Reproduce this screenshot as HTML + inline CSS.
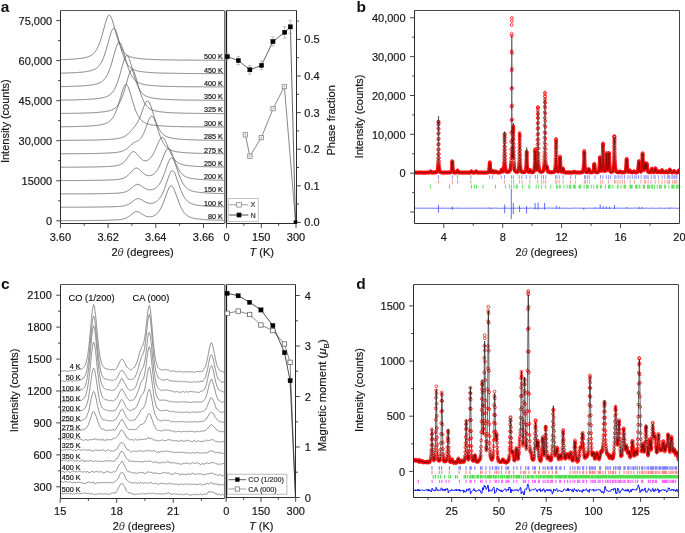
<!DOCTYPE html>
<html><head><meta charset="utf-8"><title>Figure</title><style>html,body{margin:0;padding:0;background:#fff;overflow:hidden;}svg{display:block;font-family:"Liberation Sans",sans-serif;will-change:transform;}</style></head><body>
<svg width="685" height="533" viewBox="0 0 685 533" font-family="Liberation Sans, sans-serif">
<defs><clipPath id="clipA"><rect x="61" y="11" width="163.2" height="211.6"/></clipPath><clipPath id="clipC"><rect x="61" y="285" width="163.2" height="213"/></clipPath><clipPath id="clipB"><rect x="415" y="11" width="264.5" height="212"/></clipPath><clipPath id="clipD"><rect x="414" y="285" width="264.2" height="211.7"/></clipPath><marker id="mc" markerWidth="4" markerHeight="4" refX="2" refY="2" markerUnits="userSpaceOnUse" overflow="visible"><circle cx="2" cy="2" r="1.42" fill="none" stroke="#ff0a0a" stroke-width="0.75"/></marker></defs>
<rect width="685" height="533" fill="#fff"/>
<g clip-path="url(#clipA)">
<polyline points="60.5,59.7 61.0,59.7 61.5,59.6 62.0,59.6 62.5,59.6 63.0,59.6 63.5,59.6 64.0,59.6 64.5,59.5 65.0,59.5 65.5,59.5 66.0,59.5 66.5,59.5 67.0,59.4 67.5,59.4 68.0,59.4 68.5,59.4 69.0,59.3 69.5,59.3 70.0,59.3 70.5,59.3 71.0,59.2 71.5,59.2 72.0,59.2 72.5,59.1 73.0,59.1 73.5,59.1 74.0,59.0 74.5,59.0 75.0,59.0 75.5,58.9 76.0,58.9 76.5,58.8 77.0,58.8 77.5,58.7 78.0,58.7 78.5,58.6 79.0,58.6 79.5,58.5 80.0,58.5 80.5,58.4 81.0,58.3 81.5,58.3 82.0,58.2 82.5,58.1 83.0,58.0 83.5,57.9 84.0,57.8 84.5,57.7 85.0,57.6 85.5,57.5 86.0,57.4 86.5,57.3 87.0,57.1 87.5,57.0 88.0,56.8 88.5,56.6 89.0,56.4 89.5,56.2 90.0,56.0 90.5,55.7 91.0,55.4 91.5,55.1 92.0,54.8 92.5,54.4 93.0,54.0 93.5,53.5 94.0,53.0 94.5,52.5 95.0,51.8 95.5,51.2 96.0,50.4 96.5,49.6 97.0,48.7 97.5,47.8 98.0,46.7 98.5,45.6 99.0,44.4 99.5,43.1 100.0,41.8 100.5,40.3 101.0,38.8 101.5,37.1 102.0,35.5 102.5,33.7 103.0,31.9 103.5,30.1 104.0,28.3 104.5,26.4 105.0,24.6 105.5,22.8 106.0,21.2 106.5,19.7 107.0,18.3 107.5,17.1 108.0,16.2 108.5,15.6 109.0,15.3 109.5,15.2 110.0,15.5 110.5,16.1 111.0,16.9 111.5,18.0 112.0,19.4 112.5,20.9 113.0,22.5 113.5,24.2 114.0,26.0 114.5,27.9 115.0,29.7 115.5,31.6 116.0,33.4 116.5,35.1 117.0,36.8 117.5,38.4 118.0,40.0 118.5,41.5 119.0,42.9 119.5,44.2 120.0,45.4 120.5,46.5 121.0,47.6 121.5,48.5 122.0,49.4 122.5,50.3 123.0,51.0 123.5,51.7 124.0,52.3 124.5,52.9 125.0,53.4 125.5,53.9 126.0,54.3 126.5,54.7 127.0,55.1 127.5,55.4 128.0,55.7 128.5,55.9 129.0,56.2 129.5,56.4 130.0,56.6 130.5,56.8 131.0,56.9 131.5,57.1 132.0,57.2 132.5,57.4 133.0,57.5 133.5,57.6 134.0,57.7 134.5,57.8 135.0,57.9 135.5,58.0 136.0,58.1 136.5,58.2 137.0,58.2 137.5,58.3 138.0,58.4 138.5,58.4 139.0,58.5 139.5,58.6 140.0,58.6 140.5,58.7 141.0,58.7 141.5,58.8 142.0,58.8 142.5,58.9 143.0,58.9 143.5,58.9 144.0,59.0 144.5,59.0 145.0,59.1 145.5,59.1 146.0,59.1 146.5,59.2 147.0,59.2 147.5,59.2 148.0,59.3 148.5,59.3 149.0,59.3 149.5,59.3 150.0,59.4 150.5,59.4 151.0,59.4 151.5,59.4 152.0,59.4 152.5,59.5 153.0,59.5 153.5,59.5 154.0,59.5 154.5,59.5 155.0,59.6 155.5,59.6 156.0,59.6 156.5,59.6 157.0,59.6 157.5,59.6 158.0,59.7 158.5,59.7 159.0,59.7 159.5,59.7 160.0,59.7 160.5,59.7 161.0,59.7 161.5,59.8 162.0,59.8 162.5,59.8 163.0,59.8 163.5,59.8 164.0,59.8 164.5,59.8 165.0,59.8 165.5,59.8 166.0,59.9 166.5,59.9 167.0,59.9 167.5,59.9 168.0,59.9 168.5,59.9 169.0,59.9 169.5,59.9 170.0,59.9 170.5,59.9 171.0,59.9 171.5,59.9 172.0,60.0 172.5,60.0 173.0,60.0 173.5,60.0 174.0,60.0 174.5,60.0 175.0,60.0 175.5,60.0 176.0,60.0 176.5,60.0 177.0,60.0 177.5,60.0 178.0,60.0 178.5,60.0 179.0,60.0 179.5,60.0 180.0,60.0 180.5,60.1 181.0,60.1 181.5,60.1 182.0,60.1 182.5,60.1 183.0,60.1 183.5,60.1 184.0,60.1 184.5,60.1 185.0,60.1 185.5,60.1 186.0,60.1 186.5,60.1 187.0,60.1 187.5,60.1 188.0,60.1 188.5,60.1 189.0,60.1 189.5,60.1 190.0,60.1 190.5,60.1 191.0,60.1 191.5,60.1 192.0,60.1 192.5,60.1 193.0,60.1 193.5,60.1 194.0,60.2 194.5,60.2 195.0,60.2 195.5,60.2 196.0,60.2 196.5,60.2 197.0,60.2 197.5,60.2 198.0,60.2 198.5,60.2 199.0,60.2 199.5,60.2 200.0,60.2 200.5,60.2 201.0,60.2 201.5,60.2 202.0,60.2 202.5,60.2 203.0,60.2 203.5,60.2 204.0,60.2 204.5,60.2 205.0,60.2 205.5,60.2 206.0,60.2 206.5,60.2 207.0,60.2 207.5,60.2 208.0,60.2 208.5,60.2 209.0,60.2 209.5,60.2 210.0,60.2 210.5,60.2 211.0,60.2 211.5,60.2 212.0,60.2 212.5,60.2 213.0,60.2 213.5,60.2 214.0,60.2 214.5,60.2 215.0,60.2 215.5,60.2 216.0,60.2 216.5,60.2 217.0,60.2 217.5,60.2 218.0,60.2 218.5,60.3 219.0,60.3 219.5,60.3 220.0,60.3 220.5,60.3 221.0,60.3 221.5,60.3 222.0,60.3 222.5,60.3 223.0,60.3 223.5,60.3 224.0,60.3 224.5,60.3" fill="none" stroke="#505050" stroke-width="0.7" />
<polyline points="60.5,73.2 61.0,73.2 61.5,73.2 62.0,73.1 62.5,73.1 63.0,73.1 63.5,73.1 64.0,73.1 64.5,73.1 65.0,73.1 65.5,73.0 66.0,73.0 66.5,73.0 67.0,73.0 67.5,73.0 68.0,73.0 68.5,72.9 69.0,72.9 69.5,72.9 70.0,72.9 70.5,72.9 71.0,72.8 71.5,72.8 72.0,72.8 72.5,72.8 73.0,72.8 73.5,72.7 74.0,72.7 74.5,72.7 75.0,72.6 75.5,72.6 76.0,72.6 76.5,72.6 77.0,72.5 77.5,72.5 78.0,72.5 78.5,72.4 79.0,72.4 79.5,72.3 80.0,72.3 80.5,72.3 81.0,72.2 81.5,72.2 82.0,72.1 82.5,72.1 83.0,72.0 83.5,72.0 84.0,71.9 84.5,71.8 85.0,71.8 85.5,71.7 86.0,71.6 86.5,71.6 87.0,71.5 87.5,71.4 88.0,71.3 88.5,71.2 89.0,71.1 89.5,71.0 90.0,70.9 90.5,70.8 91.0,70.6 91.5,70.5 92.0,70.4 92.5,70.2 93.0,70.0 93.5,69.8 94.0,69.6 94.5,69.4 95.0,69.1 95.5,68.8 96.0,68.5 96.5,68.2 97.0,67.8 97.5,67.4 98.0,66.9 98.5,66.4 99.0,65.8 99.5,65.2 100.0,64.5 100.5,63.8 101.0,62.9 101.5,62.1 102.0,61.1 102.5,60.0 103.0,58.9 103.5,57.7 104.0,56.4 104.5,55.0 105.0,53.6 105.5,52.0 106.0,50.4 106.5,48.7 107.0,46.9 107.5,45.1 108.0,43.3 108.5,41.4 109.0,39.6 109.5,37.8 110.0,36.0 110.5,34.3 111.0,32.8 111.5,31.4 112.0,30.3 112.5,29.3 113.0,28.7 113.5,28.4 114.0,28.3 114.5,28.6 115.0,29.2 115.5,30.1 116.0,31.2 116.5,32.5 117.0,34.0 117.5,35.7 118.0,37.4 118.5,39.2 119.0,41.1 119.5,42.9 120.0,44.8 120.5,46.6 121.0,48.4 121.5,50.1 122.0,51.7 122.5,53.3 123.0,54.7 123.5,56.1 124.0,57.5 124.5,58.7 125.0,59.8 125.5,60.9 126.0,61.9 126.5,62.8 127.0,63.6 127.5,64.4 128.0,65.1 128.5,65.7 129.0,66.3 129.5,66.8 130.0,67.3 130.5,67.7 131.0,68.1 131.5,68.4 132.0,68.8 132.5,69.0 133.0,69.3 133.5,69.5 134.0,69.8 134.5,70.0 135.0,70.2 135.5,70.3 136.0,70.5 136.5,70.6 137.0,70.8 137.5,70.9 138.0,71.0 138.5,71.1 139.0,71.2 139.5,71.3 140.0,71.4 140.5,71.5 141.0,71.5 141.5,71.6 142.0,71.7 142.5,71.8 143.0,71.8 143.5,71.9 144.0,71.9 144.5,72.0 145.0,72.1 145.5,72.1 146.0,72.2 146.5,72.2 147.0,72.3 147.5,72.3 148.0,72.3 148.5,72.4 149.0,72.4 149.5,72.5 150.0,72.5 150.5,72.5 151.0,72.6 151.5,72.6 152.0,72.6 152.5,72.6 153.0,72.7 153.5,72.7 154.0,72.7 154.5,72.8 155.0,72.8 155.5,72.8 156.0,72.8 156.5,72.8 157.0,72.9 157.5,72.9 158.0,72.9 158.5,72.9 159.0,72.9 159.5,73.0 160.0,73.0 160.5,73.0 161.0,73.0 161.5,73.0 162.0,73.0 162.5,73.1 163.0,73.1 163.5,73.1 164.0,73.1 164.5,73.1 165.0,73.1 165.5,73.1 166.0,73.2 166.5,73.2 167.0,73.2 167.5,73.2 168.0,73.2 168.5,73.2 169.0,73.2 169.5,73.2 170.0,73.2 170.5,73.2 171.0,73.3 171.5,73.3 172.0,73.3 172.5,73.3 173.0,73.3 173.5,73.3 174.0,73.3 174.5,73.3 175.0,73.3 175.5,73.3 176.0,73.3 176.5,73.3 177.0,73.4 177.5,73.4 178.0,73.4 178.5,73.4 179.0,73.4 179.5,73.4 180.0,73.4 180.5,73.4 181.0,73.4 181.5,73.4 182.0,73.4 182.5,73.4 183.0,73.4 183.5,73.4 184.0,73.4 184.5,73.4 185.0,73.4 185.5,73.5 186.0,73.5 186.5,73.5 187.0,73.5 187.5,73.5 188.0,73.5 188.5,73.5 189.0,73.5 189.5,73.5 190.0,73.5 190.5,73.5 191.0,73.5 191.5,73.5 192.0,73.5 192.5,73.5 193.0,73.5 193.5,73.5 194.0,73.5 194.5,73.5 195.0,73.5 195.5,73.5 196.0,73.5 196.5,73.5 197.0,73.5 197.5,73.5 198.0,73.5 198.5,73.6 199.0,73.6 199.5,73.6 200.0,73.6 200.5,73.6 201.0,73.6 201.5,73.6 202.0,73.6 202.5,73.6 203.0,73.6 203.5,73.6 204.0,73.6 204.5,73.6 205.0,73.6 205.5,73.6 206.0,73.6 206.5,73.6 207.0,73.6 207.5,73.6 208.0,73.6 208.5,73.6 209.0,73.6 209.5,73.6 210.0,73.6 210.5,73.6 211.0,73.6 211.5,73.6 212.0,73.6 212.5,73.6 213.0,73.6 213.5,73.6 214.0,73.6 214.5,73.6 215.0,73.6 215.5,73.6 216.0,73.6 216.5,73.6 217.0,73.6 217.5,73.6 218.0,73.6 218.5,73.6 219.0,73.6 219.5,73.6 220.0,73.6 220.5,73.6 221.0,73.6 221.5,73.6 222.0,73.6 222.5,73.6 223.0,73.6 223.5,73.7 224.0,73.7 224.5,73.7" fill="none" stroke="#505050" stroke-width="0.7" />
<polyline points="60.5,86.6 61.0,86.6 61.5,86.6 62.0,86.6 62.5,86.6 63.0,86.5 63.5,86.5 64.0,86.5 64.5,86.5 65.0,86.5 65.5,86.5 66.0,86.5 66.5,86.5 67.0,86.5 67.5,86.4 68.0,86.4 68.5,86.4 69.0,86.4 69.5,86.4 70.0,86.4 70.5,86.4 71.0,86.4 71.5,86.3 72.0,86.3 72.5,86.3 73.0,86.3 73.5,86.3 74.0,86.3 74.5,86.2 75.0,86.2 75.5,86.2 76.0,86.2 76.5,86.2 77.0,86.1 77.5,86.1 78.0,86.1 78.5,86.1 79.0,86.0 79.5,86.0 80.0,86.0 80.5,86.0 81.0,85.9 81.5,85.9 82.0,85.9 82.5,85.8 83.0,85.8 83.5,85.8 84.0,85.7 84.5,85.7 85.0,85.7 85.5,85.6 86.0,85.6 86.5,85.5 87.0,85.5 87.5,85.4 88.0,85.4 88.5,85.3 89.0,85.3 89.5,85.2 90.0,85.2 90.5,85.1 91.0,85.0 91.5,85.0 92.0,84.9 92.5,84.8 93.0,84.7 93.5,84.6 94.0,84.5 94.5,84.4 95.0,84.3 95.5,84.2 96.0,84.1 96.5,84.0 97.0,83.8 97.5,83.7 98.0,83.5 98.5,83.3 99.0,83.1 99.5,82.9 100.0,82.7 100.5,82.4 101.0,82.1 101.5,81.8 102.0,81.5 102.5,81.1 103.0,80.6 103.5,80.2 104.0,79.7 104.5,79.1 105.0,78.5 105.5,77.8 106.0,77.0 106.5,76.2 107.0,75.3 107.5,74.4 108.0,73.3 108.5,72.2 109.0,71.0 109.5,69.7 110.0,68.3 110.5,66.8 111.0,65.3 111.5,63.7 112.0,62.0 112.5,60.2 113.0,58.5 113.5,56.6 114.0,54.8 114.5,53.0 115.0,51.2 115.5,49.5 116.0,47.8 116.5,46.3 117.0,45.0 117.5,43.9 118.0,43.1 118.5,42.5 119.0,42.2 119.5,42.3 120.0,42.6 120.5,43.2 121.0,44.1 121.5,45.3 122.0,46.6 122.5,48.1 123.0,49.8 123.5,51.5 124.0,53.3 124.5,55.2 125.0,57.0 125.5,58.8 126.0,60.6 126.5,62.3 127.0,64.0 127.5,65.6 128.0,67.1 128.5,68.6 129.0,69.9 129.5,71.2 130.0,72.4 130.5,73.5 131.0,74.6 131.5,75.5 132.0,76.4 132.5,77.2 133.0,77.9 133.5,78.6 134.0,79.2 134.5,79.8 135.0,80.3 135.5,80.7 136.0,81.2 136.5,81.5 137.0,81.9 137.5,82.2 138.0,82.5 138.5,82.7 139.0,82.9 139.5,83.2 140.0,83.4 140.5,83.5 141.0,83.7 141.5,83.8 142.0,84.0 142.5,84.1 143.0,84.2 143.5,84.3 144.0,84.5 144.5,84.6 145.0,84.6 145.5,84.7 146.0,84.8 146.5,84.9 147.0,85.0 147.5,85.0 148.0,85.1 148.5,85.2 149.0,85.2 149.5,85.3 150.0,85.3 150.5,85.4 151.0,85.4 151.5,85.5 152.0,85.5 152.5,85.6 153.0,85.6 153.5,85.7 154.0,85.7 154.5,85.7 155.0,85.8 155.5,85.8 156.0,85.8 156.5,85.9 157.0,85.9 157.5,85.9 158.0,86.0 158.5,86.0 159.0,86.0 159.5,86.0 160.0,86.1 160.5,86.1 161.0,86.1 161.5,86.1 162.0,86.2 162.5,86.2 163.0,86.2 163.5,86.2 164.0,86.2 164.5,86.3 165.0,86.3 165.5,86.3 166.0,86.3 166.5,86.3 167.0,86.3 167.5,86.4 168.0,86.4 168.5,86.4 169.0,86.4 169.5,86.4 170.0,86.4 170.5,86.4 171.0,86.5 171.5,86.5 172.0,86.5 172.5,86.5 173.0,86.5 173.5,86.5 174.0,86.5 174.5,86.5 175.0,86.5 175.5,86.5 176.0,86.6 176.5,86.6 177.0,86.6 177.5,86.6 178.0,86.6 178.5,86.6 179.0,86.6 179.5,86.6 180.0,86.6 180.5,86.6 181.0,86.6 181.5,86.6 182.0,86.7 182.5,86.7 183.0,86.7 183.5,86.7 184.0,86.7 184.5,86.7 185.0,86.7 185.5,86.7 186.0,86.7 186.5,86.7 187.0,86.7 187.5,86.7 188.0,86.7 188.5,86.7 189.0,86.7 189.5,86.7 190.0,86.7 190.5,86.8 191.0,86.8 191.5,86.8 192.0,86.8 192.5,86.8 193.0,86.8 193.5,86.8 194.0,86.8 194.5,86.8 195.0,86.8 195.5,86.8 196.0,86.8 196.5,86.8 197.0,86.8 197.5,86.8 198.0,86.8 198.5,86.8 199.0,86.8 199.5,86.8 200.0,86.8 200.5,86.8 201.0,86.8 201.5,86.8 202.0,86.8 202.5,86.8 203.0,86.8 203.5,86.9 204.0,86.9 204.5,86.9 205.0,86.9 205.5,86.9 206.0,86.9 206.5,86.9 207.0,86.9 207.5,86.9 208.0,86.9 208.5,86.9 209.0,86.9 209.5,86.9 210.0,86.9 210.5,86.9 211.0,86.9 211.5,86.9 212.0,86.9 212.5,86.9 213.0,86.9 213.5,86.9 214.0,86.9 214.5,86.9 215.0,86.9 215.5,86.9 216.0,86.9 216.5,86.9 217.0,86.9 217.5,86.9 218.0,86.9 218.5,86.9 219.0,86.9 219.5,86.9 220.0,86.9 220.5,86.9 221.0,86.9 221.5,86.9 222.0,86.9 222.5,86.9 223.0,86.9 223.5,86.9 224.0,86.9 224.5,86.9" fill="none" stroke="#505050" stroke-width="0.7" />
<polyline points="60.5,100.1 61.0,100.1 61.5,100.1 62.0,100.1 62.5,100.1 63.0,100.1 63.5,100.1 64.0,100.1 64.5,100.0 65.0,100.0 65.5,100.0 66.0,100.0 66.5,100.0 67.0,100.0 67.5,100.0 68.0,100.0 68.5,100.0 69.0,100.0 69.5,100.0 70.0,100.0 70.5,100.0 71.0,99.9 71.5,99.9 72.0,99.9 72.5,99.9 73.0,99.9 73.5,99.9 74.0,99.9 74.5,99.9 75.0,99.9 75.5,99.8 76.0,99.8 76.5,99.8 77.0,99.8 77.5,99.8 78.0,99.8 78.5,99.8 79.0,99.7 79.5,99.7 80.0,99.7 80.5,99.7 81.0,99.7 81.5,99.7 82.0,99.6 82.5,99.6 83.0,99.6 83.5,99.6 84.0,99.6 84.5,99.5 85.0,99.5 85.5,99.5 86.0,99.5 86.5,99.4 87.0,99.4 87.5,99.4 88.0,99.4 88.5,99.3 89.0,99.3 89.5,99.3 90.0,99.3 90.5,99.2 91.0,99.2 91.5,99.1 92.0,99.1 92.5,99.1 93.0,99.0 93.5,99.0 94.0,98.9 94.5,98.9 95.0,98.9 95.5,98.8 96.0,98.8 96.5,98.7 97.0,98.6 97.5,98.6 98.0,98.5 98.5,98.5 99.0,98.4 99.5,98.3 100.0,98.2 100.5,98.1 101.0,98.1 101.5,98.0 102.0,97.9 102.5,97.8 103.0,97.7 103.5,97.5 104.0,97.4 104.5,97.3 105.0,97.1 105.5,97.0 106.0,96.8 106.5,96.6 107.0,96.4 107.5,96.2 108.0,95.9 108.5,95.6 109.0,95.3 109.5,95.0 110.0,94.6 110.5,94.2 111.0,93.8 111.5,93.3 112.0,92.7 112.5,92.1 113.0,91.5 113.5,90.7 114.0,90.0 114.5,89.1 115.0,88.2 115.5,87.1 116.0,86.0 116.5,84.9 117.0,83.6 117.5,82.3 118.0,80.8 118.5,79.3 119.0,77.7 119.5,76.1 120.0,74.3 120.5,72.6 121.0,70.8 121.5,68.9 122.0,67.1 122.5,65.3 123.0,63.5 123.5,61.9 124.0,60.3 124.5,58.9 125.0,57.7 125.5,56.8 126.0,56.1 126.5,55.7 127.0,55.6 127.5,55.8 128.0,56.3 128.5,57.1 129.0,58.2 129.5,59.5 130.0,60.9 130.5,62.5 131.0,64.2 131.5,66.0 132.0,67.8 132.5,69.7 133.0,71.5 133.5,73.3 134.0,75.0 134.5,76.7 135.0,78.4 135.5,79.9 136.0,81.4 136.5,82.8 137.0,84.1 137.5,85.3 138.0,86.5 138.5,87.6 139.0,88.5 139.5,89.4 140.0,90.3 140.5,91.0 141.0,91.7 141.5,92.4 142.0,93.0 142.5,93.5 143.0,94.0 143.5,94.4 144.0,94.8 144.5,95.1 145.0,95.5 145.5,95.8 146.0,96.0 146.5,96.3 147.0,96.5 147.5,96.7 148.0,96.9 148.5,97.0 149.0,97.2 149.5,97.3 150.0,97.5 150.5,97.6 151.0,97.7 151.5,97.8 152.0,97.9 152.5,98.0 153.0,98.1 153.5,98.2 154.0,98.3 154.5,98.3 155.0,98.4 155.5,98.5 156.0,98.5 156.5,98.6 157.0,98.7 157.5,98.7 158.0,98.8 158.5,98.8 159.0,98.9 159.5,98.9 160.0,99.0 160.5,99.0 161.0,99.0 161.5,99.1 162.0,99.1 162.5,99.2 163.0,99.2 163.5,99.2 164.0,99.3 164.5,99.3 165.0,99.3 165.5,99.4 166.0,99.4 166.5,99.4 167.0,99.4 167.5,99.5 168.0,99.5 168.5,99.5 169.0,99.5 169.5,99.6 170.0,99.6 170.5,99.6 171.0,99.6 171.5,99.6 172.0,99.7 172.5,99.7 173.0,99.7 173.5,99.7 174.0,99.7 174.5,99.7 175.0,99.8 175.5,99.8 176.0,99.8 176.5,99.8 177.0,99.8 177.5,99.8 178.0,99.8 178.5,99.8 179.0,99.9 179.5,99.9 180.0,99.9 180.5,99.9 181.0,99.9 181.5,99.9 182.0,99.9 182.5,99.9 183.0,99.9 183.5,100.0 184.0,100.0 184.5,100.0 185.0,100.0 185.5,100.0 186.0,100.0 186.5,100.0 187.0,100.0 187.5,100.0 188.0,100.0 188.5,100.0 189.0,100.0 189.5,100.1 190.0,100.1 190.5,100.1 191.0,100.1 191.5,100.1 192.0,100.1 192.5,100.1 193.0,100.1 193.5,100.1 194.0,100.1 194.5,100.1 195.0,100.1 195.5,100.1 196.0,100.1 196.5,100.1 197.0,100.1 197.5,100.1 198.0,100.2 198.5,100.2 199.0,100.2 199.5,100.2 200.0,100.2 200.5,100.2 201.0,100.2 201.5,100.2 202.0,100.2 202.5,100.2 203.0,100.2 203.5,100.2 204.0,100.2 204.5,100.2 205.0,100.2 205.5,100.2 206.0,100.2 206.5,100.2 207.0,100.2 207.5,100.2 208.0,100.2 208.5,100.2 209.0,100.2 209.5,100.2 210.0,100.2 210.5,100.2 211.0,100.3 211.5,100.3 212.0,100.3 212.5,100.3 213.0,100.3 213.5,100.3 214.0,100.3 214.5,100.3 215.0,100.3 215.5,100.3 216.0,100.3 216.5,100.3 217.0,100.3 217.5,100.3 218.0,100.3 218.5,100.3 219.0,100.3 219.5,100.3 220.0,100.3 220.5,100.3 221.0,100.3 221.5,100.3 222.0,100.3 222.5,100.3 223.0,100.3 223.5,100.3 224.0,100.3 224.5,100.3" fill="none" stroke="#505050" stroke-width="0.7" />
<polyline points="60.5,113.5 61.0,113.5 61.5,113.5 62.0,113.4 62.5,113.4 63.0,113.4 63.5,113.4 64.0,113.4 64.5,113.4 65.0,113.4 65.5,113.4 66.0,113.4 66.5,113.4 67.0,113.4 67.5,113.4 68.0,113.4 68.5,113.4 69.0,113.4 69.5,113.4 70.0,113.4 70.5,113.3 71.0,113.3 71.5,113.3 72.0,113.3 72.5,113.3 73.0,113.3 73.5,113.3 74.0,113.3 74.5,113.3 75.0,113.3 75.5,113.3 76.0,113.3 76.5,113.2 77.0,113.2 77.5,113.2 78.0,113.2 78.5,113.2 79.0,113.2 79.5,113.2 80.0,113.2 80.5,113.2 81.0,113.1 81.5,113.1 82.0,113.1 82.5,113.1 83.0,113.1 83.5,113.1 84.0,113.1 84.5,113.0 85.0,113.0 85.5,113.0 86.0,113.0 86.5,113.0 87.0,113.0 87.5,112.9 88.0,112.9 88.5,112.9 89.0,112.9 89.5,112.9 90.0,112.8 90.5,112.8 91.0,112.8 91.5,112.8 92.0,112.7 92.5,112.7 93.0,112.7 93.5,112.7 94.0,112.6 94.5,112.6 95.0,112.6 95.5,112.5 96.0,112.5 96.5,112.5 97.0,112.4 97.5,112.4 98.0,112.4 98.5,112.3 99.0,112.3 99.5,112.2 100.0,112.2 100.5,112.1 101.0,112.1 101.5,112.0 102.0,112.0 102.5,111.9 103.0,111.9 103.5,111.8 104.0,111.7 104.5,111.7 105.0,111.6 105.5,111.5 106.0,111.4 106.5,111.3 107.0,111.2 107.5,111.1 108.0,111.0 108.5,110.9 109.0,110.8 109.5,110.7 110.0,110.5 110.5,110.4 111.0,110.2 111.5,110.0 112.0,109.8 112.5,109.6 113.0,109.3 113.5,109.1 114.0,108.8 114.5,108.5 115.0,108.1 115.5,107.7 116.0,107.3 116.5,106.8 117.0,106.3 117.5,105.7 118.0,105.0 118.5,104.3 119.0,103.6 119.5,102.7 120.0,101.8 120.5,100.9 121.0,99.8 121.5,98.6 122.0,97.4 122.5,96.1 123.0,94.7 123.5,93.2 124.0,91.7 124.5,90.1 125.0,88.4 125.5,86.7 126.0,84.9 126.5,83.1 127.0,81.3 127.5,79.5 128.0,77.8 128.5,76.1 129.0,74.5 129.5,73.1 130.0,71.9 130.5,70.9 131.0,70.2 131.5,69.8 132.0,69.6 132.5,69.8 133.0,70.2 133.5,70.9 134.0,71.9 134.5,73.1 135.0,74.5 135.5,76.1 136.0,77.8 136.5,79.5 137.0,81.3 137.5,83.1 138.0,84.9 138.5,86.7 139.0,88.4 139.5,90.1 140.0,91.7 140.5,93.2 141.0,94.7 141.5,96.1 142.0,97.4 142.5,98.6 143.0,99.8 143.5,100.9 144.0,101.8 144.5,102.7 145.0,103.6 145.5,104.3 146.0,105.0 146.5,105.7 147.0,106.3 147.5,106.8 148.0,107.3 148.5,107.7 149.0,108.1 149.5,108.5 150.0,108.8 150.5,109.1 151.0,109.3 151.5,109.6 152.0,109.8 152.5,110.0 153.0,110.2 153.5,110.4 154.0,110.5 154.5,110.7 155.0,110.8 155.5,110.9 156.0,111.0 156.5,111.1 157.0,111.2 157.5,111.3 158.0,111.4 158.5,111.5 159.0,111.6 159.5,111.7 160.0,111.7 160.5,111.8 161.0,111.9 161.5,111.9 162.0,112.0 162.5,112.0 163.0,112.1 163.5,112.1 164.0,112.2 164.5,112.2 165.0,112.3 165.5,112.3 166.0,112.4 166.5,112.4 167.0,112.4 167.5,112.5 168.0,112.5 168.5,112.5 169.0,112.6 169.5,112.6 170.0,112.6 170.5,112.7 171.0,112.7 171.5,112.7 172.0,112.7 172.5,112.8 173.0,112.8 173.5,112.8 174.0,112.8 174.5,112.9 175.0,112.9 175.5,112.9 176.0,112.9 176.5,112.9 177.0,113.0 177.5,113.0 178.0,113.0 178.5,113.0 179.0,113.0 179.5,113.0 180.0,113.1 180.5,113.1 181.0,113.1 181.5,113.1 182.0,113.1 182.5,113.1 183.0,113.1 183.5,113.2 184.0,113.2 184.5,113.2 185.0,113.2 185.5,113.2 186.0,113.2 186.5,113.2 187.0,113.2 187.5,113.2 188.0,113.3 188.5,113.3 189.0,113.3 189.5,113.3 190.0,113.3 190.5,113.3 191.0,113.3 191.5,113.3 192.0,113.3 192.5,113.3 193.0,113.3 193.5,113.3 194.0,113.4 194.5,113.4 195.0,113.4 195.5,113.4 196.0,113.4 196.5,113.4 197.0,113.4 197.5,113.4 198.0,113.4 198.5,113.4 199.0,113.4 199.5,113.4 200.0,113.4 200.5,113.4 201.0,113.4 201.5,113.4 202.0,113.4 202.5,113.5 203.0,113.5 203.5,113.5 204.0,113.5 204.5,113.5 205.0,113.5 205.5,113.5 206.0,113.5 206.5,113.5 207.0,113.5 207.5,113.5 208.0,113.5 208.5,113.5 209.0,113.5 209.5,113.5 210.0,113.5 210.5,113.5 211.0,113.5 211.5,113.5 212.0,113.5 212.5,113.5 213.0,113.5 213.5,113.5 214.0,113.5 214.5,113.5 215.0,113.5 215.5,113.6 216.0,113.6 216.5,113.6 217.0,113.6 217.5,113.6 218.0,113.6 218.5,113.6 219.0,113.6 219.5,113.6 220.0,113.6 220.5,113.6 221.0,113.6 221.5,113.6 222.0,113.6 222.5,113.6 223.0,113.6 223.5,113.6 224.0,113.6 224.5,113.6" fill="none" stroke="#505050" stroke-width="0.7" />
<polyline points="60.5,126.8 61.0,126.8 61.5,126.8 62.0,126.8 62.5,126.8 63.0,126.8 63.5,126.8 64.0,126.8 64.5,126.8 65.0,126.8 65.5,126.7 66.0,126.7 66.5,126.7 67.0,126.7 67.5,126.7 68.0,126.7 68.5,126.7 69.0,126.7 69.5,126.7 70.0,126.7 70.5,126.7 71.0,126.6 71.5,126.6 72.0,126.6 72.5,126.6 73.0,126.6 73.5,126.6 74.0,126.6 74.5,126.6 75.0,126.6 75.5,126.5 76.0,126.5 76.5,126.5 77.0,126.5 77.5,126.5 78.0,126.5 78.5,126.5 79.0,126.5 79.5,126.4 80.0,126.4 80.5,126.4 81.0,126.4 81.5,126.4 82.0,126.3 82.5,126.3 83.0,126.3 83.5,126.3 84.0,126.3 84.5,126.2 85.0,126.2 85.5,126.2 86.0,126.2 86.5,126.2 87.0,126.1 87.5,126.1 88.0,126.1 88.5,126.0 89.0,126.0 89.5,126.0 90.0,125.9 90.5,125.9 91.0,125.9 91.5,125.8 92.0,125.8 92.5,125.8 93.0,125.7 93.5,125.7 94.0,125.6 94.5,125.6 95.0,125.5 95.5,125.5 96.0,125.4 96.5,125.4 97.0,125.3 97.5,125.3 98.0,125.2 98.5,125.1 99.0,125.0 99.5,125.0 100.0,124.9 100.5,124.8 101.0,124.7 101.5,124.6 102.0,124.5 102.5,124.4 103.0,124.3 103.5,124.1 104.0,124.0 104.5,123.9 105.0,123.7 105.5,123.5 106.0,123.3 106.5,123.1 107.0,122.9 107.5,122.6 108.0,122.3 108.5,122.0 109.0,121.7 109.5,121.3 110.0,120.9 110.5,120.4 111.0,119.9 111.5,119.3 112.0,118.7 112.5,118.0 113.0,117.3 113.5,116.5 114.0,115.6 114.5,114.6 115.0,113.6 115.5,112.5 116.0,111.3 116.5,110.0 117.0,108.7 117.5,107.3 118.0,105.7 118.5,104.2 119.0,102.5 119.5,100.9 120.0,99.1 120.5,97.4 121.0,95.6 121.5,93.9 122.0,92.2 122.5,90.6 123.0,89.1 123.5,87.7 124.0,86.6 124.5,85.6 125.0,84.9 125.5,84.4 126.0,84.3 126.5,84.4 127.0,84.9 127.5,85.6 128.0,86.6 128.5,87.7 129.0,89.1 129.5,90.6 130.0,92.2 130.5,93.9 131.0,95.6 131.5,97.4 132.0,99.1 132.5,100.9 133.0,102.5 133.5,104.2 134.0,105.7 134.5,107.3 135.0,108.7 135.5,110.0 136.0,111.3 136.5,112.5 137.0,113.6 137.5,114.6 138.0,115.6 138.5,116.5 139.0,117.3 139.5,118.0 140.0,118.7 140.5,119.3 141.0,119.9 141.5,120.4 142.0,120.9 142.5,121.3 143.0,121.7 143.5,122.0 144.0,122.3 144.5,122.6 145.0,122.9 145.5,123.1 146.0,123.3 146.5,123.5 147.0,123.7 147.5,123.9 148.0,124.0 148.5,124.1 149.0,124.3 149.5,124.4 150.0,124.5 150.5,124.6 151.0,124.7 151.5,124.8 152.0,124.9 152.5,125.0 153.0,125.0 153.5,125.1 154.0,125.2 154.5,125.3 155.0,125.3 155.5,125.4 156.0,125.4 156.5,125.5 157.0,125.5 157.5,125.6 158.0,125.6 158.5,125.7 159.0,125.7 159.5,125.8 160.0,125.8 160.5,125.8 161.0,125.9 161.5,125.9 162.0,125.9 162.5,126.0 163.0,126.0 163.5,126.0 164.0,126.1 164.5,126.1 165.0,126.1 165.5,126.2 166.0,126.2 166.5,126.2 167.0,126.2 167.5,126.2 168.0,126.3 168.5,126.3 169.0,126.3 169.5,126.3 170.0,126.3 170.5,126.4 171.0,126.4 171.5,126.4 172.0,126.4 172.5,126.4 173.0,126.5 173.5,126.5 174.0,126.5 174.5,126.5 175.0,126.5 175.5,126.5 176.0,126.5 176.5,126.5 177.0,126.6 177.5,126.6 178.0,126.6 178.5,126.6 179.0,126.6 179.5,126.6 180.0,126.6 180.5,126.6 181.0,126.6 181.5,126.7 182.0,126.7 182.5,126.7 183.0,126.7 183.5,126.7 184.0,126.7 184.5,126.7 185.0,126.7 185.5,126.7 186.0,126.7 186.5,126.7 187.0,126.8 187.5,126.8 188.0,126.8 188.5,126.8 189.0,126.8 189.5,126.8 190.0,126.8 190.5,126.8 191.0,126.8 191.5,126.8 192.0,126.8 192.5,126.8 193.0,126.8 193.5,126.8 194.0,126.8 194.5,126.8 195.0,126.8 195.5,126.9 196.0,126.9 196.5,126.9 197.0,126.9 197.5,126.9 198.0,126.9 198.5,126.9 199.0,126.9 199.5,126.9 200.0,126.9 200.5,126.9 201.0,126.9 201.5,126.9 202.0,126.9 202.5,126.9 203.0,126.9 203.5,126.9 204.0,126.9 204.5,126.9 205.0,126.9 205.5,126.9 206.0,126.9 206.5,126.9 207.0,126.9 207.5,126.9 208.0,126.9 208.5,127.0 209.0,127.0 209.5,127.0 210.0,127.0 210.5,127.0 211.0,127.0 211.5,127.0 212.0,127.0 212.5,127.0 213.0,127.0 213.5,127.0 214.0,127.0 214.5,127.0 215.0,127.0 215.5,127.0 216.0,127.0 216.5,127.0 217.0,127.0 217.5,127.0 218.0,127.0 218.5,127.0 219.0,127.0 219.5,127.0 220.0,127.0 220.5,127.0 221.0,127.0 221.5,127.0 222.0,127.0 222.5,127.0 223.0,127.0 223.5,127.0 224.0,127.0 224.5,127.0" fill="none" stroke="#505050" stroke-width="0.7" />
<polyline points="60.5,140.4 61.0,140.4 61.5,140.4 62.0,140.4 62.5,140.4 63.0,140.4 63.5,140.4 64.0,140.4 64.5,140.4 65.0,140.3 65.5,140.3 66.0,140.3 66.5,140.3 67.0,140.3 67.5,140.3 68.0,140.3 68.5,140.3 69.0,140.3 69.5,140.3 70.0,140.3 70.5,140.3 71.0,140.3 71.5,140.3 72.0,140.3 72.5,140.3 73.0,140.3 73.5,140.3 74.0,140.3 74.5,140.3 75.0,140.3 75.5,140.3 76.0,140.3 76.5,140.3 77.0,140.3 77.5,140.3 78.0,140.2 78.5,140.2 79.0,140.2 79.5,140.2 80.0,140.2 80.5,140.2 81.0,140.2 81.5,140.2 82.0,140.2 82.5,140.2 83.0,140.2 83.5,140.2 84.0,140.2 84.5,140.2 85.0,140.2 85.5,140.2 86.0,140.1 86.5,140.1 87.0,140.1 87.5,140.1 88.0,140.1 88.5,140.1 89.0,140.1 89.5,140.1 90.0,140.1 90.5,140.1 91.0,140.1 91.5,140.1 92.0,140.0 92.5,140.0 93.0,140.0 93.5,140.0 94.0,140.0 94.5,140.0 95.0,140.0 95.5,140.0 96.0,140.0 96.5,139.9 97.0,139.9 97.5,139.9 98.0,139.9 98.5,139.9 99.0,139.9 99.5,139.9 100.0,139.8 100.5,139.8 101.0,139.8 101.5,139.8 102.0,139.8 102.5,139.7 103.0,139.7 103.5,139.7 104.0,139.7 104.5,139.7 105.0,139.6 105.5,139.6 106.0,139.6 106.5,139.6 107.0,139.5 107.5,139.5 108.0,139.5 108.5,139.5 109.0,139.4 109.5,139.4 110.0,139.4 110.5,139.3 111.0,139.3 111.5,139.2 112.0,139.2 112.5,139.2 113.0,139.1 113.5,139.1 114.0,139.0 114.5,139.0 115.0,138.9 115.5,138.9 116.0,138.8 116.5,138.7 117.0,138.6 117.5,138.6 118.0,138.5 118.5,138.4 119.0,138.3 119.5,138.2 120.0,138.1 120.5,137.9 121.0,137.8 121.5,137.6 122.0,137.5 122.5,137.3 123.0,137.1 123.5,136.9 124.0,136.6 124.5,136.4 125.0,136.1 125.5,135.8 126.0,135.5 126.5,135.1 127.0,134.8 127.5,134.4 128.0,134.0 128.5,133.5 129.0,133.1 129.5,132.6 130.0,132.1 130.5,131.5 131.0,131.0 131.5,130.4 132.0,129.8 132.5,129.2 133.0,128.6 133.5,128.0 134.0,127.4 134.5,126.7 135.0,126.1 135.5,125.4 136.0,124.7 136.5,123.9 137.0,123.1 137.5,122.3 138.0,121.3 138.5,120.4 139.0,119.3 139.5,118.2 140.0,117.0 140.5,115.8 141.0,114.5 141.5,113.1 142.0,111.7 142.5,110.3 143.0,108.9 143.5,107.5 144.0,106.2 144.5,104.9 145.0,103.8 145.5,102.8 146.0,102.0 146.5,101.4 147.0,101.0 147.5,100.9 148.0,101.0 148.5,101.4 149.0,102.1 149.5,103.0 150.0,104.0 150.5,105.3 151.0,106.6 151.5,108.1 152.0,109.7 152.5,111.3 153.0,112.9 153.5,114.5 154.0,116.1 154.5,117.6 155.0,119.1 155.5,120.6 156.0,122.0 156.5,123.3 157.0,124.5 157.5,125.7 158.0,126.8 158.5,127.9 159.0,128.8 159.5,129.7 160.0,130.5 160.5,131.3 161.0,132.0 161.5,132.6 162.0,133.2 162.5,133.7 163.0,134.2 163.5,134.6 164.0,135.0 164.5,135.4 165.0,135.7 165.5,136.0 166.0,136.3 166.5,136.5 167.0,136.7 167.5,136.9 168.0,137.1 168.5,137.3 169.0,137.4 169.5,137.6 170.0,137.7 170.5,137.8 171.0,137.9 171.5,138.0 172.0,138.1 172.5,138.2 173.0,138.3 173.5,138.4 174.0,138.5 174.5,138.6 175.0,138.6 175.5,138.7 176.0,138.8 176.5,138.8 177.0,138.9 177.5,138.9 178.0,139.0 178.5,139.0 179.0,139.1 179.5,139.1 180.0,139.2 180.5,139.2 181.0,139.2 181.5,139.3 182.0,139.3 182.5,139.3 183.0,139.4 183.5,139.4 184.0,139.4 184.5,139.5 185.0,139.5 185.5,139.5 186.0,139.5 186.5,139.6 187.0,139.6 187.5,139.6 188.0,139.6 188.5,139.7 189.0,139.7 189.5,139.7 190.0,139.7 190.5,139.7 191.0,139.8 191.5,139.8 192.0,139.8 192.5,139.8 193.0,139.8 193.5,139.9 194.0,139.9 194.5,139.9 195.0,139.9 195.5,139.9 196.0,139.9 196.5,139.9 197.0,140.0 197.5,140.0 198.0,140.0 198.5,140.0 199.0,140.0 199.5,140.0 200.0,140.0 200.5,140.0 201.0,140.0 201.5,140.1 202.0,140.1 202.5,140.1 203.0,140.1 203.5,140.1 204.0,140.1 204.5,140.1 205.0,140.1 205.5,140.1 206.0,140.1 206.5,140.1 207.0,140.1 207.5,140.2 208.0,140.2 208.5,140.2 209.0,140.2 209.5,140.2 210.0,140.2 210.5,140.2 211.0,140.2 211.5,140.2 212.0,140.2 212.5,140.2 213.0,140.2 213.5,140.2 214.0,140.2 214.5,140.2 215.0,140.2 215.5,140.3 216.0,140.3 216.5,140.3 217.0,140.3 217.5,140.3 218.0,140.3 218.5,140.3 219.0,140.3 219.5,140.3 220.0,140.3 220.5,140.3 221.0,140.3 221.5,140.3 222.0,140.3 222.5,140.3 223.0,140.3 223.5,140.3 224.0,140.3 224.5,140.3" fill="none" stroke="#505050" stroke-width="0.7" />
<polyline points="60.5,153.8 61.0,153.8 61.5,153.8 62.0,153.8 62.5,153.8 63.0,153.8 63.5,153.8 64.0,153.8 64.5,153.8 65.0,153.8 65.5,153.8 66.0,153.8 66.5,153.8 67.0,153.8 67.5,153.8 68.0,153.8 68.5,153.7 69.0,153.7 69.5,153.7 70.0,153.7 70.5,153.7 71.0,153.7 71.5,153.7 72.0,153.7 72.5,153.7 73.0,153.7 73.5,153.7 74.0,153.7 74.5,153.7 75.0,153.7 75.5,153.7 76.0,153.7 76.5,153.7 77.0,153.7 77.5,153.7 78.0,153.7 78.5,153.7 79.0,153.7 79.5,153.7 80.0,153.7 80.5,153.7 81.0,153.6 81.5,153.6 82.0,153.6 82.5,153.6 83.0,153.6 83.5,153.6 84.0,153.6 84.5,153.6 85.0,153.6 85.5,153.6 86.0,153.6 86.5,153.6 87.0,153.6 87.5,153.6 88.0,153.6 88.5,153.6 89.0,153.5 89.5,153.5 90.0,153.5 90.5,153.5 91.0,153.5 91.5,153.5 92.0,153.5 92.5,153.5 93.0,153.5 93.5,153.5 94.0,153.5 94.5,153.5 95.0,153.4 95.5,153.4 96.0,153.4 96.5,153.4 97.0,153.4 97.5,153.4 98.0,153.4 98.5,153.4 99.0,153.4 99.5,153.3 100.0,153.3 100.5,153.3 101.0,153.3 101.5,153.3 102.0,153.3 102.5,153.2 103.0,153.2 103.5,153.2 104.0,153.2 104.5,153.2 105.0,153.2 105.5,153.1 106.0,153.1 106.5,153.1 107.0,153.1 107.5,153.0 108.0,153.0 108.5,153.0 109.0,153.0 109.5,152.9 110.0,152.9 110.5,152.9 111.0,152.9 111.5,152.8 112.0,152.8 112.5,152.8 113.0,152.7 113.5,152.7 114.0,152.6 114.5,152.6 115.0,152.5 115.5,152.5 116.0,152.4 116.5,152.4 117.0,152.3 117.5,152.2 118.0,152.2 118.5,152.1 119.0,152.0 119.5,151.9 120.0,151.8 120.5,151.7 121.0,151.5 121.5,151.4 122.0,151.2 122.5,151.0 123.0,150.9 123.5,150.6 124.0,150.4 124.5,150.2 125.0,149.9 125.5,149.6 126.0,149.3 126.5,149.0 127.0,148.6 127.5,148.2 128.0,147.8 128.5,147.4 129.0,147.0 129.5,146.5 130.0,146.1 130.5,145.6 131.0,145.1 131.5,144.7 132.0,144.2 132.5,143.8 133.0,143.4 133.5,143.0 134.0,142.7 134.5,142.4 135.0,142.1 135.5,141.8 136.0,141.6 136.5,141.4 137.0,141.1 137.5,140.9 138.0,140.6 138.5,140.3 139.0,140.0 139.5,139.6 140.0,139.1 140.5,138.6 141.0,138.0 141.5,137.3 142.0,136.5 142.5,135.7 143.0,134.7 143.5,133.7 144.0,132.6 144.5,131.4 145.0,130.2 145.5,128.9 146.0,127.5 146.5,126.1 147.0,124.7 147.5,123.3 148.0,122.0 148.5,120.7 149.0,119.5 149.5,118.5 150.0,117.6 150.5,116.9 151.0,116.4 151.5,116.2 152.0,116.2 152.5,116.5 153.0,117.0 153.5,117.7 154.0,118.6 154.5,119.7 155.0,121.0 155.5,122.4 156.0,123.8 156.5,125.3 157.0,126.9 157.5,128.4 158.0,129.9 158.5,131.4 159.0,132.9 159.5,134.3 160.0,135.6 160.5,136.9 161.0,138.1 161.5,139.3 162.0,140.4 162.5,141.4 163.0,142.3 163.5,143.2 164.0,144.0 164.5,144.8 165.0,145.5 165.5,146.1 166.0,146.7 166.5,147.2 167.0,147.7 167.5,148.1 168.0,148.5 168.5,148.8 169.0,149.2 169.5,149.5 170.0,149.7 170.5,150.0 171.0,150.2 171.5,150.4 172.0,150.6 172.5,150.7 173.0,150.9 173.5,151.0 174.0,151.2 174.5,151.3 175.0,151.4 175.5,151.5 176.0,151.6 176.5,151.7 177.0,151.8 177.5,151.9 178.0,151.9 178.5,152.0 179.0,152.1 179.5,152.1 180.0,152.2 180.5,152.3 181.0,152.3 181.5,152.4 182.0,152.4 182.5,152.5 183.0,152.5 183.5,152.5 184.0,152.6 184.5,152.6 185.0,152.7 185.5,152.7 186.0,152.7 186.5,152.8 187.0,152.8 187.5,152.8 188.0,152.9 188.5,152.9 189.0,152.9 189.5,152.9 190.0,153.0 190.5,153.0 191.0,153.0 191.5,153.0 192.0,153.1 192.5,153.1 193.0,153.1 193.5,153.1 194.0,153.1 194.5,153.2 195.0,153.2 195.5,153.2 196.0,153.2 196.5,153.2 197.0,153.3 197.5,153.3 198.0,153.3 198.5,153.3 199.0,153.3 199.5,153.3 200.0,153.3 200.5,153.4 201.0,153.4 201.5,153.4 202.0,153.4 202.5,153.4 203.0,153.4 203.5,153.4 204.0,153.4 204.5,153.4 205.0,153.5 205.5,153.5 206.0,153.5 206.5,153.5 207.0,153.5 207.5,153.5 208.0,153.5 208.5,153.5 209.0,153.5 209.5,153.5 210.0,153.5 210.5,153.5 211.0,153.6 211.5,153.6 212.0,153.6 212.5,153.6 213.0,153.6 213.5,153.6 214.0,153.6 214.5,153.6 215.0,153.6 215.5,153.6 216.0,153.6 216.5,153.6 217.0,153.6 217.5,153.6 218.0,153.6 218.5,153.6 219.0,153.7 219.5,153.7 220.0,153.7 220.5,153.7 221.0,153.7 221.5,153.7 222.0,153.7 222.5,153.7 223.0,153.7 223.5,153.7 224.0,153.7 224.5,153.7" fill="none" stroke="#505050" stroke-width="0.7" />
<polyline points="60.5,167.2 61.0,167.2 61.5,167.2 62.0,167.2 62.5,167.2 63.0,167.2 63.5,167.2 64.0,167.2 64.5,167.2 65.0,167.2 65.5,167.2 66.0,167.2 66.5,167.2 67.0,167.2 67.5,167.2 68.0,167.2 68.5,167.2 69.0,167.2 69.5,167.2 70.0,167.2 70.5,167.2 71.0,167.2 71.5,167.2 72.0,167.2 72.5,167.2 73.0,167.2 73.5,167.2 74.0,167.2 74.5,167.1 75.0,167.1 75.5,167.1 76.0,167.1 76.5,167.1 77.0,167.1 77.5,167.1 78.0,167.1 78.5,167.1 79.0,167.1 79.5,167.1 80.0,167.1 80.5,167.1 81.0,167.1 81.5,167.1 82.0,167.1 82.5,167.1 83.0,167.1 83.5,167.1 84.0,167.1 84.5,167.1 85.0,167.1 85.5,167.1 86.0,167.0 86.5,167.0 87.0,167.0 87.5,167.0 88.0,167.0 88.5,167.0 89.0,167.0 89.5,167.0 90.0,167.0 90.5,167.0 91.0,167.0 91.5,167.0 92.0,167.0 92.5,167.0 93.0,166.9 93.5,166.9 94.0,166.9 94.5,166.9 95.0,166.9 95.5,166.9 96.0,166.9 96.5,166.9 97.0,166.9 97.5,166.9 98.0,166.8 98.5,166.8 99.0,166.8 99.5,166.8 100.0,166.8 100.5,166.8 101.0,166.8 101.5,166.8 102.0,166.7 102.5,166.7 103.0,166.7 103.5,166.7 104.0,166.7 104.5,166.7 105.0,166.6 105.5,166.6 106.0,166.6 106.5,166.6 107.0,166.5 107.5,166.5 108.0,166.5 108.5,166.5 109.0,166.4 109.5,166.4 110.0,166.4 110.5,166.3 111.0,166.3 111.5,166.3 112.0,166.2 112.5,166.2 113.0,166.1 113.5,166.1 114.0,166.0 114.5,166.0 115.0,165.9 115.5,165.8 116.0,165.7 116.5,165.7 117.0,165.5 117.5,165.4 118.0,165.3 118.5,165.2 119.0,165.0 119.5,164.8 120.0,164.6 120.5,164.4 121.0,164.1 121.5,163.8 122.0,163.5 122.5,163.2 123.0,162.8 123.5,162.3 124.0,161.9 124.5,161.4 125.0,160.8 125.5,160.3 126.0,159.7 126.5,159.0 127.0,158.4 127.5,157.7 128.0,157.0 128.5,156.3 129.0,155.6 129.5,154.9 130.0,154.2 130.5,153.6 131.0,153.0 131.5,152.5 132.0,152.1 132.5,151.8 133.0,151.7 133.5,151.6 134.0,151.7 134.5,151.9 135.0,152.1 135.5,152.5 136.0,153.0 136.5,153.5 137.0,154.1 137.5,154.7 138.0,155.3 138.5,155.9 139.0,156.5 139.5,157.1 140.0,157.6 140.5,158.2 141.0,158.6 141.5,159.1 142.0,159.5 142.5,159.8 143.0,160.1 143.5,160.4 144.0,160.6 144.5,160.7 145.0,160.8 145.5,160.8 146.0,160.8 146.5,160.7 147.0,160.6 147.5,160.4 148.0,160.1 148.5,159.8 149.0,159.5 149.5,159.0 150.0,158.6 150.5,158.0 151.0,157.4 151.5,156.7 152.0,156.0 152.5,155.2 153.0,154.4 153.5,153.5 154.0,152.5 154.5,151.5 155.0,150.4 155.5,149.3 156.0,148.2 156.5,147.0 157.0,145.8 157.5,144.7 158.0,143.5 158.5,142.4 159.0,141.3 159.5,140.3 160.0,139.5 160.5,138.7 161.0,138.1 161.5,137.7 162.0,137.5 162.5,137.5 163.0,137.7 163.5,138.1 164.0,138.7 164.5,139.4 165.0,140.3 165.5,141.3 166.0,142.3 166.5,143.5 167.0,144.7 167.5,145.9 168.0,147.1 168.5,148.3 169.0,149.5 169.5,150.6 170.0,151.8 170.5,152.8 171.0,153.8 171.5,154.8 172.0,155.7 172.5,156.6 173.0,157.4 173.5,158.1 174.0,158.8 174.5,159.5 175.0,160.1 175.5,160.6 176.0,161.1 176.5,161.5 177.0,162.0 177.5,162.3 178.0,162.7 178.5,163.0 179.0,163.3 179.5,163.5 180.0,163.8 180.5,164.0 181.0,164.2 181.5,164.3 182.0,164.5 182.5,164.6 183.0,164.8 183.5,164.9 184.0,165.0 184.5,165.1 185.0,165.2 185.5,165.3 186.0,165.4 186.5,165.5 187.0,165.5 187.5,165.6 188.0,165.7 188.5,165.7 189.0,165.8 189.5,165.8 190.0,165.9 190.5,165.9 191.0,166.0 191.5,166.0 192.0,166.1 192.5,166.1 193.0,166.1 193.5,166.2 194.0,166.2 194.5,166.2 195.0,166.3 195.5,166.3 196.0,166.3 196.5,166.4 197.0,166.4 197.5,166.4 198.0,166.4 198.5,166.5 199.0,166.5 199.5,166.5 200.0,166.5 200.5,166.6 201.0,166.6 201.5,166.6 202.0,166.6 202.5,166.6 203.0,166.6 203.5,166.7 204.0,166.7 204.5,166.7 205.0,166.7 205.5,166.7 206.0,166.7 206.5,166.8 207.0,166.8 207.5,166.8 208.0,166.8 208.5,166.8 209.0,166.8 209.5,166.8 210.0,166.8 210.5,166.9 211.0,166.9 211.5,166.9 212.0,166.9 212.5,166.9 213.0,166.9 213.5,166.9 214.0,166.9 214.5,166.9 215.0,166.9 215.5,166.9 216.0,167.0 216.5,167.0 217.0,167.0 217.5,167.0 218.0,167.0 218.5,167.0 219.0,167.0 219.5,167.0 220.0,167.0 220.5,167.0 221.0,167.0 221.5,167.0 222.0,167.0 222.5,167.0 223.0,167.0 223.5,167.0 224.0,167.1 224.5,167.1" fill="none" stroke="#505050" stroke-width="0.7" />
<polyline points="60.5,180.5 61.0,180.5 61.5,180.5 62.0,180.5 62.5,180.5 63.0,180.5 63.5,180.5 64.0,180.5 64.5,180.5 65.0,180.5 65.5,180.5 66.0,180.5 66.5,180.5 67.0,180.5 67.5,180.5 68.0,180.5 68.5,180.5 69.0,180.5 69.5,180.5 70.0,180.5 70.5,180.5 71.0,180.5 71.5,180.5 72.0,180.5 72.5,180.5 73.0,180.5 73.5,180.5 74.0,180.5 74.5,180.5 75.0,180.5 75.5,180.5 76.0,180.5 76.5,180.5 77.0,180.5 77.5,180.5 78.0,180.5 78.5,180.5 79.0,180.5 79.5,180.5 80.0,180.5 80.5,180.4 81.0,180.4 81.5,180.4 82.0,180.4 82.5,180.4 83.0,180.4 83.5,180.4 84.0,180.4 84.5,180.4 85.0,180.4 85.5,180.4 86.0,180.4 86.5,180.4 87.0,180.4 87.5,180.4 88.0,180.4 88.5,180.4 89.0,180.4 89.5,180.4 90.0,180.4 90.5,180.4 91.0,180.4 91.5,180.3 92.0,180.3 92.5,180.3 93.0,180.3 93.5,180.3 94.0,180.3 94.5,180.3 95.0,180.3 95.5,180.3 96.0,180.3 96.5,180.3 97.0,180.3 97.5,180.3 98.0,180.3 98.5,180.3 99.0,180.2 99.5,180.2 100.0,180.2 100.5,180.2 101.0,180.2 101.5,180.2 102.0,180.2 102.5,180.2 103.0,180.2 103.5,180.2 104.0,180.1 104.5,180.1 105.0,180.1 105.5,180.1 106.0,180.1 106.5,180.1 107.0,180.1 107.5,180.0 108.0,180.0 108.5,180.0 109.0,180.0 109.5,180.0 110.0,179.9 110.5,179.9 111.0,179.9 111.5,179.9 112.0,179.9 112.5,179.8 113.0,179.8 113.5,179.8 114.0,179.8 114.5,179.7 115.0,179.7 115.5,179.7 116.0,179.6 116.5,179.6 117.0,179.5 117.5,179.5 118.0,179.4 118.5,179.4 119.0,179.3 119.5,179.2 120.0,179.1 120.5,179.0 121.0,178.9 121.5,178.8 122.0,178.7 122.5,178.5 123.0,178.3 123.5,178.2 124.0,177.9 124.5,177.7 125.0,177.5 125.5,177.2 126.0,176.9 126.5,176.5 127.0,176.1 127.5,175.7 128.0,175.3 128.5,174.8 129.0,174.4 129.5,173.8 130.0,173.3 130.5,172.8 131.0,172.2 131.5,171.6 132.0,171.1 132.5,170.5 133.0,170.0 133.5,169.5 134.0,169.1 134.5,168.7 135.0,168.4 135.5,168.2 136.0,168.1 136.5,168.0 137.0,168.1 137.5,168.3 138.0,168.5 138.5,168.8 139.0,169.2 139.5,169.6 140.0,170.1 140.5,170.6 141.0,171.1 141.5,171.6 142.0,172.0 142.5,172.5 143.0,172.9 143.5,173.4 144.0,173.7 144.5,174.1 145.0,174.4 145.5,174.7 146.0,175.0 146.5,175.2 147.0,175.4 147.5,175.5 148.0,175.6 148.5,175.7 149.0,175.7 149.5,175.7 150.0,175.6 150.5,175.5 151.0,175.4 151.5,175.3 152.0,175.1 152.5,174.8 153.0,174.5 153.5,174.2 154.0,173.8 154.5,173.4 155.0,172.9 155.5,172.4 156.0,171.8 156.5,171.1 157.0,170.4 157.5,169.7 158.0,168.8 158.5,167.9 159.0,167.0 159.5,166.0 160.0,164.9 160.5,163.8 161.0,162.6 161.5,161.4 162.0,160.1 162.5,158.9 163.0,157.6 163.5,156.3 164.0,155.0 164.5,153.8 165.0,152.6 165.5,151.5 166.0,150.6 166.5,149.8 167.0,149.1 167.5,148.7 168.0,148.5 168.5,148.5 169.0,148.7 169.5,149.1 170.0,149.7 170.5,150.5 171.0,151.4 171.5,152.5 172.0,153.7 172.5,154.9 173.0,156.2 173.5,157.5 174.0,158.8 174.5,160.1 175.0,161.4 175.5,162.6 176.0,163.8 176.5,165.0 177.0,166.1 177.5,167.1 178.0,168.1 178.5,169.0 179.0,169.9 179.5,170.7 180.0,171.5 180.5,172.2 181.0,172.8 181.5,173.4 182.0,173.9 182.5,174.4 183.0,174.9 183.5,175.3 184.0,175.6 184.5,176.0 185.0,176.3 185.5,176.6 186.0,176.8 186.5,177.0 187.0,177.2 187.5,177.4 188.0,177.6 188.5,177.8 189.0,177.9 189.5,178.0 190.0,178.2 190.5,178.3 191.0,178.4 191.5,178.5 192.0,178.6 192.5,178.6 193.0,178.7 193.5,178.8 194.0,178.9 194.5,178.9 195.0,179.0 195.5,179.0 196.0,179.1 196.5,179.1 197.0,179.2 197.5,179.2 198.0,179.3 198.5,179.3 199.0,179.4 199.5,179.4 200.0,179.4 200.5,179.5 201.0,179.5 201.5,179.5 202.0,179.6 202.5,179.6 203.0,179.6 203.5,179.7 204.0,179.7 204.5,179.7 205.0,179.7 205.5,179.8 206.0,179.8 206.5,179.8 207.0,179.8 207.5,179.9 208.0,179.9 208.5,179.9 209.0,179.9 209.5,179.9 210.0,179.9 210.5,180.0 211.0,180.0 211.5,180.0 212.0,180.0 212.5,180.0 213.0,180.0 213.5,180.1 214.0,180.1 214.5,180.1 215.0,180.1 215.5,180.1 216.0,180.1 216.5,180.1 217.0,180.1 217.5,180.1 218.0,180.2 218.5,180.2 219.0,180.2 219.5,180.2 220.0,180.2 220.5,180.2 221.0,180.2 221.5,180.2 222.0,180.2 222.5,180.2 223.0,180.2 223.5,180.3 224.0,180.3 224.5,180.3" fill="none" stroke="#505050" stroke-width="0.7" />
<polyline points="60.5,193.9 61.0,193.9 61.5,193.9 62.0,193.9 62.5,193.9 63.0,193.9 63.5,193.9 64.0,193.9 64.5,193.9 65.0,193.9 65.5,193.9 66.0,193.9 66.5,193.9 67.0,193.9 67.5,193.9 68.0,193.9 68.5,193.9 69.0,193.9 69.5,193.9 70.0,193.9 70.5,193.9 71.0,193.9 71.5,193.9 72.0,193.9 72.5,193.9 73.0,193.9 73.5,193.9 74.0,193.9 74.5,193.9 75.0,193.9 75.5,193.9 76.0,193.9 76.5,193.9 77.0,193.9 77.5,193.9 78.0,193.9 78.5,193.9 79.0,193.9 79.5,193.9 80.0,193.9 80.5,193.9 81.0,193.9 81.5,193.9 82.0,193.9 82.5,193.9 83.0,193.8 83.5,193.8 84.0,193.8 84.5,193.8 85.0,193.8 85.5,193.8 86.0,193.8 86.5,193.8 87.0,193.8 87.5,193.8 88.0,193.8 88.5,193.8 89.0,193.8 89.5,193.8 90.0,193.8 90.5,193.8 91.0,193.8 91.5,193.8 92.0,193.8 92.5,193.8 93.0,193.8 93.5,193.8 94.0,193.8 94.5,193.8 95.0,193.7 95.5,193.7 96.0,193.7 96.5,193.7 97.0,193.7 97.5,193.7 98.0,193.7 98.5,193.7 99.0,193.7 99.5,193.7 100.0,193.7 100.5,193.7 101.0,193.7 101.5,193.7 102.0,193.6 102.5,193.6 103.0,193.6 103.5,193.6 104.0,193.6 104.5,193.6 105.0,193.6 105.5,193.6 106.0,193.6 106.5,193.6 107.0,193.5 107.5,193.5 108.0,193.5 108.5,193.5 109.0,193.5 109.5,193.5 110.0,193.5 110.5,193.4 111.0,193.4 111.5,193.4 112.0,193.4 112.5,193.4 113.0,193.4 113.5,193.3 114.0,193.3 114.5,193.3 115.0,193.3 115.5,193.3 116.0,193.2 116.5,193.2 117.0,193.2 117.5,193.1 118.0,193.1 118.5,193.1 119.0,193.0 119.5,193.0 120.0,192.9 120.5,192.9 121.0,192.8 121.5,192.7 122.0,192.6 122.5,192.6 123.0,192.5 123.5,192.3 124.0,192.2 124.5,192.1 125.0,191.9 125.5,191.8 126.0,191.6 126.5,191.4 127.0,191.1 127.5,190.9 128.0,190.6 128.5,190.3 129.0,190.0 129.5,189.6 130.0,189.3 130.5,188.9 131.0,188.5 131.5,188.1 132.0,187.7 132.5,187.3 133.0,186.8 133.5,186.4 134.0,186.0 134.5,185.6 135.0,185.3 135.5,185.0 136.0,184.7 136.5,184.5 137.0,184.4 137.5,184.3 138.0,184.3 138.5,184.4 139.0,184.6 139.5,184.8 140.0,185.1 140.5,185.4 141.0,185.7 141.5,186.0 142.0,186.4 142.5,186.7 143.0,187.1 143.5,187.4 144.0,187.8 144.5,188.1 145.0,188.4 145.5,188.6 146.0,188.9 146.5,189.1 147.0,189.3 147.5,189.4 148.0,189.6 148.5,189.7 149.0,189.7 149.5,189.8 150.0,189.8 150.5,189.8 151.0,189.8 151.5,189.7 152.0,189.6 152.5,189.5 153.0,189.4 153.5,189.2 154.0,189.0 154.5,188.8 155.0,188.5 155.5,188.2 156.0,187.8 156.5,187.4 157.0,187.0 157.5,186.5 158.0,185.9 158.5,185.3 159.0,184.7 159.5,184.0 160.0,183.2 160.5,182.3 161.0,181.4 161.5,180.4 162.0,179.4 162.5,178.2 163.0,177.1 163.5,175.8 164.0,174.5 164.5,173.1 165.0,171.7 165.5,170.3 166.0,168.8 166.5,167.4 167.0,165.9 167.5,164.5 168.0,163.2 168.5,161.9 169.0,160.8 169.5,159.8 170.0,159.0 170.5,158.4 171.0,158.0 171.5,157.9 172.0,158.1 172.5,158.4 173.0,159.0 173.5,159.8 174.0,160.8 174.5,162.0 175.0,163.2 175.5,164.6 176.0,166.0 176.5,167.5 177.0,169.0 177.5,170.4 178.0,171.9 178.5,173.3 179.0,174.7 179.5,176.0 180.0,177.2 180.5,178.4 181.0,179.6 181.5,180.7 182.0,181.7 182.5,182.6 183.0,183.5 183.5,184.3 184.0,185.0 184.5,185.7 185.0,186.3 185.5,186.9 186.0,187.4 186.5,187.9 187.0,188.3 187.5,188.7 188.0,189.1 188.5,189.4 189.0,189.7 189.5,189.9 190.0,190.2 190.5,190.4 191.0,190.6 191.5,190.8 192.0,190.9 192.5,191.1 193.0,191.2 193.5,191.4 194.0,191.5 194.5,191.6 195.0,191.7 195.5,191.8 196.0,191.9 196.5,192.0 197.0,192.0 197.5,192.1 198.0,192.2 198.5,192.2 199.0,192.3 199.5,192.4 200.0,192.4 200.5,192.5 201.0,192.5 201.5,192.6 202.0,192.6 202.5,192.7 203.0,192.7 203.5,192.7 204.0,192.8 204.5,192.8 205.0,192.9 205.5,192.9 206.0,192.9 206.5,192.9 207.0,193.0 207.5,193.0 208.0,193.0 208.5,193.1 209.0,193.1 209.5,193.1 210.0,193.1 210.5,193.2 211.0,193.2 211.5,193.2 212.0,193.2 212.5,193.2 213.0,193.3 213.5,193.3 214.0,193.3 214.5,193.3 215.0,193.3 215.5,193.4 216.0,193.4 216.5,193.4 217.0,193.4 217.5,193.4 218.0,193.4 218.5,193.4 219.0,193.5 219.5,193.5 220.0,193.5 220.5,193.5 221.0,193.5 221.5,193.5 222.0,193.5 222.5,193.5 223.0,193.5 223.5,193.6 224.0,193.6 224.5,193.6" fill="none" stroke="#505050" stroke-width="0.7" />
<polyline points="60.5,207.3 61.0,207.3 61.5,207.3 62.0,207.2 62.5,207.2 63.0,207.2 63.5,207.2 64.0,207.2 64.5,207.2 65.0,207.2 65.5,207.2 66.0,207.2 66.5,207.2 67.0,207.2 67.5,207.2 68.0,207.2 68.5,207.2 69.0,207.2 69.5,207.2 70.0,207.2 70.5,207.2 71.0,207.2 71.5,207.2 72.0,207.2 72.5,207.2 73.0,207.2 73.5,207.2 74.0,207.2 74.5,207.2 75.0,207.2 75.5,207.2 76.0,207.2 76.5,207.2 77.0,207.2 77.5,207.2 78.0,207.2 78.5,207.2 79.0,207.2 79.5,207.2 80.0,207.2 80.5,207.2 81.0,207.2 81.5,207.2 82.0,207.2 82.5,207.2 83.0,207.2 83.5,207.2 84.0,207.2 84.5,207.1 85.0,207.1 85.5,207.1 86.0,207.1 86.5,207.1 87.0,207.1 87.5,207.1 88.0,207.1 88.5,207.1 89.0,207.1 89.5,207.1 90.0,207.1 90.5,207.1 91.0,207.1 91.5,207.1 92.0,207.1 92.5,207.1 93.0,207.1 93.5,207.1 94.0,207.1 94.5,207.1 95.0,207.1 95.5,207.1 96.0,207.1 96.5,207.0 97.0,207.0 97.5,207.0 98.0,207.0 98.5,207.0 99.0,207.0 99.5,207.0 100.0,207.0 100.5,207.0 101.0,207.0 101.5,207.0 102.0,207.0 102.5,207.0 103.0,207.0 103.5,206.9 104.0,206.9 104.5,206.9 105.0,206.9 105.5,206.9 106.0,206.9 106.5,206.9 107.0,206.9 107.5,206.9 108.0,206.9 108.5,206.8 109.0,206.8 109.5,206.8 110.0,206.8 110.5,206.8 111.0,206.8 111.5,206.8 112.0,206.8 112.5,206.7 113.0,206.7 113.5,206.7 114.0,206.7 114.5,206.7 115.0,206.6 115.5,206.6 116.0,206.6 116.5,206.6 117.0,206.5 117.5,206.5 118.0,206.5 118.5,206.5 119.0,206.4 119.5,206.4 120.0,206.3 120.5,206.3 121.0,206.2 121.5,206.2 122.0,206.1 122.5,206.1 123.0,206.0 123.5,205.9 124.0,205.8 124.5,205.7 125.0,205.6 125.5,205.4 126.0,205.3 126.5,205.1 127.0,204.9 127.5,204.7 128.0,204.5 128.5,204.3 129.0,204.0 129.5,203.7 130.0,203.4 130.5,203.1 131.0,202.8 131.5,202.4 132.0,202.1 132.5,201.7 133.0,201.3 133.5,200.9 134.0,200.6 134.5,200.2 135.0,199.9 135.5,199.5 136.0,199.3 136.5,199.0 137.0,198.8 137.5,198.7 138.0,198.6 138.5,198.6 139.0,198.7 139.5,198.8 140.0,199.0 140.5,199.2 141.0,199.5 141.5,199.7 142.0,200.0 142.5,200.3 143.0,200.7 143.5,201.0 144.0,201.3 144.5,201.5 145.0,201.8 145.5,202.1 146.0,202.3 146.5,202.5 147.0,202.7 147.5,202.9 148.0,203.0 148.5,203.1 149.0,203.2 149.5,203.3 150.0,203.3 150.5,203.3 151.0,203.3 151.5,203.3 152.0,203.2 152.5,203.1 153.0,203.0 153.5,202.9 154.0,202.7 154.5,202.5 155.0,202.3 155.5,202.0 156.0,201.7 156.5,201.4 157.0,201.0 157.5,200.6 158.0,200.1 158.5,199.6 159.0,199.1 159.5,198.4 160.0,197.7 160.5,197.0 161.0,196.2 161.5,195.3 162.0,194.4 162.5,193.3 163.0,192.2 163.5,191.1 164.0,189.9 164.5,188.6 165.0,187.2 165.5,185.9 166.0,184.4 166.5,182.9 167.0,181.5 167.5,180.0 168.0,178.5 168.5,177.1 169.0,175.7 169.5,174.5 170.0,173.3 170.5,172.4 171.0,171.6 171.5,171.0 172.0,170.7 172.5,170.7 173.0,170.8 173.5,171.3 174.0,171.9 174.5,172.8 175.0,173.8 175.5,175.0 176.0,176.3 176.5,177.7 177.0,179.2 177.5,180.7 178.0,182.2 178.5,183.6 179.0,185.1 179.5,186.5 180.0,187.9 180.5,189.3 181.0,190.5 181.5,191.7 182.0,192.9 182.5,194.0 183.0,195.0 183.5,195.9 184.0,196.8 184.5,197.6 185.0,198.3 185.5,199.0 186.0,199.6 186.5,200.2 187.0,200.7 187.5,201.2 188.0,201.6 188.5,202.0 189.0,202.3 189.5,202.7 190.0,203.0 190.5,203.2 191.0,203.5 191.5,203.7 192.0,203.9 192.5,204.1 193.0,204.2 193.5,204.4 194.0,204.5 194.5,204.6 195.0,204.8 195.5,204.9 196.0,205.0 196.5,205.1 197.0,205.2 197.5,205.2 198.0,205.3 198.5,205.4 199.0,205.5 199.5,205.5 200.0,205.6 200.5,205.6 201.0,205.7 201.5,205.8 202.0,205.8 202.5,205.9 203.0,205.9 203.5,205.9 204.0,206.0 204.5,206.0 205.0,206.1 205.5,206.1 206.0,206.1 206.5,206.2 207.0,206.2 207.5,206.2 208.0,206.3 208.5,206.3 209.0,206.3 209.5,206.4 210.0,206.4 210.5,206.4 211.0,206.4 211.5,206.5 212.0,206.5 212.5,206.5 213.0,206.5 213.5,206.5 214.0,206.6 214.5,206.6 215.0,206.6 215.5,206.6 216.0,206.6 216.5,206.6 217.0,206.7 217.5,206.7 218.0,206.7 218.5,206.7 219.0,206.7 219.5,206.7 220.0,206.7 220.5,206.8 221.0,206.8 221.5,206.8 222.0,206.8 222.5,206.8 223.0,206.8 223.5,206.8 224.0,206.8 224.5,206.9" fill="none" stroke="#505050" stroke-width="0.7" />
<polyline points="60.5,220.7 61.0,220.7 61.5,220.7 62.0,220.6 62.5,220.6 63.0,220.6 63.5,220.6 64.0,220.6 64.5,220.6 65.0,220.6 65.5,220.6 66.0,220.6 66.5,220.6 67.0,220.6 67.5,220.6 68.0,220.6 68.5,220.6 69.0,220.6 69.5,220.6 70.0,220.6 70.5,220.6 71.0,220.6 71.5,220.6 72.0,220.6 72.5,220.6 73.0,220.6 73.5,220.6 74.0,220.6 74.5,220.6 75.0,220.6 75.5,220.6 76.0,220.6 76.5,220.6 77.0,220.6 77.5,220.6 78.0,220.6 78.5,220.6 79.0,220.6 79.5,220.6 80.0,220.6 80.5,220.6 81.0,220.6 81.5,220.6 82.0,220.6 82.5,220.6 83.0,220.6 83.5,220.6 84.0,220.5 84.5,220.5 85.0,220.5 85.5,220.5 86.0,220.5 86.5,220.5 87.0,220.5 87.5,220.5 88.0,220.5 88.5,220.5 89.0,220.5 89.5,220.5 90.0,220.5 90.5,220.5 91.0,220.5 91.5,220.5 92.0,220.5 92.5,220.5 93.0,220.5 93.5,220.5 94.0,220.5 94.5,220.5 95.0,220.5 95.5,220.4 96.0,220.4 96.5,220.4 97.0,220.4 97.5,220.4 98.0,220.4 98.5,220.4 99.0,220.4 99.5,220.4 100.0,220.4 100.5,220.4 101.0,220.4 101.5,220.4 102.0,220.4 102.5,220.3 103.0,220.3 103.5,220.3 104.0,220.3 104.5,220.3 105.0,220.3 105.5,220.3 106.0,220.3 106.5,220.3 107.0,220.3 107.5,220.2 108.0,220.2 108.5,220.2 109.0,220.2 109.5,220.2 110.0,220.2 110.5,220.2 111.0,220.1 111.5,220.1 112.0,220.1 112.5,220.1 113.0,220.1 113.5,220.0 114.0,220.0 114.5,220.0 115.0,220.0 115.5,219.9 116.0,219.9 116.5,219.9 117.0,219.9 117.5,219.8 118.0,219.8 118.5,219.7 119.0,219.7 119.5,219.6 120.0,219.6 120.5,219.5 121.0,219.4 121.5,219.4 122.0,219.3 122.5,219.2 123.0,219.0 123.5,218.9 124.0,218.8 124.5,218.6 125.0,218.4 125.5,218.2 126.0,218.0 126.5,217.8 127.0,217.5 127.5,217.2 128.0,217.0 128.5,216.6 129.0,216.3 129.5,215.9 130.0,215.6 130.5,215.2 131.0,214.8 131.5,214.4 132.0,214.0 132.5,213.6 133.0,213.2 133.5,212.8 134.0,212.5 134.5,212.2 135.0,211.9 135.5,211.7 136.0,211.6 136.5,211.5 137.0,211.5 137.5,211.6 138.0,211.7 138.5,211.9 139.0,212.2 139.5,212.4 140.0,212.7 140.5,213.1 141.0,213.4 141.5,213.7 142.0,214.1 142.5,214.4 143.0,214.7 143.5,215.0 144.0,215.3 144.5,215.6 145.0,215.8 145.5,216.0 146.0,216.2 146.5,216.4 147.0,216.5 147.5,216.6 148.0,216.7 148.5,216.8 149.0,216.8 149.5,216.8 150.0,216.8 150.5,216.8 151.0,216.7 151.5,216.6 152.0,216.5 152.5,216.4 153.0,216.2 153.5,216.0 154.0,215.8 154.5,215.5 155.0,215.2 155.5,214.9 156.0,214.5 156.5,214.1 157.0,213.7 157.5,213.1 158.0,212.6 158.5,212.0 159.0,211.3 159.5,210.5 160.0,209.7 160.5,208.9 161.0,208.0 161.5,207.0 162.0,205.9 162.5,204.8 163.0,203.6 163.5,202.3 164.0,201.0 164.5,199.7 165.0,198.3 165.5,196.9 166.0,195.5 166.5,194.1 167.0,192.7 167.5,191.3 168.0,190.1 168.5,188.9 169.0,187.9 169.5,187.1 170.0,186.4 170.5,186.0 171.0,185.8 171.5,185.8 172.0,186.1 172.5,186.5 173.0,187.3 173.5,188.1 174.0,189.2 174.5,190.4 175.0,191.7 175.5,193.0 176.0,194.4 176.5,195.9 177.0,197.3 177.5,198.7 178.0,200.1 178.5,201.4 179.0,202.7 179.5,204.0 180.0,205.2 180.5,206.3 181.0,207.4 181.5,208.4 182.0,209.3 182.5,210.2 183.0,211.0 183.5,211.7 184.0,212.4 184.5,213.0 185.0,213.6 185.5,214.1 186.0,214.6 186.5,215.0 187.0,215.4 187.5,215.8 188.0,216.1 188.5,216.4 189.0,216.7 189.5,216.9 190.0,217.1 190.5,217.3 191.0,217.5 191.5,217.7 192.0,217.8 192.5,218.0 193.0,218.1 193.5,218.2 194.0,218.3 194.5,218.4 195.0,218.5 195.5,218.6 196.0,218.7 196.5,218.8 197.0,218.8 197.5,218.9 198.0,219.0 198.5,219.0 199.0,219.1 199.5,219.1 200.0,219.2 200.5,219.2 201.0,219.3 201.5,219.3 202.0,219.4 202.5,219.4 203.0,219.5 203.5,219.5 204.0,219.5 204.5,219.6 205.0,219.6 205.5,219.6 206.0,219.7 206.5,219.7 207.0,219.7 207.5,219.8 208.0,219.8 208.5,219.8 209.0,219.8 209.5,219.9 210.0,219.9 210.5,219.9 211.0,219.9 211.5,219.9 212.0,220.0 212.5,220.0 213.0,220.0 213.5,220.0 214.0,220.0 214.5,220.1 215.0,220.1 215.5,220.1 216.0,220.1 216.5,220.1 217.0,220.1 217.5,220.1 218.0,220.2 218.5,220.2 219.0,220.2 219.5,220.2 220.0,220.2 220.5,220.2 221.0,220.2 221.5,220.2 222.0,220.2 222.5,220.3 223.0,220.3 223.5,220.3 224.0,220.3 224.5,220.3" fill="none" stroke="#505050" stroke-width="0.7" />
</g>
<text x="222.8" y="59.1" font-size="7.2" text-anchor="end" fill="#111" stroke="#111" stroke-width="0.18" >500 K</text>
<text x="222.8" y="72.5" font-size="7.2" text-anchor="end" fill="#111" stroke="#111" stroke-width="0.18" >450 K</text>
<text x="222.8" y="85.8" font-size="7.2" text-anchor="end" fill="#111" stroke="#111" stroke-width="0.18" >400 K</text>
<text x="222.8" y="99.2" font-size="7.2" text-anchor="end" fill="#111" stroke="#111" stroke-width="0.18" >350 K</text>
<text x="222.8" y="112.4" font-size="7.2" text-anchor="end" fill="#111" stroke="#111" stroke-width="0.18" >325 K</text>
<text x="222.8" y="125.9" font-size="7.2" text-anchor="end" fill="#111" stroke="#111" stroke-width="0.18" >300 K</text>
<text x="222.8" y="139.1" font-size="7.2" text-anchor="end" fill="#111" stroke="#111" stroke-width="0.18" >285 K</text>
<text x="222.8" y="152.5" font-size="7.2" text-anchor="end" fill="#111" stroke="#111" stroke-width="0.18" >275 K</text>
<text x="222.8" y="165.8" font-size="7.2" text-anchor="end" fill="#111" stroke="#111" stroke-width="0.18" >250 K</text>
<text x="222.8" y="179" font-size="7.2" text-anchor="end" fill="#111" stroke="#111" stroke-width="0.18" >200 K</text>
<text x="222.8" y="192.2" font-size="7.2" text-anchor="end" fill="#111" stroke="#111" stroke-width="0.18" >150 K</text>
<text x="222.8" y="205.5" font-size="7.2" text-anchor="end" fill="#111" stroke="#111" stroke-width="0.18" >100 K</text>
<text x="222.8" y="219" font-size="7.2" text-anchor="end" fill="#111" stroke="#111" stroke-width="0.18" >80 K</text>
<g clip-path="url(#clipC)">
<polyline points="60.5,371.0 61.5,371.2 62.5,371.0 63.5,370.9 64.5,370.7 65.5,370.8 66.5,371.2 67.5,371.1 68.5,371.2 69.5,370.9 70.5,370.9 71.5,370.7 72.5,370.1 73.5,370.7 74.5,370.6 75.5,370.5 76.5,369.7 77.5,369.4 78.5,369.5 79.5,369.4 80.5,369.4 81.5,369.0 82.5,368.6 83.5,367.5 84.5,366.5 85.5,364.5 86.5,360.9 87.5,356.6 88.5,349.4 89.5,340.4 90.5,329.2 91.5,318.0 92.5,309.0 93.5,304.6 94.5,306.8 95.5,314.3 96.5,324.7 97.5,335.6 98.5,345.5 99.5,353.9 100.5,359.1 101.5,363.2 102.5,365.7 103.5,366.7 104.5,368.0 105.5,369.0 106.5,368.5 107.5,369.1 108.5,369.5 109.5,369.4 110.5,369.9 111.5,369.8 112.5,369.4 113.5,369.9 114.5,369.7 115.5,369.2 116.5,368.4 117.5,366.6 118.5,364.6 119.5,362.0 120.5,360.6 121.5,359.2 122.5,359.3 123.5,360.4 124.5,362.4 125.5,364.6 126.5,367.0 127.5,367.4 128.5,368.3 129.5,369.2 130.5,369.8 131.5,369.6 132.5,368.5 133.5,367.6 134.5,367.3 135.5,365.5 136.5,363.0 137.5,360.6 138.5,357.1 139.5,353.2 140.5,349.9 141.5,347.5 142.5,346.0 143.5,343.4 144.5,339.2 145.5,332.5 146.5,322.9 147.5,314.1 148.5,306.9 149.5,305.4 150.5,310.1 151.5,320.7 152.5,333.1 153.5,343.5 154.5,352.8 155.5,359.7 156.5,363.3 157.5,366.7 158.5,368.1 159.5,368.7 160.5,369.4 161.5,369.8 162.5,369.8 163.5,370.1 164.5,369.5 165.5,369.4 166.5,369.9 167.5,369.9 168.5,369.9 169.5,370.8 170.5,371.3 171.5,371.0 172.5,370.8 173.5,371.2 174.5,371.3 175.5,371.4 176.5,371.9 177.5,371.3 178.5,371.9 179.5,371.3 180.5,371.3 181.5,371.8 182.5,372.0 183.5,372.0 184.5,371.9 185.5,371.8 186.5,371.8 187.5,371.9 188.5,371.7 189.5,371.8 190.5,371.9 191.5,371.8 192.5,372.0 193.5,372.0 194.5,372.4 195.5,371.9 196.5,371.6 197.5,371.5 198.5,371.6 199.5,371.8 200.5,371.4 201.5,371.3 202.5,371.4 203.5,369.4 204.5,368.2 205.5,366.4 206.5,363.1 207.5,358.5 208.5,352.9 209.5,347.9 210.5,344.0 211.5,342.5 212.5,345.2 213.5,349.0 214.5,354.1 215.5,359.4 216.5,363.8 217.5,367.0 218.5,368.3 219.5,370.1 220.5,371.3 221.5,371.1 222.5,371.6 223.5,372.1 224.5,372.2" fill="none" stroke="#5a5a5a" stroke-width="0.65" />
<polyline points="60.5,381.8 61.5,380.9 62.5,381.2 63.5,381.2 64.5,381.4 65.5,381.6 66.5,380.5 67.5,381.4 68.5,380.7 69.5,381.2 70.5,380.6 71.5,381.0 72.5,381.3 73.5,380.8 74.5,380.8 75.5,380.9 76.5,380.6 77.5,380.3 78.5,380.6 79.5,380.3 80.5,379.6 81.5,380.1 82.5,378.5 83.5,378.2 84.5,376.7 85.5,374.8 86.5,371.8 87.5,366.8 88.5,360.1 89.5,350.5 90.5,339.9 91.5,329.7 92.5,320.4 93.5,315.9 94.5,317.7 95.5,325.9 96.5,336.3 97.5,347.3 98.5,356.3 99.5,364.1 100.5,369.4 101.5,373.7 102.5,376.5 103.5,377.2 104.5,378.8 105.5,379.3 106.5,379.3 107.5,379.0 108.5,380.1 109.5,380.0 110.5,379.9 111.5,380.2 112.5,380.2 113.5,380.4 114.5,379.5 115.5,379.4 116.5,378.7 117.5,377.3 118.5,375.0 119.5,372.7 120.5,371.4 121.5,370.1 122.5,370.2 123.5,371.8 124.5,373.3 125.5,374.6 126.5,376.8 127.5,377.7 128.5,379.2 129.5,379.6 130.5,379.4 131.5,379.5 132.5,379.4 133.5,378.6 134.5,377.9 135.5,375.9 136.5,373.8 137.5,370.9 138.5,367.3 139.5,362.9 140.5,360.0 141.5,356.7 142.5,355.0 143.5,352.4 144.5,349.0 145.5,341.7 146.5,332.9 147.5,323.2 148.5,316.1 149.5,314.4 150.5,320.2 151.5,331.1 152.5,342.7 153.5,354.0 154.5,363.2 155.5,369.4 156.5,373.3 157.5,376.1 158.5,378.2 159.5,378.4 160.5,379.1 161.5,379.9 162.5,380.1 163.5,379.9 164.5,380.0 165.5,379.8 166.5,379.4 167.5,379.4 168.5,380.0 169.5,380.9 170.5,380.8 171.5,380.9 172.5,381.0 173.5,380.9 174.5,381.4 175.5,381.2 176.5,381.6 177.5,380.9 178.5,381.7 179.5,381.5 180.5,381.1 181.5,381.9 182.5,381.7 183.5,381.1 184.5,381.4 185.5,381.8 186.5,381.7 187.5,382.0 188.5,382.1 189.5,382.1 190.5,382.0 191.5,382.3 192.5,382.1 193.5,382.0 194.5,381.2 195.5,382.0 196.5,382.2 197.5,381.7 198.5,381.5 199.5,382.2 200.5,381.1 201.5,381.4 202.5,381.7 203.5,380.0 204.5,379.1 205.5,377.4 206.5,373.6 207.5,369.4 208.5,364.5 209.5,359.1 210.5,355.6 211.5,354.5 212.5,356.5 213.5,360.3 214.5,365.2 215.5,369.9 216.5,374.2 217.5,377.6 218.5,379.4 219.5,380.3 220.5,380.9 221.5,382.3 222.5,382.1 223.5,382.1 224.5,381.2" fill="none" stroke="#5a5a5a" stroke-width="0.65" />
<polyline points="60.5,391.8 61.5,391.7 62.5,392.1 63.5,391.7 64.5,391.5 65.5,391.6 66.5,390.9 67.5,391.6 68.5,391.5 69.5,391.1 70.5,391.6 71.5,391.8 72.5,390.8 73.5,390.8 74.5,391.0 75.5,390.9 76.5,390.6 77.5,390.2 78.5,390.9 79.5,390.5 80.5,389.5 81.5,389.0 82.5,389.4 83.5,388.5 84.5,387.5 85.5,385.2 86.5,381.5 87.5,376.8 88.5,369.2 89.5,360.5 90.5,350.1 91.5,339.4 92.5,330.0 93.5,325.7 94.5,327.9 95.5,335.4 96.5,346.0 97.5,356.8 98.5,366.3 99.5,374.4 100.5,379.9 101.5,383.4 102.5,385.9 103.5,387.6 104.5,388.5 105.5,389.1 106.5,389.5 107.5,389.8 108.5,389.9 109.5,389.7 110.5,390.3 111.5,390.6 112.5,390.4 113.5,390.1 114.5,390.0 115.5,388.9 116.5,387.6 117.5,386.6 118.5,384.4 119.5,382.7 120.5,380.2 121.5,378.4 122.5,379.0 123.5,381.2 124.5,382.8 125.5,384.7 126.5,386.7 127.5,388.4 128.5,389.4 129.5,389.8 130.5,390.3 131.5,390.1 132.5,389.6 133.5,389.2 134.5,388.6 135.5,387.0 136.5,384.9 137.5,381.5 138.5,378.4 139.5,375.4 140.5,372.1 141.5,370.3 142.5,368.5 143.5,366.5 144.5,362.4 145.5,357.1 146.5,348.7 147.5,339.5 148.5,333.1 149.5,332.5 150.5,336.7 151.5,346.3 152.5,357.2 153.5,367.0 154.5,374.7 155.5,380.9 156.5,384.9 157.5,387.5 158.5,388.8 159.5,389.4 160.5,390.1 161.5,390.3 162.5,390.3 163.5,390.2 164.5,390.0 165.5,390.2 166.5,389.7 167.5,390.0 168.5,390.5 169.5,390.5 170.5,391.0 171.5,390.8 172.5,391.3 173.5,391.8 174.5,391.9 175.5,391.8 176.5,391.8 177.5,391.4 178.5,392.4 179.5,392.2 180.5,392.3 181.5,391.8 182.5,391.9 183.5,391.4 184.5,392.2 185.5,392.3 186.5,391.5 187.5,392.0 188.5,392.2 189.5,391.6 190.5,391.4 191.5,391.6 192.5,391.8 193.5,391.6 194.5,392.0 195.5,392.1 196.5,392.2 197.5,392.2 198.5,392.4 199.5,392.3 200.5,391.4 201.5,391.3 202.5,390.8 203.5,390.1 204.5,389.2 205.5,387.2 206.5,384.2 207.5,379.5 208.5,374.6 209.5,370.2 210.5,366.7 211.5,365.5 212.5,367.3 213.5,371.0 214.5,376.3 215.5,381.0 216.5,384.9 217.5,387.6 218.5,389.6 219.5,390.0 220.5,391.0 221.5,391.7 222.5,391.5 223.5,392.0 224.5,392.2" fill="none" stroke="#5a5a5a" stroke-width="0.65" />
<polyline points="60.5,401.4 61.5,401.7 62.5,401.7 63.5,401.9 64.5,401.9 65.5,401.7 66.5,401.4 67.5,401.5 68.5,401.6 69.5,401.8 70.5,401.6 71.5,401.2 72.5,400.9 73.5,401.1 74.5,400.9 75.5,400.7 76.5,400.9 77.5,400.7 78.5,400.7 79.5,400.6 80.5,400.1 81.5,400.5 82.5,399.4 83.5,399.0 84.5,397.6 85.5,396.0 86.5,392.1 87.5,388.0 88.5,382.0 89.5,374.0 90.5,364.9 91.5,354.4 92.5,346.4 93.5,342.2 94.5,344.0 95.5,350.7 96.5,360.1 97.5,370.2 98.5,378.6 99.5,386.3 100.5,390.8 101.5,394.6 102.5,397.4 103.5,398.2 104.5,399.0 105.5,399.8 106.5,399.9 107.5,399.9 108.5,400.3 109.5,400.6 110.5,400.7 111.5,400.3 112.5,401.0 113.5,400.9 114.5,400.1 115.5,399.5 116.5,398.2 117.5,397.2 118.5,394.6 119.5,392.7 120.5,390.3 121.5,389.0 122.5,389.5 123.5,391.2 124.5,393.0 125.5,395.0 126.5,397.3 127.5,398.5 128.5,399.5 129.5,400.4 130.5,400.5 131.5,400.0 132.5,400.5 133.5,399.5 134.5,398.8 135.5,397.0 136.5,395.2 137.5,392.2 138.5,390.2 139.5,387.1 140.5,383.6 141.5,381.4 142.5,379.8 143.5,378.7 144.5,374.8 145.5,369.3 146.5,361.8 147.5,353.9 148.5,347.7 149.5,346.8 150.5,350.9 151.5,359.8 152.5,369.9 153.5,379.2 154.5,386.5 155.5,391.6 156.5,395.5 157.5,397.5 158.5,399.4 159.5,400.0 160.5,400.1 161.5,400.2 162.5,400.2 163.5,400.1 164.5,400.1 165.5,400.2 166.5,400.4 167.5,400.6 168.5,401.4 169.5,400.9 170.5,401.3 171.5,402.4 172.5,401.3 173.5,401.6 174.5,401.9 175.5,402.0 176.5,402.1 177.5,401.9 178.5,402.1 179.5,402.1 180.5,402.3 181.5,401.5 182.5,401.7 183.5,402.0 184.5,401.8 185.5,401.8 186.5,402.3 187.5,402.0 188.5,402.3 189.5,402.4 190.5,402.3 191.5,402.3 192.5,402.1 193.5,401.7 194.5,402.0 195.5,402.2 196.5,401.9 197.5,402.0 198.5,402.2 199.5,401.7 200.5,402.0 201.5,402.3 202.5,401.3 203.5,400.8 204.5,399.7 205.5,398.4 206.5,395.5 207.5,392.0 208.5,387.4 209.5,383.4 210.5,380.4 211.5,378.9 212.5,381.3 213.5,384.6 214.5,388.0 215.5,392.7 216.5,395.9 217.5,398.6 218.5,400.2 219.5,400.6 220.5,401.4 221.5,402.3 222.5,401.9 223.5,401.8 224.5,401.7" fill="none" stroke="#5a5a5a" stroke-width="0.65" />
<polyline points="60.5,411.3 61.5,411.7 62.5,412.2 63.5,411.9 64.5,411.8 65.5,412.3 66.5,411.6 67.5,411.4 68.5,411.7 69.5,411.7 70.5,411.2 71.5,411.1 72.5,411.4 73.5,411.4 74.5,410.9 75.5,411.1 76.5,410.9 77.5,411.1 78.5,410.9 79.5,410.7 80.5,410.5 81.5,410.6 82.5,410.4 83.5,409.4 84.5,408.9 85.5,407.1 86.5,405.2 87.5,402.2 88.5,397.9 89.5,391.4 90.5,384.4 91.5,377.2 92.5,370.8 93.5,368.2 94.5,369.3 95.5,374.6 96.5,381.1 97.5,388.0 98.5,395.0 99.5,400.3 100.5,403.8 101.5,406.7 102.5,408.1 103.5,408.9 104.5,409.8 105.5,409.6 106.5,410.1 107.5,410.5 108.5,410.9 109.5,410.7 110.5,410.9 111.5,410.6 112.5,410.8 113.5,411.1 114.5,410.1 115.5,410.3 116.5,408.6 117.5,407.2 118.5,405.3 119.5,403.4 120.5,400.8 121.5,399.3 122.5,400.2 123.5,401.7 124.5,403.7 125.5,406.4 126.5,407.6 127.5,408.9 128.5,410.0 129.5,410.3 130.5,410.9 131.5,410.1 132.5,410.0 133.5,408.7 134.5,409.2 135.5,407.9 136.5,406.7 137.5,405.1 138.5,402.1 139.5,399.4 140.5,397.1 141.5,395.4 142.5,394.2 143.5,393.0 144.5,390.0 145.5,385.5 146.5,379.3 147.5,373.2 148.5,368.3 149.5,367.1 150.5,371.0 151.5,377.8 152.5,385.5 153.5,393.8 154.5,399.6 155.5,403.6 156.5,407.0 157.5,408.6 158.5,409.0 159.5,410.5 160.5,410.6 161.5,410.9 162.5,410.8 163.5,410.6 164.5,410.0 165.5,410.6 166.5,410.4 167.5,410.4 168.5,410.9 169.5,411.2 170.5,411.6 171.5,411.6 172.5,411.8 173.5,411.2 174.5,411.7 175.5,412.1 176.5,412.4 177.5,412.0 178.5,412.0 179.5,412.5 180.5,412.1 181.5,412.3 182.5,412.7 183.5,412.2 184.5,412.5 185.5,412.0 186.5,412.2 187.5,412.2 188.5,412.2 189.5,412.5 190.5,413.0 191.5,412.1 192.5,412.0 193.5,412.3 194.5,411.9 195.5,412.3 196.5,412.4 197.5,412.1 198.5,412.3 199.5,411.7 200.5,412.2 201.5,411.5 202.5,411.5 203.5,411.2 204.5,410.5 205.5,409.8 206.5,407.8 207.5,405.3 208.5,402.9 209.5,400.6 210.5,398.2 211.5,397.6 212.5,398.8 213.5,400.7 214.5,403.0 215.5,406.7 216.5,409.0 217.5,409.4 218.5,410.8 219.5,411.7 220.5,412.2 221.5,412.3 222.5,412.2 223.5,411.9 224.5,412.3" fill="none" stroke="#5a5a5a" stroke-width="0.65" />
<polyline points="60.5,421.7 61.5,421.1 62.5,421.0 63.5,421.3 64.5,420.8 65.5,421.2 66.5,421.2 67.5,421.4 68.5,421.1 69.5,421.0 70.5,421.1 71.5,421.2 72.5,421.0 73.5,421.1 74.5,421.3 75.5,421.5 76.5,421.6 77.5,420.8 78.5,420.7 79.5,420.0 80.5,421.1 81.5,420.3 82.5,420.2 83.5,420.0 84.5,418.9 85.5,418.4 86.5,416.9 87.5,414.1 88.5,411.5 89.5,407.7 90.5,402.0 91.5,397.6 92.5,393.4 93.5,391.4 94.5,392.3 95.5,396.0 96.5,400.4 97.5,405.7 98.5,409.8 99.5,413.7 100.5,415.8 101.5,417.7 102.5,419.4 103.5,419.8 104.5,420.0 105.5,419.9 106.5,420.1 107.5,420.6 108.5,420.9 109.5,420.8 110.5,420.9 111.5,420.7 112.5,421.0 113.5,420.4 114.5,419.9 115.5,419.7 116.5,418.5 117.5,416.8 118.5,414.8 119.5,412.7 120.5,411.0 121.5,409.7 122.5,409.4 123.5,411.2 124.5,413.3 125.5,415.1 126.5,417.4 127.5,418.6 128.5,419.4 129.5,420.3 130.5,420.7 131.5,420.2 132.5,420.4 133.5,419.8 134.5,420.2 135.5,418.7 136.5,418.0 137.5,416.1 138.5,414.7 139.5,413.4 140.5,410.5 141.5,409.7 142.5,409.2 143.5,407.9 144.5,405.7 145.5,403.3 146.5,398.5 147.5,393.3 148.5,390.5 149.5,389.1 150.5,392.5 151.5,397.1 152.5,403.0 153.5,408.8 154.5,412.8 155.5,415.4 156.5,417.3 157.5,419.4 158.5,420.2 159.5,420.1 160.5,420.8 161.5,420.8 162.5,420.9 163.5,419.9 164.5,420.2 165.5,420.4 166.5,420.4 167.5,420.6 168.5,419.9 169.5,420.9 170.5,421.3 171.5,422.2 172.5,421.4 173.5,421.5 174.5,421.6 175.5,421.9 176.5,421.6 177.5,422.1 178.5,421.6 179.5,421.8 180.5,421.6 181.5,421.8 182.5,421.6 183.5,421.3 184.5,422.1 185.5,422.0 186.5,421.7 187.5,421.9 188.5,422.2 189.5,421.6 190.5,421.8 191.5,422.0 192.5,422.1 193.5,421.8 194.5,421.2 195.5,422.2 196.5,422.0 197.5,421.9 198.5,421.8 199.5,421.9 200.5,421.7 201.5,421.4 202.5,421.3 203.5,421.1 204.5,420.6 205.5,419.7 206.5,419.0 207.5,416.9 208.5,415.6 209.5,413.4 210.5,412.4 211.5,412.3 212.5,412.7 213.5,413.8 214.5,415.9 215.5,417.7 216.5,418.7 217.5,420.1 218.5,421.1 219.5,421.3 220.5,421.7 221.5,422.1 222.5,422.2 223.5,422.3 224.5,422.2" fill="none" stroke="#5a5a5a" stroke-width="0.65" />
<polyline points="60.5,430.5 61.5,430.5 62.5,430.5 63.5,430.5 64.5,430.5 65.5,430.0 66.5,430.4 67.5,430.5 68.5,430.2 69.5,430.5 70.5,430.7 71.5,430.5 72.5,431.1 73.5,429.8 74.5,430.3 75.5,429.8 76.5,430.6 77.5,431.2 78.5,429.7 79.5,430.2 80.5,430.3 81.5,430.0 82.5,430.1 83.5,429.0 84.5,429.5 85.5,428.9 86.5,427.8 87.5,426.2 88.5,424.5 89.5,421.6 90.5,418.7 91.5,415.3 92.5,412.2 93.5,411.5 94.5,412.2 95.5,414.6 96.5,417.2 97.5,420.5 98.5,423.6 99.5,425.8 100.5,427.7 101.5,429.1 102.5,429.0 103.5,429.0 104.5,430.0 105.5,430.5 106.5,430.5 107.5,430.5 108.5,430.1 109.5,430.0 110.5,430.5 111.5,430.0 112.5,429.6 113.5,429.6 114.5,430.3 115.5,429.7 116.5,428.0 117.5,426.4 118.5,424.9 119.5,422.5 120.5,421.3 121.5,419.8 122.5,419.6 123.5,421.6 124.5,423.1 125.5,425.3 126.5,427.0 127.5,428.3 128.5,429.3 129.5,429.6 130.5,429.5 131.5,429.4 132.5,429.7 133.5,429.7 134.5,429.7 135.5,429.4 136.5,429.0 137.5,428.1 138.5,426.8 139.5,425.8 140.5,424.5 141.5,424.4 142.5,424.2 143.5,423.7 144.5,422.4 145.5,420.5 146.5,418.5 147.5,415.7 148.5,414.0 149.5,413.6 150.5,414.9 151.5,418.0 152.5,420.7 153.5,423.7 154.5,425.9 155.5,427.6 156.5,429.5 157.5,430.4 158.5,430.3 159.5,430.6 160.5,430.9 161.5,430.8 162.5,430.9 163.5,430.0 164.5,429.9 165.5,430.0 166.5,430.3 167.5,430.1 168.5,430.0 169.5,430.4 170.5,430.6 171.5,430.7 172.5,431.5 173.5,431.1 174.5,431.2 175.5,431.9 176.5,431.7 177.5,431.5 178.5,431.2 179.5,431.4 180.5,431.9 181.5,431.6 182.5,431.8 183.5,431.5 184.5,431.6 185.5,431.4 186.5,431.5 187.5,431.8 188.5,431.1 189.5,431.4 190.5,431.5 191.5,431.3 192.5,431.3 193.5,431.7 194.5,432.1 195.5,431.8 196.5,431.6 197.5,431.0 198.5,432.0 199.5,431.6 200.5,431.4 201.5,431.1 202.5,431.2 203.5,430.8 204.5,430.8 205.5,430.5 206.5,429.6 207.5,428.7 208.5,427.1 209.5,426.6 210.5,425.2 211.5,424.5 212.5,425.4 213.5,426.2 214.5,427.3 215.5,428.7 216.5,429.9 217.5,430.2 218.5,430.9 219.5,431.7 220.5,431.7 221.5,431.6 222.5,431.7 223.5,431.6 224.5,431.7" fill="none" stroke="#5a5a5a" stroke-width="0.65" />
<polyline points="60.5,439.4 61.5,439.1 62.5,438.0 63.5,439.0 64.5,438.7 65.5,439.4 66.5,438.9 67.5,439.2 68.5,440.2 69.5,438.9 70.5,438.7 71.5,438.5 72.5,438.1 73.5,438.2 74.5,439.3 75.5,439.0 76.5,438.4 77.5,438.5 78.5,439.5 79.5,439.0 80.5,439.2 81.5,439.5 82.5,440.0 83.5,440.4 84.5,440.0 85.5,439.6 86.5,439.6 87.5,440.3 88.5,440.2 89.5,439.5 90.5,439.7 91.5,439.7 92.5,439.6 93.5,439.3 94.5,438.9 95.5,439.2 96.5,438.8 97.5,440.0 98.5,439.9 99.5,439.1 100.5,440.2 101.5,440.1 102.5,438.8 103.5,440.3 104.5,440.1 105.5,440.6 106.5,439.2 107.5,439.8 108.5,439.8 109.5,439.7 110.5,439.6 111.5,440.0 112.5,438.8 113.5,438.6 114.5,438.2 115.5,438.0 116.5,437.2 117.5,436.3 118.5,434.7 119.5,432.8 120.5,430.8 121.5,429.8 122.5,430.6 123.5,431.8 124.5,433.3 125.5,434.9 126.5,437.3 127.5,437.7 128.5,439.0 129.5,439.8 130.5,439.5 131.5,440.0 132.5,439.3 133.5,440.2 134.5,440.0 135.5,439.1 136.5,440.0 137.5,439.4 138.5,440.2 139.5,439.4 140.5,439.4 141.5,439.6 142.5,439.3 143.5,439.5 144.5,439.0 145.5,439.4 146.5,438.9 147.5,438.7 148.5,437.2 149.5,438.7 150.5,438.6 151.5,438.1 152.5,439.2 153.5,439.8 154.5,440.4 155.5,439.7 156.5,440.9 157.5,440.3 158.5,441.4 159.5,440.5 160.5,440.7 161.5,440.2 162.5,439.8 163.5,440.6 164.5,440.5 165.5,440.7 166.5,440.4 167.5,439.8 168.5,439.3 169.5,439.9 170.5,440.1 171.5,440.1 172.5,440.8 173.5,440.9 174.5,440.6 175.5,440.8 176.5,440.7 177.5,440.9 178.5,441.1 179.5,441.3 180.5,440.6 181.5,440.1 182.5,441.4 183.5,441.0 184.5,441.4 185.5,440.2 186.5,440.7 187.5,440.9 188.5,440.3 189.5,440.6 190.5,441.3 191.5,441.5 192.5,441.8 193.5,440.7 194.5,440.4 195.5,441.2 196.5,441.5 197.5,441.2 198.5,440.5 199.5,441.4 200.5,441.5 201.5,441.4 202.5,440.9 203.5,441.2 204.5,441.4 205.5,440.7 206.5,439.9 207.5,440.6 208.5,440.5 209.5,440.1 210.5,440.3 211.5,439.6 212.5,439.8 213.5,440.0 214.5,440.7 215.5,441.5 216.5,441.0 217.5,442.1 218.5,442.1 219.5,441.8 220.5,441.7 221.5,442.3 222.5,441.5 223.5,441.4 224.5,441.0" fill="none" stroke="#5a5a5a" stroke-width="0.65" />
<polyline points="60.5,450.0 61.5,450.4 62.5,450.2 63.5,450.1 64.5,449.8 65.5,450.0 66.5,449.3 67.5,450.3 68.5,449.8 69.5,449.5 70.5,449.6 71.5,449.6 72.5,450.4 73.5,450.6 74.5,449.5 75.5,450.4 76.5,450.6 77.5,450.0 78.5,449.5 79.5,449.7 80.5,449.9 81.5,450.3 82.5,450.1 83.5,449.3 84.5,450.3 85.5,449.6 86.5,450.6 87.5,449.8 88.5,450.0 89.5,449.9 90.5,450.1 91.5,451.0 92.5,450.9 93.5,450.8 94.5,450.7 95.5,449.8 96.5,450.2 97.5,450.2 98.5,450.1 99.5,450.7 100.5,450.3 101.5,450.2 102.5,450.1 103.5,449.6 104.5,450.7 105.5,451.3 106.5,450.8 107.5,450.2 108.5,449.4 109.5,450.5 110.5,451.2 111.5,450.8 112.5,451.0 113.5,451.1 114.5,450.8 115.5,449.6 116.5,449.4 117.5,448.3 118.5,445.8 119.5,444.6 120.5,442.8 121.5,442.5 122.5,443.0 123.5,443.4 124.5,444.3 125.5,447.4 126.5,448.5 127.5,450.0 128.5,449.6 129.5,450.9 130.5,451.8 131.5,452.0 132.5,451.1 133.5,451.2 134.5,451.0 135.5,451.5 136.5,451.6 137.5,451.2 138.5,450.4 139.5,451.2 140.5,450.8 141.5,451.2 142.5,451.0 143.5,451.6 144.5,451.4 145.5,450.6 146.5,450.6 147.5,451.1 148.5,450.1 149.5,450.3 150.5,450.9 151.5,451.2 152.5,451.2 153.5,450.6 154.5,450.7 155.5,451.5 156.5,451.8 157.5,452.9 158.5,451.5 159.5,452.3 160.5,452.2 161.5,451.1 162.5,451.2 163.5,451.6 164.5,451.2 165.5,451.2 166.5,451.5 167.5,451.0 168.5,451.7 169.5,451.5 170.5,451.6 171.5,452.2 172.5,451.9 173.5,452.2 174.5,452.9 175.5,452.3 176.5,452.2 177.5,452.6 178.5,452.2 179.5,452.8 180.5,451.8 181.5,452.6 182.5,452.2 183.5,452.0 184.5,453.2 185.5,452.2 186.5,453.2 187.5,452.9 188.5,453.2 189.5,452.2 190.5,453.0 191.5,453.3 192.5,452.7 193.5,452.6 194.5,453.7 195.5,452.9 196.5,452.5 197.5,452.4 198.5,452.9 199.5,452.9 200.5,452.8 201.5,453.5 202.5,452.7 203.5,452.9 204.5,453.4 205.5,452.2 206.5,452.9 207.5,453.1 208.5,451.5 209.5,451.2 210.5,451.0 211.5,450.6 212.5,451.7 213.5,451.0 214.5,452.3 215.5,453.1 216.5,452.1 217.5,452.6 218.5,452.1 219.5,453.3 220.5,452.8 221.5,453.0 222.5,453.2 223.5,453.5 224.5,453.2" fill="none" stroke="#5a5a5a" stroke-width="0.65" />
<polyline points="60.5,460.5 61.5,460.3 62.5,460.5 63.5,460.0 64.5,460.5 65.5,459.7 66.5,460.3 67.5,461.5 68.5,460.8 69.5,460.1 70.5,460.7 71.5,460.3 72.5,459.9 73.5,460.3 74.5,461.1 75.5,461.0 76.5,460.8 77.5,460.4 78.5,460.3 79.5,461.4 80.5,461.1 81.5,460.5 82.5,460.0 83.5,460.2 84.5,462.0 85.5,460.7 86.5,461.0 87.5,461.2 88.5,461.0 89.5,461.0 90.5,460.5 91.5,460.6 92.5,461.8 93.5,461.0 94.5,461.6 95.5,460.5 96.5,461.0 97.5,461.3 98.5,461.8 99.5,460.9 100.5,461.5 101.5,461.5 102.5,461.0 103.5,461.5 104.5,461.0 105.5,460.9 106.5,461.3 107.5,460.1 108.5,461.1 109.5,460.9 110.5,460.6 111.5,461.0 112.5,461.5 113.5,460.9 114.5,461.2 115.5,459.7 116.5,458.5 117.5,458.4 118.5,456.3 119.5,454.5 120.5,451.9 121.5,451.5 122.5,451.5 123.5,452.9 124.5,454.6 125.5,457.1 126.5,458.1 127.5,459.2 128.5,459.8 129.5,461.5 130.5,461.2 131.5,461.1 132.5,461.2 133.5,461.5 134.5,461.2 135.5,461.7 136.5,461.6 137.5,461.6 138.5,461.4 139.5,461.8 140.5,461.6 141.5,461.9 142.5,462.0 143.5,462.0 144.5,460.9 145.5,461.4 146.5,461.2 147.5,461.8 148.5,460.8 149.5,461.0 150.5,461.4 151.5,461.6 152.5,462.4 153.5,462.0 154.5,462.7 155.5,461.8 156.5,461.6 157.5,463.0 158.5,462.9 159.5,462.9 160.5,462.7 161.5,462.8 162.5,462.0 163.5,462.8 164.5,462.1 165.5,462.6 166.5,462.2 167.5,461.3 168.5,461.7 169.5,463.0 170.5,462.7 171.5,462.7 172.5,463.0 173.5,462.8 174.5,462.8 175.5,463.1 176.5,463.1 177.5,463.8 178.5,463.3 179.5,464.0 180.5,464.1 181.5,464.1 182.5,463.8 183.5,463.4 184.5,463.4 185.5,463.2 186.5,463.0 187.5,463.3 188.5,463.1 189.5,464.1 190.5,463.8 191.5,463.3 192.5,462.6 193.5,463.3 194.5,463.3 195.5,463.0 196.5,463.0 197.5,462.5 198.5,463.7 199.5,463.6 200.5,464.8 201.5,463.8 202.5,463.6 203.5,464.3 204.5,463.7 205.5,463.6 206.5,463.2 207.5,462.8 208.5,463.5 209.5,463.2 210.5,463.3 211.5,462.4 212.5,462.5 213.5,462.4 214.5,463.4 215.5,462.8 216.5,463.8 217.5,464.3 218.5,464.6 219.5,463.7 220.5,464.5 221.5,463.8 222.5,463.7 223.5,463.5 224.5,464.6" fill="none" stroke="#5a5a5a" stroke-width="0.65" />
<polyline points="60.5,472.1 61.5,471.3 62.5,471.1 63.5,471.2 64.5,472.6 65.5,472.1 66.5,471.4 67.5,470.7 68.5,471.1 69.5,472.1 70.5,472.5 71.5,471.6 72.5,471.3 73.5,471.4 74.5,470.8 75.5,472.0 76.5,471.3 77.5,472.2 78.5,471.1 79.5,471.1 80.5,471.8 81.5,471.5 82.5,472.2 83.5,471.9 84.5,471.4 85.5,472.1 86.5,472.3 87.5,471.2 88.5,472.7 89.5,472.3 90.5,472.4 91.5,471.3 92.5,471.6 93.5,471.8 94.5,472.5 95.5,471.5 96.5,471.6 97.5,471.2 98.5,471.9 99.5,472.3 100.5,471.4 101.5,471.8 102.5,472.4 103.5,473.0 104.5,472.6 105.5,472.2 106.5,471.7 107.5,471.7 108.5,471.9 109.5,472.2 110.5,472.2 111.5,472.9 112.5,472.3 113.5,471.4 114.5,472.2 115.5,471.5 116.5,470.1 117.5,468.3 118.5,465.9 119.5,464.2 120.5,463.3 121.5,461.6 122.5,461.4 123.5,463.4 124.5,465.4 125.5,467.7 126.5,469.5 127.5,471.2 128.5,471.1 129.5,472.3 130.5,471.9 131.5,472.7 132.5,472.7 133.5,472.8 134.5,473.2 135.5,472.8 136.5,473.3 137.5,473.2 138.5,472.9 139.5,472.5 140.5,472.3 141.5,472.4 142.5,472.6 143.5,472.7 144.5,474.0 145.5,473.1 146.5,472.9 147.5,472.1 148.5,471.9 149.5,472.1 150.5,472.5 151.5,472.1 152.5,473.4 153.5,472.8 154.5,473.6 155.5,472.3 156.5,473.2 157.5,473.5 158.5,473.5 159.5,473.7 160.5,473.6 161.5,473.5 162.5,472.5 163.5,472.8 164.5,472.0 165.5,473.1 166.5,473.1 167.5,473.0 168.5,472.8 169.5,473.1 170.5,474.3 171.5,474.6 172.5,473.9 173.5,474.4 174.5,473.2 175.5,472.9 176.5,473.5 177.5,473.5 178.5,473.6 179.5,474.0 180.5,475.4 181.5,473.9 182.5,474.1 183.5,474.2 184.5,474.1 185.5,474.5 186.5,475.0 187.5,473.7 188.5,474.2 189.5,474.1 190.5,474.4 191.5,473.6 192.5,473.4 193.5,473.1 194.5,474.4 195.5,474.4 196.5,474.4 197.5,473.3 198.5,474.1 199.5,474.0 200.5,473.7 201.5,473.9 202.5,474.7 203.5,474.7 204.5,474.4 205.5,474.5 206.5,473.9 207.5,473.9 208.5,473.7 209.5,473.7 210.5,473.3 211.5,473.1 212.5,473.3 213.5,473.3 214.5,474.8 215.5,474.5 216.5,474.6 217.5,475.6 218.5,475.5 219.5,474.2 220.5,475.1 221.5,475.3 222.5,475.8 223.5,475.7 224.5,475.4" fill="none" stroke="#5a5a5a" stroke-width="0.65" />
<polyline points="60.5,481.5 61.5,481.5 62.5,482.1 63.5,482.3 64.5,481.6 65.5,481.8 66.5,481.9 67.5,482.1 68.5,482.3 69.5,482.0 70.5,481.6 71.5,482.7 72.5,483.0 73.5,482.3 74.5,482.7 75.5,482.5 76.5,482.6 77.5,482.6 78.5,482.0 79.5,482.5 80.5,482.8 81.5,482.0 82.5,483.2 83.5,483.5 84.5,483.4 85.5,483.5 86.5,482.9 87.5,482.4 88.5,482.2 89.5,482.1 90.5,482.5 91.5,482.5 92.5,482.8 93.5,481.7 94.5,483.5 95.5,483.7 96.5,482.8 97.5,482.9 98.5,482.9 99.5,482.8 100.5,482.6 101.5,482.6 102.5,482.3 103.5,482.7 104.5,482.7 105.5,482.8 106.5,482.3 107.5,482.6 108.5,482.7 109.5,482.9 110.5,482.2 111.5,482.7 112.5,482.9 113.5,482.6 114.5,481.8 115.5,481.1 116.5,480.3 117.5,479.4 118.5,478.0 119.5,475.3 120.5,473.2 121.5,472.5 122.5,472.7 123.5,473.5 124.5,475.4 125.5,477.7 126.5,479.8 127.5,480.4 128.5,481.2 129.5,482.4 130.5,482.1 131.5,482.8 132.5,483.1 133.5,483.0 134.5,482.6 135.5,483.0 136.5,482.9 137.5,483.2 138.5,482.7 139.5,483.5 140.5,482.3 141.5,482.8 142.5,483.0 143.5,483.4 144.5,482.8 145.5,483.1 146.5,482.6 147.5,483.0 148.5,483.4 149.5,482.5 150.5,482.9 151.5,482.5 152.5,483.4 153.5,483.8 154.5,483.5 155.5,483.0 156.5,483.7 157.5,484.2 158.5,484.2 159.5,484.1 160.5,482.9 161.5,483.2 162.5,484.2 163.5,483.0 164.5,483.8 165.5,484.1 166.5,483.7 167.5,483.8 168.5,483.4 169.5,483.0 170.5,483.6 171.5,483.8 172.5,483.9 173.5,484.3 174.5,484.0 175.5,484.1 176.5,484.3 177.5,484.1 178.5,485.0 179.5,484.5 180.5,484.3 181.5,484.1 182.5,483.9 183.5,484.8 184.5,484.4 185.5,483.8 186.5,484.0 187.5,484.2 188.5,484.1 189.5,484.8 190.5,483.9 191.5,484.5 192.5,484.5 193.5,483.9 194.5,484.4 195.5,484.4 196.5,484.7 197.5,484.3 198.5,484.6 199.5,483.8 200.5,483.9 201.5,484.8 202.5,485.0 203.5,484.6 204.5,484.2 205.5,484.8 206.5,483.3 207.5,483.5 208.5,484.0 209.5,483.8 210.5,482.9 211.5,482.3 212.5,483.9 213.5,483.8 214.5,483.5 215.5,484.1 216.5,484.8 217.5,483.5 218.5,485.1 219.5,485.2 220.5,484.0 221.5,485.1 222.5,484.2 223.5,485.3 224.5,485.2" fill="none" stroke="#5a5a5a" stroke-width="0.65" />
<polyline points="60.5,494.6 61.5,493.5 62.5,493.6 63.5,494.1 64.5,493.4 65.5,493.3 66.5,493.4 67.5,493.6 68.5,493.1 69.5,493.8 70.5,493.9 71.5,493.7 72.5,494.4 73.5,493.6 74.5,494.3 75.5,493.5 76.5,494.0 77.5,492.9 78.5,493.7 79.5,493.6 80.5,493.5 81.5,493.4 82.5,493.5 83.5,493.4 84.5,492.7 85.5,493.3 86.5,493.4 87.5,493.5 88.5,493.2 89.5,493.6 90.5,494.1 91.5,493.7 92.5,493.6 93.5,494.4 94.5,494.3 95.5,494.3 96.5,494.4 97.5,493.7 98.5,493.7 99.5,494.3 100.5,493.6 101.5,493.7 102.5,494.0 103.5,494.0 104.5,493.7 105.5,494.2 106.5,493.7 107.5,494.1 108.5,494.3 109.5,494.1 110.5,494.0 111.5,493.1 112.5,492.8 113.5,492.9 114.5,493.1 115.5,493.1 116.5,491.0 117.5,490.1 118.5,487.9 119.5,485.8 120.5,484.2 121.5,483.6 122.5,483.6 123.5,485.3 124.5,486.3 125.5,489.0 126.5,490.9 127.5,491.8 128.5,492.8 129.5,492.9 130.5,492.9 131.5,493.4 132.5,493.4 133.5,495.0 134.5,493.8 135.5,494.6 136.5,494.0 137.5,494.0 138.5,494.2 139.5,493.5 140.5,494.1 141.5,493.9 142.5,493.1 143.5,493.9 144.5,493.9 145.5,493.8 146.5,494.2 147.5,493.2 148.5,493.4 149.5,493.6 150.5,492.9 151.5,493.9 152.5,493.1 153.5,493.1 154.5,494.1 155.5,493.6 156.5,494.0 157.5,493.4 158.5,494.1 159.5,493.7 160.5,494.3 161.5,493.5 162.5,494.2 163.5,493.8 164.5,493.8 165.5,493.6 166.5,493.7 167.5,493.1 168.5,492.6 169.5,493.8 170.5,493.7 171.5,494.0 172.5,494.5 173.5,493.5 174.5,493.9 175.5,494.1 176.5,493.9 177.5,494.5 178.5,494.4 179.5,494.1 180.5,493.9 181.5,494.7 182.5,494.2 183.5,494.7 184.5,494.7 185.5,493.7 186.5,493.9 187.5,494.4 188.5,494.6 189.5,494.9 190.5,494.9 191.5,495.1 192.5,494.4 193.5,494.4 194.5,494.9 195.5,494.4 196.5,495.0 197.5,493.9 198.5,494.8 199.5,494.5 200.5,493.7 201.5,494.9 202.5,494.7 203.5,494.5 204.5,493.9 205.5,493.9 206.5,494.5 207.5,493.2 208.5,491.5 209.5,492.0 210.5,491.7 211.5,492.0 212.5,492.2 213.5,492.3 214.5,492.8 215.5,494.1 216.5,493.4 217.5,495.1 218.5,494.4 219.5,494.1 220.5,494.9 221.5,495.0 222.5,494.3 223.5,495.0 224.5,494.0" fill="none" stroke="#5a5a5a" stroke-width="0.65" />
</g>
<text x="80.6" y="368.8" font-size="7.2" text-anchor="end" fill="#111" stroke="#111" stroke-width="0.18" >4 K</text>
<text x="80.6" y="380.2" font-size="7.2" text-anchor="end" fill="#111" stroke="#111" stroke-width="0.18" >50 K</text>
<text x="80.6" y="390.8" font-size="7.2" text-anchor="end" fill="#111" stroke="#111" stroke-width="0.18" >100 K</text>
<text x="80.6" y="400.5" font-size="7.2" text-anchor="end" fill="#111" stroke="#111" stroke-width="0.18" >150 K</text>
<text x="80.6" y="410.7" font-size="7.2" text-anchor="end" fill="#111" stroke="#111" stroke-width="0.18" >200 K</text>
<text x="80.6" y="420.6" font-size="7.2" text-anchor="end" fill="#111" stroke="#111" stroke-width="0.18" >250 K</text>
<text x="80.6" y="430.4" font-size="7.2" text-anchor="end" fill="#111" stroke="#111" stroke-width="0.18" >275 K</text>
<text x="80.6" y="438.3" font-size="7.2" text-anchor="end" fill="#111" stroke="#111" stroke-width="0.18" >300 K</text>
<text x="80.6" y="448.4" font-size="7.2" text-anchor="end" fill="#111" stroke="#111" stroke-width="0.18" >325 K</text>
<text x="80.6" y="459" font-size="7.2" text-anchor="end" fill="#111" stroke="#111" stroke-width="0.18" >350 K</text>
<text x="80.6" y="469.9" font-size="7.2" text-anchor="end" fill="#111" stroke="#111" stroke-width="0.18" >400 K</text>
<text x="80.6" y="480.4" font-size="7.2" text-anchor="end" fill="#111" stroke="#111" stroke-width="0.18" >450 K</text>
<text x="80.6" y="491.6" font-size="7.2" text-anchor="end" fill="#111" stroke="#111" stroke-width="0.18" >500 K</text>
<g clip-path="url(#clipB)">
<polyline points="414.6,172.6 415.1,172.4 415.6,172.6 416.2,172.6 416.7,172.5 417.2,172.6 417.7,172.6 418.2,172.6 418.7,172.6 419.2,172.6 419.7,172.5 420.2,172.6 420.7,172.4 421.2,172.5 421.7,172.6 422.2,172.6 422.7,172.7 423.2,172.6 423.7,172.6 424.2,172.7 424.7,172.6 425.2,172.6 425.7,172.5 426.2,172.6 426.7,172.6 427.2,172.5 427.7,172.5 428.2,172.6 428.8,172.6 429.3,172.4 429.8,172.5 430.3,172.3 430.5,171.7 430.7,171.2 431.2,171.7 431.4,172.3 431.8,172.8 432.3,172.6 432.8,172.6 433.3,172.6 433.8,172.3 434.4,172.4 434.9,172.4 435.4,172.3 435.9,172.3 436.4,172.4 436.8,171.9 437.3,171.6 437.4,171.1 437.5,170.6 437.7,169.4 437.7,168.7 437.8,167.6 437.8,166.0 437.9,164.1 437.9,161.6 438.0,158.4 438.0,154.4 438.1,149.8 438.2,144.6 438.2,139.4 438.3,133.9 438.3,128.3 438.4,124.6 438.4,122.0 438.5,121.5 438.6,122.5 438.6,124.1 438.7,129.2 438.7,133.1 438.8,138.6 438.8,144.0 438.9,149.4 438.9,153.9 439.0,157.9 439.1,161.2 439.1,163.6 439.2,165.8 439.2,167.4 439.3,168.5 439.3,169.3 439.4,170.1 439.5,170.7 439.6,171.3 439.9,171.8 440.3,172.3 440.8,172.2 441.3,172.4 441.8,172.5 442.3,172.3 442.8,172.7 443.3,172.7 443.8,172.6 444.3,172.5 444.8,172.3 445.3,172.6 445.8,172.6 446.3,172.4 446.8,172.6 447.3,172.7 447.8,172.5 448.4,172.5 448.9,172.4 449.4,172.5 449.9,172.6 450.4,172.4 450.9,172.3 451.4,172.1 451.5,171.5 451.7,170.6 451.8,169.6 451.8,168.8 451.9,167.8 451.9,166.7 452.0,165.6 452.0,164.5 452.1,163.5 452.2,162.6 452.2,161.9 452.3,161.0 452.4,161.8 452.4,162.3 452.5,163.4 452.6,164.5 452.6,165.7 452.7,166.9 452.7,167.9 452.8,168.7 452.8,169.5 452.9,170.3 452.9,170.7 453.0,171.2 453.2,171.9 453.6,172.5 454.1,172.6 454.6,172.5 455.1,172.5 455.6,172.5 456.1,172.6 456.6,172.4 457.0,171.8 457.2,171.3 457.3,170.8 457.4,170.3 457.8,170.9 457.8,171.3 458.0,171.9 458.3,172.5 458.8,172.6 459.3,172.5 459.8,172.4 460.3,172.6 460.8,172.6 461.3,172.5 461.8,172.5 462.4,172.5 462.9,172.7 463.4,172.6 463.9,172.5 464.4,172.4 464.9,172.5 465.4,172.7 465.9,172.5 466.4,172.6 466.9,172.4 467.4,172.6 467.9,172.5 468.4,172.5 468.9,172.8 469.4,172.6 469.9,172.5 470.4,172.7 470.9,172.2 471.1,171.7 471.3,171.0 471.8,171.6 472.1,172.3 472.6,172.6 473.1,172.7 473.6,172.5 474.1,172.6 474.6,172.5 475.1,172.6 475.6,172.4 475.8,171.9 476.1,171.3 476.6,171.3 476.7,171.9 477.1,172.4 477.6,172.7 478.1,172.6 478.6,172.6 479.1,172.7 479.6,172.5 480.1,172.5 480.6,172.7 481.1,172.5 481.6,172.5 482.1,172.5 482.6,172.7 483.1,172.6 483.6,172.5 484.1,172.6 484.6,172.6 485.1,172.6 485.6,172.6 486.2,172.7 486.7,172.5 487.2,172.5 487.7,172.4 488.2,172.5 488.7,172.2 488.9,171.7 489.1,171.0 489.2,170.1 489.2,169.6 489.3,168.7 489.3,168.2 489.4,167.2 489.5,165.9 489.5,165.2 489.6,164.4 489.6,163.2 489.7,162.7 489.8,162.1 490.0,163.1 490.0,164.1 490.1,165.1 490.1,165.7 490.2,166.7 490.2,167.7 490.3,168.4 490.4,169.3 490.5,170.6 490.6,171.2 490.7,171.9 491.2,172.3 491.8,172.2 492.1,171.8 492.3,171.3 492.4,170.8 492.9,170.9 493.0,171.6 493.3,172.1 493.7,172.7 494.2,172.4 494.7,172.4 495.1,171.8 495.3,171.1 495.8,171.3 496.1,171.8 496.4,172.3 496.9,172.4 497.4,172.3 497.9,172.6 498.4,172.5 498.9,172.5 499.4,172.5 499.9,172.5 500.4,172.2 500.9,172.0 501.2,171.5 501.4,170.8 501.5,170.3 501.6,169.8 501.8,169.3 502.1,169.7 502.2,170.4 502.3,171.1 502.6,171.6 503.1,171.7 503.3,171.2 503.6,170.5 503.6,169.8 503.7,168.9 503.8,167.9 503.8,166.9 503.9,165.4 504.0,163.5 504.0,161.7 504.1,158.8 504.1,155.9 504.2,152.8 504.2,149.6 504.3,146.1 504.4,142.6 504.4,139.9 504.5,137.1 504.5,134.4 504.6,133.8 504.7,135.0 504.7,137.1 504.8,139.4 504.9,142.7 504.9,146.8 505.0,149.9 505.0,153.4 505.1,156.2 505.1,159.1 505.2,161.7 505.2,163.6 505.3,165.4 505.4,167.0 505.4,167.8 505.5,168.8 505.5,169.7 505.6,170.3 505.8,170.9 505.9,171.3 506.4,171.8 506.9,171.8 507.4,171.8 507.9,171.9 508.4,171.8 508.9,171.6 509.4,171.2 509.8,170.7 510.1,170.0 510.3,169.5 510.5,168.9 510.6,168.2 510.7,167.6 510.8,166.7 510.8,165.9 510.9,165.1 511.0,164.0 511.0,162.7 511.1,160.8 511.1,158.0 511.2,154.2 511.2,149.4 511.3,141.9 511.4,132.9 511.4,120.1 511.5,106.8 511.5,88.5 511.6,70.6 511.6,51.2 511.7,33.7 511.7,25.0 511.8,18.0 511.9,21.0 511.9,35.8 512.0,53.2 512.0,68.7 512.1,88.2 512.1,105.4 512.2,119.6 512.2,131.6 512.3,140.0 512.4,147.8 512.4,151.6 512.5,155.2 512.5,157.0 512.6,157.7 512.7,157.2 512.8,155.5 512.8,154.2 512.9,152.1 512.9,149.5 513.0,146.6 513.0,142.9 513.1,138.6 513.1,135.1 513.2,132.1 513.3,129.2 513.3,127.4 513.4,126.1 513.5,127.9 513.5,130.0 513.6,132.6 513.6,136.4 513.7,139.7 513.8,144.1 513.8,147.8 513.9,151.7 513.9,155.0 514.0,158.0 514.0,160.6 514.1,163.1 514.2,164.4 514.2,166.0 514.3,166.9 514.3,168.1 514.4,168.7 514.4,169.2 514.5,169.7 514.6,170.3 514.8,170.8 515.2,171.3 515.7,171.8 516.2,171.8 516.7,171.8 517.2,171.9 517.7,171.7 518.2,171.7 518.4,171.1 518.6,170.3 518.7,169.5 518.8,168.9 518.9,167.9 518.9,166.9 519.0,165.5 519.0,163.8 519.1,161.8 519.1,159.3 519.2,156.4 519.2,153.3 519.3,150.4 519.4,147.2 519.4,143.6 519.5,140.1 519.5,137.3 519.6,135.1 519.6,133.0 519.8,135.3 519.9,137.2 519.9,140.3 520.0,143.3 520.0,146.4 520.1,150.0 520.1,153.5 520.2,155.9 520.3,159.1 520.3,161.5 520.4,163.5 520.4,165.2 520.5,166.9 520.5,167.9 520.6,168.8 520.6,169.5 520.8,170.4 520.9,171.1 521.1,171.6 521.6,172.0 522.1,172.0 522.6,172.1 523.1,172.3 523.6,172.4 524.1,172.2 524.6,172.2 525.1,171.9 525.5,171.5 525.8,170.4 525.9,169.3 526.0,168.6 526.0,167.5 526.1,166.5 526.1,165.6 526.2,163.7 526.2,162.4 526.3,160.7 526.4,159.2 526.4,157.2 526.5,155.3 526.5,153.6 526.6,152.3 526.6,151.5 526.8,152.6 526.9,153.9 526.9,155.3 527.0,156.7 527.0,158.6 527.1,160.3 527.1,162.1 527.2,163.7 527.3,165.2 527.3,166.6 527.4,167.5 527.4,168.6 527.5,169.4 527.5,169.9 527.6,170.6 527.7,171.2 528.0,171.7 528.5,172.1 529.0,171.9 529.4,171.3 529.6,170.7 529.7,170.2 529.9,169.7 530.2,170.2 530.4,171.2 530.6,171.8 531.1,172.4 531.6,172.2 532.1,172.2 532.6,172.3 533.1,172.0 533.6,171.9 534.0,171.4 534.1,170.9 534.3,170.3 534.3,169.6 534.4,168.5 534.5,167.7 534.5,166.6 534.6,165.5 534.6,163.7 534.7,162.6 534.8,160.5 534.8,158.8 534.9,156.9 534.9,154.9 535.0,152.7 535.0,152.0 535.1,150.3 535.2,149.1 535.3,149.9 535.3,150.6 535.4,151.8 535.4,153.4 535.5,155.4 535.5,156.8 535.6,159.0 535.7,160.6 535.7,162.5 535.8,164.0 535.8,165.2 535.9,166.4 535.9,167.1 536.0,168.1 536.0,168.6 536.1,169.1 536.2,169.6 536.5,170.1 536.7,169.6 536.8,169.0 536.8,168.3 536.9,167.6 536.9,166.7 537.0,165.4 537.1,164.1 537.1,161.9 537.2,159.6 537.2,156.5 537.3,153.0 537.3,148.7 537.4,144.6 537.4,139.8 537.5,134.6 537.6,128.8 537.6,123.5 537.7,118.0 537.7,114.1 537.8,110.6 537.8,108.0 537.9,107.0 538.0,108.1 538.1,113.6 538.1,117.9 538.2,122.6 538.2,128.0 538.3,133.8 538.3,139.3 538.4,143.5 538.5,148.4 538.5,153.3 538.6,155.8 538.6,159.3 538.7,161.8 538.7,163.7 538.8,165.5 538.8,166.6 538.9,167.7 539.0,168.3 539.0,169.1 539.1,169.6 539.2,170.2 539.4,170.9 539.6,171.3 540.1,171.6 540.6,171.7 541.1,171.7 541.6,171.8 542.2,171.6 542.7,171.6 543.2,171.1 543.5,170.5 543.6,170.0 543.8,169.4 543.8,168.9 543.9,168.2 543.9,167.7 544.0,166.7 544.1,165.2 544.1,163.6 544.2,161.7 544.2,159.0 544.3,156.0 544.3,152.5 544.4,147.9 544.4,142.6 544.5,137.6 544.6,132.3 544.6,125.2 544.7,117.9 544.7,112.1 544.8,106.4 544.8,102.0 544.9,96.4 545.0,93.5 545.0,92.6 545.1,96.3 545.1,99.2 545.2,102.9 545.2,107.7 545.3,113.7 545.3,120.9 545.4,127.0 545.5,133.1 545.5,139.0 545.6,144.6 545.6,149.2 545.7,153.5 545.7,156.7 545.8,159.8 545.8,162.1 545.9,163.9 546.0,165.5 546.0,166.6 546.1,167.4 546.1,168.0 546.2,168.8 546.6,168.3 546.6,167.8 546.8,167.1 547.0,166.5 547.1,167.0 547.2,167.8 547.4,168.7 547.5,169.6 547.6,170.1 547.6,170.8 547.8,171.2 548.0,171.8 548.5,172.0 549.0,172.1 549.5,172.2 550.0,172.2 550.6,172.3 551.1,172.5 551.6,172.3 552.1,172.4 552.6,172.3 553.1,172.2 553.6,172.1 554.1,171.9 554.6,171.7 554.9,171.1 555.0,170.5 555.1,169.9 555.1,169.4 555.2,168.7 555.3,167.9 555.3,166.5 555.4,165.4 555.4,163.7 555.5,161.9 555.5,160.0 555.6,157.9 555.6,155.0 555.7,152.1 555.8,149.5 555.8,147.4 555.9,144.9 555.9,142.6 556.0,140.7 556.0,138.9 556.2,139.6 556.2,140.7 556.3,142.2 556.3,144.2 556.4,146.6 556.4,148.7 556.5,152.0 556.5,154.7 556.6,157.3 556.7,159.7 556.7,161.6 556.8,163.5 556.8,165.2 556.9,166.4 556.9,167.3 557.0,168.4 557.0,169.1 557.1,169.7 557.2,170.4 557.3,171.1 557.7,171.6 558.2,171.7 558.7,171.5 559.0,170.8 559.1,170.1 559.2,169.2 559.3,168.6 559.3,167.9 559.4,167.1 559.5,165.9 559.5,164.8 559.6,163.5 559.6,162.0 559.7,161.0 559.7,159.3 559.8,158.7 559.8,157.5 559.9,156.5 560.1,157.1 560.2,158.3 560.2,159.2 560.3,160.3 560.4,161.5 560.4,163.0 560.5,164.0 560.5,165.2 560.6,166.3 560.6,167.4 560.7,168.2 560.7,169.0 560.8,169.5 560.9,170.3 561.0,170.9 561.1,171.5 561.4,171.9 561.9,171.9 562.3,171.2 562.5,170.4 562.6,169.9 562.6,169.4 562.8,168.9 562.9,168.2 563.2,168.9 563.3,169.3 563.4,170.1 563.5,170.9 563.7,171.4 563.9,171.9 564.3,172.3 564.8,172.2 564.9,172.7 565.4,172.4 565.9,172.5 566.4,172.4 566.9,172.7 567.4,172.5 567.9,172.4 568.4,172.5 568.9,172.6 569.4,172.6 569.9,172.3 570.4,172.4 570.9,172.7 571.4,172.4 571.9,172.7 572.4,172.4 573.0,172.7 573.2,172.2 573.7,171.8 574.2,171.6 574.5,172.2 575.0,172.5 575.5,172.4 576.0,172.6 576.5,172.6 577.0,172.5 577.5,172.4 578.0,172.4 578.5,172.6 579.0,172.5 579.5,172.5 580.0,172.4 580.5,172.8 580.9,172.3 581.4,172.4 581.9,172.5 582.4,172.0 582.9,172.0 583.0,171.5 583.3,170.9 583.3,170.3 583.4,169.3 583.5,168.8 583.5,168.0 583.6,166.9 583.6,165.8 583.7,164.5 583.8,163.2 583.8,161.6 583.9,160.3 583.9,158.0 584.0,156.7 584.0,154.7 584.1,153.7 584.2,152.5 584.2,151.5 584.3,150.8 584.4,152.3 584.5,153.1 584.5,154.6 584.6,156.0 584.7,157.7 584.7,159.3 584.8,160.7 584.8,162.5 584.9,164.1 584.9,165.4 585.0,166.6 585.0,167.6 585.1,168.3 585.2,169.3 585.3,170.3 585.4,170.9 585.5,171.4 585.7,172.0 586.2,172.1 586.7,172.2 587.2,172.2 587.7,172.2 588.0,171.6 588.2,170.7 588.4,170.1 588.5,169.3 588.6,168.8 589.1,169.5 589.2,170.1 589.3,170.6 589.4,171.1 589.5,171.5 589.8,172.4 590.3,172.3 590.8,172.5 591.3,172.4 591.8,172.4 592.3,172.3 592.8,172.2 593.2,171.7 593.4,171.1 593.6,170.2 593.7,169.7 593.7,169.0 593.8,168.4 593.8,167.8 593.9,167.1 594.0,166.6 594.0,166.1 594.1,165.6 594.1,164.8 594.2,164.2 594.3,163.7 594.4,164.4 594.5,165.1 594.6,165.7 594.6,166.6 594.7,167.5 594.8,168.1 594.8,168.7 594.9,169.2 595.0,169.7 595.1,170.6 595.2,171.2 595.4,171.7 595.5,172.2 596.0,172.3 596.5,172.3 597.0,172.4 597.5,172.3 598.0,172.1 598.5,171.9 598.8,171.4 599.0,170.8 599.2,169.6 599.2,169.1 599.3,168.2 599.3,167.6 599.4,166.7 599.4,165.7 599.5,164.7 599.6,163.6 599.6,162.4 599.7,161.2 599.7,160.0 599.8,159.3 599.8,158.3 599.9,157.7 599.9,157.1 600.1,157.7 600.2,158.4 600.2,159.2 600.3,160.2 600.3,161.3 600.4,162.3 600.4,163.5 600.5,164.3 600.6,165.4 600.6,166.4 600.7,167.4 600.7,168.2 600.8,168.8 600.9,169.7 601.0,170.4 601.1,170.9 601.6,171.1 601.8,170.5 601.9,169.8 602.0,169.0 602.1,168.2 602.1,167.4 602.2,166.4 602.2,165.4 602.3,164.1 602.4,162.1 602.4,160.6 602.5,158.7 602.5,156.6 602.6,154.4 602.6,152.2 602.7,150.1 602.7,148.0 602.8,146.4 602.9,144.8 602.9,143.9 603.0,143.4 603.1,144.1 603.1,145.0 603.2,145.8 603.2,148.5 603.3,150.4 603.4,152.2 603.4,154.5 603.5,156.3 603.5,158.4 603.6,160.4 603.6,162.1 603.7,163.7 603.8,165.0 603.8,166.3 603.9,167.4 603.9,168.1 604.0,168.7 604.0,169.5 604.1,170.2 604.3,170.8 604.5,171.2 605.0,171.2 605.4,170.7 605.5,170.2 605.7,169.6 605.7,169.0 605.8,168.4 605.8,167.7 605.9,166.8 605.9,165.8 606.0,164.8 606.0,163.6 606.1,162.1 606.2,160.9 606.2,159.5 606.3,158.2 606.3,156.4 606.4,155.3 606.4,153.9 606.6,152.8 606.7,153.7 606.8,154.7 606.8,155.5 606.9,157.1 606.9,158.3 607.0,159.6 607.1,161.2 607.1,162.1 607.2,163.9 607.2,164.9 607.3,165.8 607.3,166.8 607.4,167.7 607.4,168.3 607.6,169.2 607.7,169.8 607.8,170.3 608.0,169.7 608.1,169.1 608.1,168.3 608.2,167.3 608.3,166.6 608.3,165.4 608.4,164.3 608.5,163.1 608.5,161.9 608.6,160.1 608.6,159.1 608.7,157.7 608.7,156.5 608.8,154.9 608.8,153.9 608.9,153.4 609.0,152.9 609.1,153.3 609.1,154.1 609.2,155.6 609.3,157.3 609.4,158.2 609.4,160.0 609.5,161.3 609.5,162.9 609.6,163.8 609.6,165.3 609.7,166.4 609.7,167.2 609.8,168.2 609.9,169.0 609.9,169.5 610.0,170.2 610.1,171.0 610.3,171.5 610.8,171.9 611.3,171.9 611.8,172.0 612.3,171.6 612.8,171.4 613.0,170.8 613.2,170.1 613.3,169.2 613.4,168.4 613.4,167.3 613.5,166.7 613.6,165.5 613.6,164.2 613.7,162.4 613.7,160.8 613.8,158.5 613.8,156.5 613.9,154.1 613.9,151.4 614.0,148.5 614.1,146.1 614.1,143.3 614.2,141.8 614.2,139.3 614.3,136.9 614.3,136.3 614.4,136.8 614.4,136.1 614.5,137.3 614.6,139.2 614.6,140.5 614.7,142.8 614.7,145.4 614.8,148.2 614.8,150.4 614.9,153.1 615.0,155.8 615.0,157.9 615.1,160.3 615.1,162.0 615.2,163.7 615.2,165.3 615.3,166.2 615.3,167.7 615.4,168.4 615.5,168.9 615.5,169.5 615.6,170.1 615.7,170.8 615.8,171.3 616.2,171.7 616.7,172.0 617.2,172.3 617.8,172.1 618.3,172.5 618.8,172.3 619.3,172.1 619.5,171.5 620.0,171.3 620.5,171.8 620.8,172.3 621.3,172.3 621.8,172.5 622.3,172.4 622.8,172.3 623.4,172.4 623.9,172.5 624.4,172.4 624.9,172.2 625.4,171.8 625.6,171.2 625.8,170.4 625.9,169.5 625.9,168.9 626.0,168.1 626.0,167.6 626.1,166.7 626.2,166.0 626.2,165.0 626.3,163.8 626.3,163.0 626.4,161.9 626.4,160.9 626.5,160.0 626.6,159.2 626.7,158.7 626.8,159.4 626.9,160.7 627.0,161.5 627.0,162.7 627.1,163.6 627.2,164.3 627.2,165.4 627.3,166.2 627.3,167.2 627.4,168.1 627.4,168.7 627.5,169.3 627.6,169.8 627.7,170.7 627.8,171.3 627.9,171.8 628.4,172.1 628.9,172.0 629.1,171.3 629.5,170.7 629.8,170.2 630.1,170.7 630.3,171.3 630.5,171.9 631.0,172.3 631.5,172.3 632.0,172.4 632.5,172.4 633.0,172.3 633.4,171.7 633.9,171.0 634.4,171.5 634.7,172.2 635.2,172.2 635.7,172.5 636.2,172.6 636.7,172.2 637.2,172.2 637.7,171.8 637.9,171.3 638.1,170.6 638.1,170.0 638.2,169.1 638.3,168.7 638.4,168.0 638.4,167.5 638.5,166.8 638.5,165.8 638.6,165.1 638.6,164.4 638.7,163.6 638.8,162.6 638.9,161.6 638.9,161.0 639.1,161.5 639.3,163.0 639.3,163.7 639.4,164.2 639.4,165.1 639.5,165.9 639.5,166.5 639.6,167.4 639.6,168.1 639.7,168.8 639.8,169.7 639.9,170.6 640.0,171.1 640.3,171.5 640.8,172.0 641.0,171.5 641.4,170.6 641.6,169.7 641.7,169.2 641.7,168.5 641.8,168.0 641.8,167.0 641.9,166.0 641.9,165.4 642.0,164.1 642.1,162.9 642.1,161.6 642.2,160.1 642.2,158.6 642.3,157.7 642.3,156.1 642.4,155.1 642.4,154.1 642.6,153.0 642.7,153.7 642.8,154.9 642.8,155.4 642.9,156.8 643.0,158.5 643.0,159.3 643.1,161.1 643.1,161.9 643.2,163.3 643.2,164.6 643.3,165.5 643.3,166.5 643.4,167.4 643.5,167.9 643.5,168.8 643.6,169.3 643.7,169.9 643.8,170.4 644.1,169.9 644.2,169.4 644.3,168.8 644.4,168.1 644.5,167.4 644.6,166.1 644.6,165.6 644.7,165.1 644.7,164.4 644.9,163.7 645.0,163.0 645.1,163.6 645.2,164.0 645.2,164.5 645.4,165.4 645.4,165.9 645.5,166.6 645.5,167.4 645.6,168.0 645.8,168.8 646.1,168.1 646.3,167.1 646.4,166.5 646.4,165.6 646.5,164.6 646.6,163.8 646.8,163.3 647.0,164.2 647.1,165.2 647.2,166.0 647.2,166.5 647.3,167.7 647.4,168.8 647.5,169.4 647.5,169.9 647.7,170.4 647.8,171.0 647.9,171.5 648.2,172.0 648.7,172.1 649.2,172.3 649.7,172.3 650.2,172.1 650.7,172.3 651.0,171.7 651.2,171.2 651.4,170.4 651.5,169.9 651.7,168.9 651.8,168.4 652.3,169.1 652.5,169.9 652.6,170.5 652.7,170.9 652.8,171.5 653.0,171.9 653.5,172.4 654.0,172.3 654.5,171.7 654.7,171.2 654.8,170.6 654.9,170.0 655.0,169.5 655.1,169.1 655.2,168.5 655.4,168.1 655.6,168.5 655.7,169.1 655.8,169.6 655.9,170.2 656.1,171.0 656.3,171.6 656.5,172.0 657.0,172.3 657.5,172.3 658.0,172.3 658.4,171.6 658.8,171.0 659.3,171.3 659.6,171.9 660.1,172.2 660.6,172.6 661.0,172.1 661.4,171.4 661.5,170.8 661.7,170.4 661.9,169.9 662.3,170.4 662.4,170.9 662.6,171.6 662.9,172.1 663.4,172.4 664.0,172.5 664.5,172.5 665.0,172.4 665.4,171.8 665.7,171.3 666.2,171.2 666.5,171.7 666.8,172.2 667.3,172.5 667.8,172.4 668.3,172.6 668.8,172.0 669.0,171.4 669.3,170.7 669.4,170.0 669.6,169.3 670.1,169.8 670.3,170.3 670.4,171.1 670.6,171.6 670.9,172.2 671.4,172.4 671.9,172.5 672.4,172.6 672.9,172.4 673.1,171.9 673.6,171.1 674.1,170.8 674.4,171.3 674.6,171.9 675.0,172.3 675.5,172.5 676.0,172.5 676.6,172.5 677.1,172.5 677.6,172.4 678.1,172.1 678.4,171.4 678.6,170.7 678.8,170.2 679.4,170.7 679.6,171.4" fill="none" stroke="none" marker-start="url(#mc)" marker-mid="url(#mc)" marker-end="url(#mc)"/>
<polyline points="414.6,172.6 414.9,172.6 415.2,172.6 415.5,172.6 415.8,172.6 416.0,172.6 416.3,172.6 416.6,172.6 416.9,172.6 417.2,172.6 417.4,172.6 417.7,172.6 418.0,172.6 418.3,172.6 418.6,172.6 418.8,172.6 419.1,172.6 419.4,172.6 419.7,172.6 420.0,172.6 420.2,172.6 420.5,172.6 420.8,172.6 421.1,172.6 421.4,172.6 421.6,172.6 421.9,172.6 422.2,172.6 422.5,172.6 422.8,172.6 423.0,172.6 423.3,172.6 423.6,172.6 423.9,172.6 424.2,172.6 424.4,172.6 424.7,172.6 425.0,172.6 425.3,172.6 425.6,172.6 425.8,172.6 426.1,172.6 426.4,172.6 426.7,172.6 427.0,172.6 427.2,172.6 427.5,172.6 427.8,172.6 428.1,172.6 428.4,172.6 428.6,172.6 428.9,172.6 429.2,172.6 429.5,172.5 429.8,172.5 430.0,172.4 430.3,172.1 430.4,171.8 430.5,171.5 430.7,171.2 430.9,171.1 431.0,171.4 431.2,171.8 431.3,172.1 431.4,172.3 431.7,172.5 432.0,172.5 432.3,172.5 432.6,172.5 432.8,172.5 433.1,172.5 433.4,172.5 433.7,172.5 434.0,172.5 434.2,172.5 434.5,172.5 434.8,172.4 435.1,172.4 435.4,172.4 435.6,172.3 435.9,172.3 436.2,172.2 436.5,172.1 436.8,171.9 437.0,171.7 437.3,171.3 437.4,171.1 437.5,170.6 437.5,170.3 437.6,169.8 437.7,169.2 437.7,168.3 437.8,167.1 437.8,165.4 437.9,163.2 437.9,160.4 438.0,156.9 438.0,152.6 438.1,147.6 438.2,142.1 438.2,136.2 438.3,130.4 438.3,124.9 438.4,120.4 438.4,117.3 438.5,116.1 438.6,117.0 438.6,119.8 438.7,124.2 438.7,129.5 438.8,135.4 438.8,141.3 438.9,146.9 438.9,151.9 439.0,156.3 439.1,160.0 439.1,162.9 439.2,165.2 439.2,166.9 439.3,168.2 439.3,169.1 439.4,169.8 439.4,170.2 439.5,170.6 439.6,170.8 439.7,171.2 439.8,171.5 440.1,171.8 440.3,172.0 440.6,172.1 440.9,172.2 441.2,172.3 441.5,172.4 441.7,172.4 442.0,172.4 442.3,172.5 442.6,172.5 442.9,172.5 443.1,172.5 443.4,172.5 443.7,172.5 444.0,172.5 444.3,172.5 444.5,172.5 444.8,172.5 445.1,172.5 445.4,172.5 445.7,172.5 445.9,172.6 446.2,172.6 446.5,172.6 446.8,172.6 447.1,172.6 447.3,172.6 447.6,172.6 447.9,172.6 448.2,172.5 448.5,172.5 448.7,172.5 449.0,172.5 449.3,172.5 449.6,172.5 449.9,172.5 450.1,172.5 450.4,172.5 450.7,172.4 451.0,172.3 451.3,172.2 451.4,171.9 451.5,171.4 451.6,171.1 451.7,170.7 451.7,170.1 451.8,169.4 451.8,168.5 451.9,167.6 451.9,166.5 452.0,165.3 452.0,164.1 452.1,163.0 452.2,162.0 452.2,161.2 452.3,160.8 452.4,161.2 452.4,162.0 452.5,163.0 452.6,164.1 452.6,165.3 452.7,166.5 452.7,167.6 452.8,168.5 452.8,169.4 452.9,170.1 452.9,170.7 453.0,171.1 453.1,171.4 453.2,171.9 453.3,172.2 453.6,172.3 453.9,172.4 454.2,172.5 454.5,172.5 454.7,172.5 455.0,172.5 455.3,172.5 455.6,172.5 455.9,172.5 456.1,172.5 456.4,172.5 456.7,172.4 456.9,172.1 457.0,171.7 457.1,171.3 457.3,170.9 457.4,170.5 457.6,170.5 457.8,170.9 457.9,171.4 458.0,171.8 458.1,172.1 458.3,172.4 458.5,172.5 458.8,172.5 459.1,172.6 459.4,172.6 459.7,172.6 459.9,172.6 460.2,172.6 460.5,172.6 460.8,172.6 461.1,172.6 461.3,172.6 461.6,172.6 461.9,172.6 462.2,172.6 462.5,172.6 462.7,172.6 463.0,172.6 463.3,172.6 463.6,172.6 463.9,172.6 464.1,172.6 464.4,172.6 464.7,172.6 465.0,172.6 465.3,172.6 465.5,172.6 465.8,172.6 466.1,172.6 466.4,172.6 466.7,172.6 466.9,172.6 467.2,172.6 467.5,172.6 467.8,172.6 468.1,172.6 468.3,172.6 468.6,172.6 468.9,172.6 469.2,172.6 469.5,172.6 469.7,172.6 470.0,172.6 470.3,172.5 470.6,172.5 470.9,172.3 471.0,172.0 471.1,171.7 471.3,171.4 471.4,171.1 471.6,171.2 471.8,171.4 471.9,171.7 472.0,172.0 472.2,172.3 472.4,172.5 472.7,172.5 473.0,172.6 473.3,172.6 473.6,172.6 473.8,172.6 474.1,172.6 474.4,172.6 474.7,172.6 475.0,172.6 475.2,172.5 475.5,172.4 475.7,172.2 475.9,171.8 476.0,171.5 476.1,171.2 476.4,171.1 476.6,171.5 476.7,171.8 476.8,172.0 477.0,172.3 477.2,172.5 477.5,172.6 477.8,172.6 478.1,172.6 478.4,172.6 478.6,172.6 478.9,172.6 479.2,172.6 479.5,172.6 479.8,172.6 480.0,172.6 480.3,172.6 480.6,172.6 480.9,172.6 481.2,172.6 481.4,172.6 481.7,172.6 482.0,172.6 482.3,172.6 482.6,172.6 482.8,172.6 483.1,172.6 483.4,172.6 483.7,172.6 484.0,172.6 484.2,172.6 484.5,172.6 484.8,172.6 485.1,172.6 485.4,172.6 485.6,172.6 485.9,172.6 486.2,172.6 486.5,172.5 486.8,172.5 487.0,172.5 487.3,172.5 487.6,172.5 487.9,172.5 488.2,172.4 488.4,172.3 488.7,172.2 488.9,171.9 489.0,171.5 489.1,171.2 489.1,170.9 489.2,170.4 489.2,169.9 489.3,169.2 489.3,168.5 489.4,167.7 489.5,166.8 489.5,165.9 489.6,165.1 489.6,164.3 489.7,163.7 489.7,163.2 489.9,163.5 490.0,164.1 490.0,164.8 490.1,165.7 490.1,166.6 490.2,167.4 490.2,168.3 490.3,169.0 490.4,169.7 490.4,170.3 490.5,170.7 490.5,171.1 490.6,171.4 490.7,171.8 490.9,172.1 491.1,172.3 491.4,172.3 491.7,172.3 492.0,172.0 492.1,171.7 492.2,171.4 492.3,171.0 492.4,170.7 492.6,170.4 492.8,170.8 492.9,171.2 493.0,171.6 493.2,171.9 493.3,172.2 493.6,172.4 493.9,172.4 494.2,172.5 494.4,172.4 494.7,172.4 495.0,172.1 495.2,171.8 495.3,171.5 495.4,171.2 495.6,170.9 495.8,171.3 496.0,171.6 496.1,171.8 496.2,172.2 496.5,172.4 496.8,172.5 497.1,172.5 497.4,172.5 497.6,172.5 497.9,172.5 498.2,172.5 498.5,172.5 498.8,172.5 499.0,172.5 499.3,172.4 499.6,172.4 499.9,172.4 500.2,172.4 500.4,172.3 500.7,172.3 501.0,172.0 501.2,171.7 501.3,171.3 501.4,170.8 501.4,170.5 501.5,170.3 501.6,170.0 501.6,169.7 501.7,169.4 502.0,169.7 502.1,170.2 502.2,170.4 502.3,170.9 502.4,171.3 502.5,171.5 502.8,171.7 503.1,171.6 503.3,171.3 503.4,171.1 503.5,170.6 503.6,170.3 503.6,169.9 503.7,169.4 503.7,168.6 503.8,167.7 503.8,166.5 503.9,164.9 504.0,163.0 504.0,160.7 504.1,158.1 504.1,155.0 504.2,151.6 504.2,148.0 504.3,144.4 504.4,140.8 504.4,137.4 504.5,134.7 504.5,132.7 504.6,131.6 504.7,132.9 504.7,135.0 504.8,137.9 504.9,141.2 504.9,144.9 505.0,148.6 505.0,152.1 505.1,155.4 505.1,158.4 505.2,161.1 505.2,163.3 505.3,165.1 505.4,166.6 505.4,167.8 505.5,168.7 505.5,169.4 505.6,169.9 505.6,170.3 505.7,170.6 505.8,171.0 506.0,171.4 506.3,171.7 506.5,171.8 506.8,171.9 507.1,171.9 507.4,172.0 507.7,172.0 507.9,171.9 508.2,171.9 508.5,171.8 508.8,171.7 509.1,171.6 509.3,171.4 509.6,171.2 509.8,170.9 510.0,170.6 510.2,170.3 510.3,169.9 510.4,169.6 510.5,169.1 510.6,168.8 510.6,168.5 510.7,168.1 510.7,167.7 510.8,167.2 510.8,166.6 510.9,165.8 511.0,164.9 511.0,163.6 511.1,161.9 511.1,159.6 511.2,156.3 511.2,151.7 511.3,145.5 511.4,137.1 511.4,126.5 511.5,113.5 511.5,98.4 511.6,81.9 511.6,65.2 511.7,50.4 511.7,39.8 511.8,35.9 511.9,39.7 511.9,50.1 512.0,64.9 512.0,81.4 512.1,97.8 512.1,112.7 512.2,125.5 512.2,135.8 512.3,143.8 512.4,149.7 512.4,153.8 512.5,156.4 512.5,157.8 512.6,158.4 512.7,157.3 512.8,155.8 512.8,153.8 512.9,151.2 512.9,148.1 513.0,144.6 513.0,140.9 513.1,136.9 513.1,133.1 513.2,129.5 513.3,126.4 513.3,124.2 513.4,123.1 513.5,124.4 513.5,126.7 513.6,130.0 513.6,133.8 513.7,138.0 513.8,142.3 513.8,146.5 513.9,150.4 513.9,154.0 514.0,157.2 514.0,159.9 514.1,162.3 514.2,164.2 514.2,165.7 514.3,166.9 514.3,167.8 514.4,168.6 514.4,169.1 514.5,169.5 514.5,169.9 514.6,170.1 514.7,170.5 514.8,170.7 515.0,171.0 515.2,171.3 515.5,171.5 515.8,171.7 516.1,171.8 516.3,171.8 516.6,171.9 516.9,171.9 517.2,171.9 517.5,171.8 517.7,171.7 518.0,171.6 518.3,171.3 518.5,171.0 518.6,170.6 518.6,170.3 518.7,169.9 518.7,169.4 518.8,168.7 518.9,167.9 518.9,166.7 519.0,165.3 519.0,163.6 519.1,161.5 519.1,159.1 519.2,156.3 519.2,153.2 519.3,149.9 519.4,146.4 519.4,142.9 519.5,139.5 519.5,136.6 519.6,134.2 519.6,132.7 519.7,132.1 519.8,132.5 519.8,134.0 519.9,136.2 519.9,139.1 520.0,142.4 520.0,145.9 520.1,149.4 520.1,152.8 520.2,155.9 520.3,158.8 520.3,161.3 520.4,163.4 520.4,165.2 520.5,166.6 520.5,167.8 520.6,168.7 520.6,169.4 520.7,169.9 520.8,170.3 520.8,170.6 520.9,171.0 521.0,171.3 521.3,171.6 521.5,171.8 521.8,172.0 522.1,172.1 522.4,172.1 522.7,172.2 522.9,172.2 523.2,172.2 523.5,172.2 523.8,172.2 524.1,172.2 524.3,172.2 524.6,172.1 524.9,172.0 525.2,171.9 525.5,171.6 525.6,171.3 525.7,170.8 525.7,170.5 525.8,170.1 525.9,169.5 525.9,168.8 526.0,167.9 526.0,166.8 526.1,165.5 526.1,164.0 526.2,162.2 526.2,160.3 526.3,158.3 526.4,156.1 526.4,154.0 526.5,152.0 526.5,150.2 526.6,148.7 526.6,147.8 526.7,147.4 526.8,147.7 526.8,148.6 526.9,149.9 526.9,151.7 527.0,153.7 527.0,155.8 527.1,158.0 527.1,160.0 527.2,162.0 527.3,163.7 527.3,165.3 527.4,166.6 527.4,167.8 527.5,168.7 527.5,169.4 527.6,170.0 527.6,170.5 527.7,170.8 527.8,171.1 527.9,171.4 528.0,171.7 528.3,171.9 528.6,172.0 528.9,172.1 529.2,171.9 529.3,171.6 529.4,171.4 529.6,171.0 529.7,170.6 529.8,170.1 529.9,169.8 530.2,170.0 530.3,170.4 530.4,170.8 530.5,171.2 530.6,171.6 530.7,171.8 531.0,172.1 531.2,172.2 531.5,172.2 531.8,172.2 532.1,172.2 532.4,172.2 532.6,172.2 532.9,172.1 533.2,172.0 533.5,171.9 533.8,171.8 534.0,171.5 534.1,171.2 534.2,170.8 534.3,170.4 534.3,170.0 534.4,169.5 534.4,168.8 534.5,168.0 534.5,167.0 534.6,165.9 534.6,164.5 534.7,163.0 534.8,161.4 534.8,159.6 534.9,157.8 534.9,156.1 535.0,154.4 535.0,153.0 535.1,151.9 535.2,151.2 535.3,152.1 535.4,153.3 535.4,154.7 535.5,156.4 535.5,158.1 535.6,159.9 535.7,161.5 535.7,163.1 535.8,164.5 535.8,165.7 535.9,166.8 535.9,167.7 536.0,168.4 536.0,169.0 536.1,169.4 536.2,169.7 536.3,170.1 536.6,170.0 536.7,169.7 536.7,169.4 536.8,169.0 536.8,168.5 536.9,167.9 536.9,167.0 537.0,165.8 537.1,164.3 537.1,162.5 537.2,160.2 537.2,157.4 537.3,154.1 537.3,150.3 537.4,146.0 537.4,141.3 537.5,136.3 537.6,131.1 537.6,125.9 537.7,121.1 537.7,116.8 537.8,113.4 537.8,111.2 537.9,110.3 538.0,111.0 538.0,113.0 538.1,116.3 538.1,120.4 538.2,125.2 538.2,130.4 538.3,135.6 538.3,140.7 538.4,145.5 538.5,149.9 538.5,153.7 538.6,157.1 538.6,160.0 538.7,162.4 538.7,164.3 538.8,165.8 538.8,167.1 538.9,168.0 539.0,168.7 539.0,169.3 539.1,169.7 539.1,170.0 539.2,170.3 539.3,170.7 539.4,170.9 539.6,171.2 539.9,171.5 540.1,171.7 540.4,171.8 540.7,171.9 541.0,171.9 541.3,171.9 541.5,171.9 541.8,171.9 542.1,171.8 542.4,171.8 542.7,171.6 542.9,171.4 543.2,171.1 543.4,170.9 543.6,170.5 543.7,170.1 543.7,169.8 543.8,169.5 543.8,169.1 543.9,168.5 543.9,167.8 544.0,166.9 544.1,165.7 544.1,164.2 544.2,162.2 544.2,159.8 544.3,156.9 544.3,153.4 544.4,149.2 544.4,144.5 544.5,139.3 544.6,133.6 544.6,127.5 544.7,121.4 544.7,115.4 544.8,109.8 544.8,105.0 544.9,101.3 545.0,99.1 545.0,98.4 545.1,99.5 545.1,102.2 545.2,106.3 545.2,111.3 545.3,117.1 545.3,123.1 545.4,129.2 545.5,135.2 545.5,140.8 545.6,145.9 545.6,150.4 545.7,154.3 545.7,157.7 545.8,160.4 545.8,162.7 545.9,164.4 546.0,165.8 546.0,166.9 546.1,167.6 546.1,168.2 546.2,168.6 546.3,168.9 546.5,168.5 546.6,168.2 546.6,168.0 546.7,167.7 546.7,167.4 546.8,167.1 546.9,166.7 547.1,167.1 547.2,167.4 547.2,167.8 547.3,168.2 547.4,168.7 547.4,169.1 547.5,169.5 547.5,169.9 547.6,170.2 547.6,170.6 547.7,170.8 547.8,171.2 547.9,171.5 548.1,171.8 548.4,172.0 548.6,172.1 548.9,172.2 549.2,172.2 549.5,172.3 549.8,172.3 550.0,172.3 550.3,172.3 550.6,172.3 550.9,172.3 551.2,172.3 551.4,172.4 551.7,172.4 552.0,172.3 552.3,172.3 552.6,172.3 552.8,172.3 553.1,172.3 553.4,172.2 553.7,172.2 554.0,172.1 554.2,172.0 554.5,171.8 554.8,171.5 554.9,171.2 555.0,170.7 555.0,170.4 555.1,170.0 555.1,169.5 555.2,168.8 555.3,168.0 555.3,166.9 555.4,165.7 555.4,164.2 555.5,162.4 555.5,160.4 555.6,158.2 555.6,155.8 555.7,153.2 555.8,150.6 555.8,148.1 555.9,145.7 555.9,143.6 556.0,142.0 556.0,140.9 556.1,140.5 556.2,140.8 556.2,141.8 556.3,143.3 556.3,145.4 556.4,147.7 556.4,150.3 556.5,152.9 556.5,155.4 556.6,157.8 556.7,160.1 556.7,162.1 556.8,163.9 556.8,165.4 556.9,166.7 556.9,167.8 557.0,168.7 557.0,169.3 557.1,169.9 557.2,170.3 557.2,170.6 557.3,170.9 557.4,171.2 557.6,171.5 557.8,171.7 558.1,171.8 558.4,171.8 558.7,171.7 558.9,171.4 559.0,171.0 559.1,170.7 559.1,170.4 559.2,169.9 559.2,169.4 559.3,168.7 559.3,168.0 559.4,167.1 559.5,166.1 559.5,165.0 559.6,163.8 559.6,162.6 559.7,161.3 559.7,160.1 559.8,159.0 559.8,158.1 559.9,157.4 560.0,157.0 560.1,157.8 560.2,158.6 560.2,159.7 560.3,160.8 560.4,162.1 560.4,163.3 560.5,164.5 560.5,165.7 560.6,166.7 560.6,167.7 560.7,168.5 560.7,169.2 560.8,169.8 560.9,170.3 560.9,170.7 561.0,171.0 561.1,171.4 561.2,171.7 561.5,172.0 561.8,172.0 562.0,171.9 562.2,171.6 562.3,171.3 562.4,170.8 562.5,170.5 562.5,170.2 562.6,169.9 562.6,169.6 562.7,169.2 562.8,168.9 562.8,168.7 562.9,168.3 563.2,168.6 563.2,168.8 563.3,169.1 563.3,169.4 563.4,169.8 563.4,170.1 563.5,170.4 563.5,170.7 563.6,171.0 563.7,171.5 563.8,171.8 564.0,172.1 564.3,172.3 564.6,172.4 564.8,172.4 565.1,172.5 565.4,172.5 565.7,172.5 566.0,172.5 566.2,172.5 566.5,172.5 566.8,172.5 567.1,172.5 567.4,172.5 567.6,172.5 567.9,172.5 568.2,172.5 568.5,172.5 568.8,172.6 569.0,172.6 569.3,172.6 569.6,172.6 569.9,172.6 570.2,172.6 570.4,172.6 570.7,172.6 571.0,172.6 571.3,172.6 571.6,172.6 571.8,172.6 572.1,172.6 572.4,172.5 572.7,172.5 573.0,172.5 573.2,172.4 573.5,172.1 573.7,171.8 574.0,171.6 574.3,171.8 574.5,172.1 574.8,172.4 575.1,172.5 575.4,172.5 575.6,172.5 575.9,172.5 576.2,172.5 576.5,172.6 576.8,172.6 577.0,172.6 577.3,172.5 577.6,172.5 577.9,172.5 578.2,172.5 578.4,172.5 578.7,172.5 579.0,172.5 579.3,172.5 579.6,172.5 579.8,172.5 580.1,172.5 580.4,172.5 580.7,172.5 581.0,172.5 581.2,172.4 581.5,172.4 581.8,172.4 582.1,172.3 582.4,172.2 582.6,172.1 582.9,171.8 583.1,171.5 583.2,171.1 583.3,170.8 583.3,170.5 583.4,170.0 583.4,169.5 583.5,168.8 583.5,168.0 583.6,167.0 583.6,165.9 583.7,164.7 583.8,163.3 583.8,161.8 583.9,160.2 583.9,158.6 584.0,157.0 584.0,155.5 584.1,154.1 584.2,153.0 584.2,152.1 584.3,151.7 584.4,151.9 584.4,152.7 584.5,153.8 584.5,155.1 584.6,156.6 584.7,158.2 584.7,159.8 584.8,161.4 584.8,162.9 584.9,164.3 584.9,165.6 585.0,166.7 585.0,167.7 585.1,168.5 585.2,169.3 585.2,169.8 585.3,170.3 585.3,170.7 585.4,171.0 585.5,171.4 585.6,171.7 585.8,172.0 586.1,172.1 586.4,172.2 586.7,172.3 587.0,172.3 587.2,172.3 587.5,172.3 587.8,172.1 588.0,171.8 588.1,171.5 588.2,171.1 588.3,170.6 588.4,170.3 588.4,170.0 588.5,169.7 588.5,169.4 588.6,169.1 588.7,168.7 589.0,168.9 589.1,169.4 589.1,169.7 589.2,170.0 589.2,170.3 589.3,170.6 589.4,170.8 589.5,171.3 589.6,171.7 589.7,171.9 589.9,172.2 590.2,172.4 590.5,172.4 590.8,172.4 591.0,172.4 591.3,172.4 591.6,172.4 591.9,172.4 592.2,172.4 592.4,172.3 592.7,172.3 593.0,172.1 593.2,171.8 593.3,171.5 593.4,171.1 593.5,170.8 593.6,170.4 593.6,170.0 593.7,169.5 593.7,169.0 593.8,168.4 593.8,167.8 593.9,167.2 594.0,166.6 594.0,166.0 594.1,165.4 594.1,164.9 594.2,164.5 594.2,164.2 594.5,164.7 594.5,165.2 594.6,165.7 594.6,166.3 594.7,166.9 594.7,167.6 594.8,168.2 594.8,168.8 594.9,169.3 595.0,169.8 595.0,170.2 595.1,170.6 595.1,170.9 595.2,171.2 595.3,171.6 595.4,171.9 595.6,172.1 595.9,172.2 596.2,172.3 596.5,172.3 596.8,172.3 597.0,172.3 597.3,172.3 597.6,172.3 597.9,172.2 598.2,172.1 598.4,172.0 598.7,171.7 598.9,171.3 599.0,170.9 599.0,170.5 599.1,170.2 599.2,169.7 599.2,169.1 599.3,168.5 599.3,167.7 599.4,166.9 599.4,165.9 599.5,164.9 599.6,163.8 599.6,162.7 599.7,161.6 599.7,160.5 599.8,159.5 599.8,158.7 599.9,158.1 599.9,157.6 600.1,158.0 600.2,158.7 600.2,159.5 600.3,160.4 600.3,161.5 600.4,162.6 600.4,163.7 600.5,164.7 600.6,165.7 600.6,166.7 600.7,167.5 600.7,168.2 600.8,168.9 600.8,169.4 600.9,169.8 601.0,170.2 601.0,170.5 601.1,170.9 601.3,171.2 601.6,171.1 601.7,170.8 601.8,170.3 601.9,170.0 602.0,169.6 602.0,169.1 602.1,168.4 602.1,167.7 602.2,166.7 602.2,165.6 602.3,164.3 602.4,162.9 602.4,161.2 602.5,159.4 602.5,157.5 602.6,155.5 602.6,153.4 602.7,151.4 602.7,149.5 602.8,147.8 602.9,146.4 602.9,145.4 603.0,144.9 603.1,145.3 603.1,146.3 603.2,147.6 603.2,149.3 603.3,151.1 603.4,153.1 603.4,155.2 603.5,157.2 603.5,159.1 603.6,161.0 603.6,162.6 603.7,164.1 603.8,165.5 603.8,166.6 603.9,167.6 603.9,168.4 604.0,169.0 604.0,169.6 604.1,170.0 604.1,170.3 604.2,170.6 604.3,171.0 604.5,171.3 604.8,171.4 605.0,171.4 605.3,171.1 605.4,170.8 605.5,170.3 605.6,170.0 605.7,169.6 605.7,169.0 605.8,168.4 605.8,167.7 605.9,166.8 605.9,165.8 606.0,164.7 606.0,163.5 606.1,162.1 606.2,160.7 606.2,159.3 606.3,157.9 606.3,156.6 606.4,155.4 606.4,154.3 606.5,153.5 606.6,153.1 606.7,153.7 606.8,154.6 606.8,155.6 606.9,156.9 606.9,158.2 607.0,159.6 607.1,161.0 607.1,162.4 607.2,163.7 607.2,164.9 607.3,165.9 607.3,166.8 607.4,167.7 607.4,168.3 607.5,168.9 607.6,169.3 607.6,169.7 607.7,170.1 608.0,169.8 608.0,169.5 608.1,169.1 608.1,168.6 608.2,168.0 608.2,167.3 608.3,166.4 608.3,165.4 608.4,164.3 608.5,163.1 608.5,161.8 608.6,160.4 608.6,159.0 608.7,157.7 608.7,156.4 608.8,155.2 608.8,154.2 608.9,153.5 609.0,153.1 609.1,153.9 609.2,154.8 609.2,155.9 609.3,157.2 609.4,158.6 609.4,160.0 609.5,161.4 609.5,162.8 609.6,164.1 609.6,165.2 609.7,166.3 609.7,167.3 609.8,168.1 609.9,168.8 609.9,169.4 610.0,169.9 610.0,170.3 610.1,170.6 610.1,170.9 610.2,171.3 610.4,171.6 610.7,171.8 611.0,171.9 611.3,172.0 611.5,172.0 611.8,171.9 612.1,171.9 612.4,171.8 612.7,171.6 612.9,171.3 613.0,170.9 613.2,170.5 613.2,170.2 613.3,169.8 613.3,169.3 613.4,168.6 613.4,167.9 613.5,166.9 613.6,165.8 613.6,164.5 613.7,162.9 613.7,161.1 613.8,159.2 613.8,157.0 613.9,154.6 613.9,152.1 614.0,149.6 614.1,147.1 614.1,144.6 614.2,142.4 614.2,140.4 614.3,138.9 614.3,137.9 614.4,137.5 614.5,138.6 614.6,139.9 614.6,141.8 614.7,144.0 614.7,146.4 614.8,148.9 614.8,151.4 614.9,153.9 615.0,156.3 615.0,158.6 615.1,160.6 615.1,162.5 615.2,164.1 615.2,165.5 615.3,166.7 615.3,167.7 615.4,168.5 615.5,169.1 615.5,169.7 615.6,170.1 615.6,170.5 615.7,170.7 615.8,171.1 615.9,171.4 616.1,171.7 616.4,171.9 616.7,172.0 617.0,172.1 617.2,172.2 617.5,172.3 617.8,172.3 618.1,172.3 618.4,172.3 618.6,172.3 618.9,172.3 619.2,172.1 619.5,171.8 619.7,171.6 619.9,171.3 620.2,171.3 620.4,171.6 620.6,171.9 620.8,172.2 621.1,172.4 621.3,172.4 621.6,172.4 621.9,172.4 622.2,172.5 622.5,172.5 622.7,172.4 623.0,172.4 623.3,172.4 623.6,172.4 623.9,172.4 624.1,172.4 624.4,172.3 624.7,172.3 625.0,172.2 625.3,172.0 625.5,171.7 625.6,171.4 625.7,170.8 625.8,170.5 625.8,170.1 625.9,169.6 625.9,169.1 626.0,168.4 626.0,167.7 626.1,166.9 626.2,166.1 626.2,165.1 626.3,164.2 626.3,163.2 626.4,162.3 626.4,161.4 626.5,160.6 626.5,159.9 626.6,159.4 626.7,159.1 626.8,159.6 626.9,160.2 626.9,160.9 627.0,161.7 627.0,162.7 627.1,163.6 627.2,164.6 627.2,165.5 627.3,166.4 627.3,167.3 627.4,168.0 627.4,168.7 627.5,169.3 627.6,169.8 627.6,170.3 627.7,170.6 627.7,170.9 627.8,171.2 627.9,171.6 628.1,171.9 628.3,172.1 628.6,172.1 628.9,172.0 629.1,171.6 629.3,171.2 629.4,170.9 629.5,170.6 629.7,170.3 630.0,170.4 630.1,170.8 630.2,171.1 630.4,171.4 630.5,171.7 630.6,172.0 630.9,172.3 631.2,172.4 631.5,172.4 631.8,172.4 632.0,172.4 632.3,172.4 632.6,172.4 632.9,172.4 633.2,172.2 633.4,171.9 633.5,171.7 633.7,171.4 633.9,171.1 634.2,171.2 634.4,171.5 634.6,171.8 634.8,172.1 635.1,172.3 635.3,172.4 635.6,172.4 635.9,172.4 636.2,172.4 636.5,172.4 636.7,172.3 637.0,172.3 637.3,172.2 637.6,172.0 637.8,171.7 637.9,171.3 638.0,170.8 638.1,170.5 638.1,170.2 638.2,169.7 638.2,169.2 638.3,168.6 638.4,168.0 638.4,167.3 638.5,166.6 638.5,165.8 638.6,165.0 638.6,164.2 638.7,163.4 638.8,162.7 638.8,162.1 638.9,161.6 638.9,161.2 639.1,161.6 639.2,162.1 639.3,162.8 639.3,163.5 639.4,164.2 639.4,165.0 639.5,165.8 639.5,166.6 639.6,167.3 639.6,168.0 639.7,168.6 639.8,169.2 639.8,169.7 639.9,170.1 639.9,170.4 640.0,170.7 640.1,171.2 640.2,171.5 640.4,171.7 640.7,171.8 641.0,171.7 641.2,171.5 641.3,171.2 641.4,170.8 641.5,170.5 641.6,170.2 641.6,169.7 641.7,169.2 641.7,168.6 641.8,167.9 641.8,167.1 641.9,166.2 641.9,165.2 642.0,164.0 642.1,162.8 642.1,161.6 642.2,160.2 642.2,158.9 642.3,157.6 642.3,156.4 642.4,155.3 642.4,154.5 642.5,153.8 642.6,153.4 642.7,154.1 642.8,154.9 642.8,155.9 642.9,157.1 643.0,158.3 643.0,159.6 643.1,160.9 643.1,162.2 643.2,163.4 643.2,164.6 643.3,165.6 643.3,166.6 643.4,167.4 643.5,168.1 643.5,168.8 643.6,169.3 643.6,169.7 643.7,170.0 643.8,170.4 644.1,170.2 644.2,169.7 644.2,169.3 644.3,168.9 644.4,168.5 644.4,168.0 644.5,167.4 644.5,166.8 644.6,166.2 644.6,165.6 644.7,165.1 644.7,164.5 644.8,164.0 644.9,163.6 644.9,163.4 645.2,163.9 645.2,164.4 645.3,164.9 645.4,165.5 645.4,166.1 645.5,166.6 645.5,167.2 645.6,167.7 645.6,168.1 645.7,168.5 645.8,168.8 645.9,169.1 646.1,168.6 646.1,168.2 646.2,167.8 646.3,167.4 646.3,166.9 646.4,166.3 646.4,165.7 646.5,165.2 646.5,164.7 646.6,164.2 646.6,163.8 646.7,163.5 647.0,164.1 647.0,164.6 647.1,165.1 647.2,165.7 647.2,166.4 647.3,167.0 647.3,167.6 647.4,168.2 647.4,168.7 647.5,169.2 647.5,169.7 647.6,170.1 647.7,170.5 647.7,170.8 647.8,171.0 647.9,171.5 648.0,171.7 648.2,172.0 648.4,172.2 648.7,172.3 649.0,172.3 649.3,172.3 649.6,172.4 649.8,172.4 650.1,172.4 650.4,172.3 650.7,172.2 651.0,171.9 651.1,171.6 651.2,171.2 651.4,170.8 651.4,170.5 651.5,170.2 651.5,170.0 651.6,169.7 651.6,169.4 651.7,169.1 651.7,168.8 651.9,168.4 652.1,168.4 652.2,168.8 652.3,169.1 652.4,169.3 652.4,169.6 652.5,169.9 652.5,170.2 652.6,170.5 652.6,170.7 652.8,171.2 652.9,171.6 653.0,171.8 653.1,172.1 653.4,172.3 653.7,172.3 654.0,172.3 654.3,172.1 654.4,171.8 654.5,171.5 654.7,171.2 654.8,170.7 654.8,170.4 654.9,170.2 654.9,169.9 655.0,169.6 655.0,169.3 655.1,169.0 655.2,168.8 655.3,168.4 655.6,168.5 655.7,168.9 655.7,169.2 655.8,169.4 655.8,169.7 655.9,170.0 655.9,170.3 656.0,170.6 656.1,170.8 656.2,171.3 656.3,171.6 656.4,171.9 656.6,172.1 656.8,172.3 657.1,172.4 657.4,172.4 657.7,172.4 658.0,172.3 658.2,172.0 658.4,171.8 658.6,171.5 658.7,171.1 659.0,170.9 659.3,171.2 659.5,171.5 659.6,171.8 659.9,172.2 660.1,172.3 660.4,172.4 660.7,172.3 661.0,172.2 661.2,171.8 661.3,171.6 661.4,171.3 661.5,170.9 661.7,170.6 661.8,170.3 661.9,170.0 662.2,170.2 662.3,170.5 662.4,170.9 662.6,171.2 662.7,171.5 662.8,171.8 662.9,172.1 663.2,172.3 663.5,172.4 663.8,172.5 664.1,172.5 664.3,172.5 664.6,172.5 664.9,172.4 665.2,172.1 665.4,171.8 665.6,171.5 665.7,171.3 666.0,171.0 666.3,171.3 666.5,171.6 666.6,171.9 666.9,172.2 667.1,172.4 667.4,172.5 667.7,172.5 668.0,172.5 668.3,172.4 668.5,172.3 668.8,172.0 669.0,171.6 669.1,171.3 669.2,170.9 669.3,170.4 669.4,170.0 669.6,169.5 669.7,169.2 669.9,169.2 670.1,169.6 670.2,170.0 670.3,170.5 670.4,170.9 670.5,171.3 670.6,171.6 670.7,171.9 670.9,172.2 671.2,172.4 671.5,172.4 671.7,172.5 672.0,172.5 672.3,172.5 672.6,172.5 672.9,172.4 673.1,172.1 673.4,171.8 673.5,171.5 673.7,171.1 673.9,170.8 674.1,170.9 674.3,171.1 674.5,171.5 674.6,171.8 674.8,172.1 675.1,172.4 675.4,172.5 675.7,172.5 675.9,172.5 676.2,172.5 676.5,172.5 676.8,172.5 677.1,172.5 677.3,172.5 677.6,172.4 677.9,172.3 678.1,172.0 678.3,171.6 678.4,171.3 678.5,171.0 678.6,170.7 678.7,170.4 678.9,170.0 679.2,170.2 679.3,170.4 679.4,170.8 679.5,171.1 679.6,171.4 679.7,171.7" fill="none" stroke="#111" stroke-width="0.5" />
<path d="M438.5 175.2V178.9M452.4 175.2V178.9M457.5 175.2V178.9M470.9 175.2V178.9M489.6 175.2V178.9M492.4 175.2V178.9M501.3 175.2V178.9M504.5 175.2V178.9M511.5 175.2V178.9M513.3 175.2V178.9M519.2 175.2V178.9M521.8 175.2V178.9M526.3 175.2V178.9M530.0 175.2V178.9M535.3 175.2V178.9M537.5 175.2V178.9M541.7 175.2V178.9M543.5 175.2V178.9M545.8 175.2V178.9M555.5 175.2V178.9M557.0 175.2V178.9M559.3 175.2V178.9M563.0 175.2V178.9M570.6 175.2V178.9M575.5 175.2V178.9M584.5 175.2V178.9M585.7 175.2V178.9M587.6 175.2V178.9M589.3 175.2V178.9M594.9 175.2V178.9M600.5 175.2V178.9M602.9 175.2V178.9M606.4 175.2V178.9M608.6 175.2V178.9M610.6 175.2V178.9M614.7 175.2V178.9M616.0 175.2V178.9M618.2 175.2V178.9M620.0 175.2V178.9M622.1 175.2V178.9M624.5 175.2V178.9M627.9 175.2V178.9M630.1 175.2V178.9M632.4 175.2V178.9M634.8 175.2V178.9M636.2 175.2V178.9M638.5 175.2V178.9M641.1 175.2V178.9M644.2 175.2V178.9M645.3 175.2V178.9M647.0 175.2V178.9M648.2 175.2V178.9M651.3 175.2V178.9M654.0 175.2V178.9M655.1 175.2V178.9M658.6 175.2V178.9M662.1 175.2V178.9M664.8 175.2V178.9M667.3 175.2V178.9M668.7 175.2V178.9M669.6 175.2V178.9M671.9 175.2V178.9M673.0 175.2V178.9M674.4 175.2V178.9M676.0 175.2V178.9M676.9 175.2V178.9" stroke="#7070ff" stroke-width="0.9" opacity="0.85"/>
<path d="M438.7 179.9V183.7M452.5 179.9V183.7M457.6 179.9V183.7M470.8 179.9V183.7M504.4 179.9V183.7M511.4 179.9V183.7M513.5 179.9V183.7M519.4 179.9V183.7M522.1 179.9V183.7M529.8 179.9V183.7M537.8 179.9V183.7M541.4 179.9V183.7M543.7 179.9V183.7M545.6 179.9V183.7M555.8 179.9V183.7M556.8 179.9V183.7M559.1 179.9V183.7M563.2 179.9V183.7M570.6 179.9V183.7M575.3 179.9V183.7M584.3 179.9V183.7M585.5 179.9V183.7M587.4 179.9V183.7M589.6 179.9V183.7M600.7 179.9V183.7M602.8 179.9V183.7M608.4 179.9V183.7M614.6 179.9V183.7M615.9 179.9V183.7M617.9 179.9V183.7M620.0 179.9V183.7M622.2 179.9V183.7M624.5 179.9V183.7M630.1 179.9V183.7M634.6 179.9V183.7M640.9 179.9V183.7M644.4 179.9V183.7M645.6 179.9V183.7M648.1 179.9V183.7M651.0 179.9V183.7M655.2 179.9V183.7M658.8 179.9V183.7M662.0 179.9V183.7M664.9 179.9V183.7M667.2 179.9V183.7M668.9 179.9V183.7M669.5 179.9V183.7M672.7 179.9V183.7M674.4 179.9V183.7M675.8 179.9V183.7M677.0 179.9V183.7" stroke="#ff7a7a" stroke-width="0.9" opacity="0.85"/>
<path d="M430.4 184.7V188.6M449.5 184.7V188.6M471.5 184.7V188.6M474.4 184.7V188.6M476.4 184.7V188.6M483.0 184.7V188.6M495.5 184.7V188.6M505.7 184.7V188.6M509.6 184.7V188.6M511.5 184.7V188.6M514.0 184.7V188.6M516.3 184.7V188.6M517.3 184.7V188.6M522.6 184.7V188.6M528.9 184.7V188.6M529.8 184.7V188.6M536.2 184.7V188.6M538.4 184.7V188.6M541.7 184.7V188.6M545.7 184.7V188.6M550.8 184.7V188.6M556.5 184.7V188.6M557.2 184.7V188.6M559.3 184.7V188.6M560.2 184.7V188.6M563.8 184.7V188.6M567.1 184.7V188.6M569.3 184.7V188.6M569.9 184.7V188.6M570.6 184.7V188.6M573.6 184.7V188.6M574.5 184.7V188.6M575.3 184.7V188.6M579.0 184.7V188.6M579.9 184.7V188.6M580.6 184.7V188.6M584.1 184.7V188.6M586.5 184.7V188.6M587.3 184.7V188.6M588.1 184.7V188.6M591.3 184.7V188.6M593.8 184.7V188.6M596.8 184.7V188.6M597.6 184.7V188.6M600.6 184.7V188.6M601.2 184.7V188.6M605.4 184.7V188.6M608.5 184.7V188.6M609.5 184.7V188.6M610.1 184.7V188.6M612.8 184.7V188.6M617.3 184.7V188.6M618.2 184.7V188.6M621.1 184.7V188.6M624.0 184.7V188.6M624.8 184.7V188.6M625.5 184.7V188.6M629.9 184.7V188.6M630.6 184.7V188.6M631.5 184.7V188.6M632.2 184.7V188.6M635.6 184.7V188.6M636.5 184.7V188.6M637.2 184.7V188.6M639.2 184.7V188.6M639.9 184.7V188.6M643.2 184.7V188.6M643.9 184.7V188.6M644.6 184.7V188.6M647.5 184.7V188.6M648.1 184.7V188.6M648.9 184.7V188.6M649.8 184.7V188.6M651.7 184.7V188.6M652.4 184.7V188.6M654.5 184.7V188.6M657.3 184.7V188.6M659.5 184.7V188.6M660.3 184.7V188.6M661.3 184.7V188.6M664.7 184.7V188.6M665.5 184.7V188.6M668.8 184.7V188.6M671.8 184.7V188.6M672.5 184.7V188.6M673.2 184.7V188.6M674.1 184.7V188.6M676.6 184.7V188.6M677.4 184.7V188.6M678.2 184.7V188.6" stroke="#36d836" stroke-width="0.9" opacity="0.85"/>
<path d="M414.6 208.1 415.3 208.1 416.0 208.2 416.7 208.0 417.4 208.2 418.1 208.0 418.8 208.3 419.5 208.2 420.2 208.3 420.9 208.2 421.6 208.2 422.3 208.2 423.0 208.1 423.7 208.2 424.4 208.1 425.1 208.2 425.8 208.2 426.5 208.2 427.2 208.2 427.9 208.4 428.6 208.2 429.3 208.2 430.0 208.2 430.7 208.2 431.4 208.2 432.1 208.2 432.8 208.3 433.5 208.2 434.2 208.2 434.9 208.2 435.6 208.3 436.3 208.2 437.0 208.2 437.7 208.4 438.4 208.1 439.1 208.2 439.8 208.2 440.5 208.4 441.2 208.1 441.9 208.0 442.6 208.2 443.3 208.2 444.0 208.2 444.7 208.2 445.4 208.2 446.1 208.2 446.8 208.2 447.5 208.3 448.2 208.3 448.9 208.2 449.6 208.2 450.3 208.3 451.0 208.2 451.7 208.1 452.4 208.2 453.1 208.3 453.8 208.2 454.5 208.2 455.2 208.2 455.9 208.2 456.6 208.2 457.3 208.1 458.0 208.3 458.7 208.2 459.4 208.1 460.1 208.3 460.8 208.2 461.5 208.2 462.2 208.3 462.9 208.4 463.6 208.2 464.3 208.3 465.0 208.4 465.7 208.1 466.4 208.2 467.1 208.3 467.8 208.1 468.5 208.2 469.2 208.3 469.9 208.3 470.6 208.2 471.3 208.1 472.0 208.4 472.7 208.2 473.4 208.3 474.1 208.2 474.8 208.1 475.5 208.1 476.2 208.1 476.9 208.3 477.6 208.1 478.3 208.2 479.0 208.2 479.7 208.2 480.4 208.2 481.1 208.2 481.8 208.1 482.5 208.0 483.2 208.2 483.9 208.2 484.6 208.3 485.3 208.2 486.0 208.2 486.7 208.2 487.4 208.1 488.1 208.1 488.8 208.1 489.5 208.2 490.2 208.3 490.9 208.3 491.6 208.3 492.3 208.2 493.0 208.2 493.7 208.2 494.4 208.2 495.1 208.0 495.8 208.1 496.5 208.1 497.2 208.3 497.9 208.2 498.6 208.3 499.3 208.3 500.0 208.2 500.7 208.3 501.4 208.3 502.1 208.2 502.8 208.3 503.5 208.2 504.2 208.1 504.9 208.2 505.6 208.1 506.3 208.2 507.0 208.2 507.7 208.2 508.4 208.1 509.1 208.3 509.8 208.3 510.5 208.2 511.2 208.1 511.9 208.2 512.6 208.2 513.3 208.2 514.0 208.2 514.7 208.1 515.4 208.1 516.1 208.3 516.8 208.2 517.5 208.1 518.2 208.1 518.9 208.1 519.6 208.1 520.3 208.3 521.0 208.2 521.7 208.3 522.4 208.2 523.1 208.1 523.8 208.2 524.5 208.4 525.2 208.1 525.9 208.1 526.6 208.3 527.3 208.2 528.0 208.2 528.7 208.3 529.4 208.1 530.1 208.2 530.8 208.1 531.5 208.1 532.2 208.1 532.9 208.3 533.6 208.2 534.3 208.1 535.0 208.1 535.7 208.3 536.4 208.3 537.1 208.1 537.8 208.4 538.5 208.2 539.2 208.1 539.9 208.2 540.6 208.3 541.3 208.3 542.0 208.3 542.7 208.2 543.4 208.2 544.1 208.1 544.8 208.2 545.5 208.2 546.2 208.2 546.9 208.1 547.6 208.2 548.3 208.1 549.0 208.1 549.7 208.1 550.4 208.1 551.1 208.1 551.8 208.2 552.5 208.2 553.2 208.1 553.9 208.2 554.6 208.2 555.3 208.3 556.0 208.2 556.7 208.2 557.4 208.2 558.1 208.2 558.8 208.2 559.5 208.2 560.2 208.2 560.9 208.2 561.6 208.2 562.3 208.2 563.0 208.1 563.7 208.2 564.4 208.1 565.1 208.1 565.8 208.2 566.5 208.4 567.2 208.3 567.9 208.2 568.6 208.2 569.3 208.3 570.0 208.3 570.7 208.3 571.4 208.2 572.1 208.2 572.8 208.2 573.5 208.2 574.2 208.1 574.9 208.2 575.6 208.0 576.3 208.1 577.0 208.2 577.7 208.1 578.4 208.2 579.1 208.1 579.8 208.2 580.5 208.2 581.2 208.1 581.9 208.1 582.6 208.4 583.3 208.2 584.0 208.1 584.7 208.2 585.4 208.2 586.1 208.2 586.8 208.3 587.5 208.3 588.2 208.2 588.9 208.2 589.6 208.1 590.3 208.1 591.0 208.1 591.7 208.3 592.4 208.2 593.1 208.3 593.8 208.3 594.5 208.2 595.2 208.4 595.9 208.2 596.6 208.2 597.3 208.2 598.0 208.3 598.7 208.2 599.4 208.1 600.1 208.2 600.8 208.3 601.5 208.2 602.2 208.2 602.9 208.3 603.6 208.3 604.3 208.3 605.0 208.1 605.7 208.2 606.4 208.2 607.1 208.1 607.8 208.3 608.5 208.2 609.2 208.2 609.9 208.4 610.6 208.2 611.3 208.1 612.0 208.2 612.7 208.2 613.4 208.3 614.1 208.2 614.8 208.1 615.5 208.2 616.2 208.1 616.9 208.1 617.6 208.2 618.3 208.2 619.0 208.2 619.7 208.1 620.4 208.1 621.1 208.2 621.8 208.2 622.5 208.3 623.2 208.1 623.9 208.2 624.6 208.2 625.3 208.1 626.0 208.3 626.7 208.2 627.4 208.1 628.1 208.2 628.8 208.3 629.5 208.1 630.2 208.3 630.9 208.2 631.6 208.1 632.3 208.2 633.0 208.2 633.7 208.1 634.4 208.0 635.1 208.2 635.8 208.1 636.5 208.2 637.2 208.2 637.9 208.2 638.6 208.2 639.3 208.3 640.0 208.3 640.7 208.3 641.4 208.2 642.1 208.1 642.8 208.2 643.5 208.3 644.2 208.2 644.9 208.2 645.6 208.1 646.3 208.2 647.0 208.1 647.7 208.2 648.4 208.3 649.1 208.3 649.8 208.2 650.5 208.2 651.2 208.2 651.9 208.3 652.6 208.2 653.3 208.1 654.0 208.3 654.7 208.2 655.4 208.4 656.1 208.2 656.8 208.2 657.5 208.2 658.2 208.2 658.9 208.2 659.6 208.1 660.3 208.1 661.0 208.2 661.7 208.2 662.4 208.2 663.1 208.4 663.8 208.3 664.5 208.3 665.2 208.2 665.9 208.2 666.6 208.2 667.3 208.2 668.0 208.3 668.7 208.2 669.4 208.2 670.1 208.2 670.8 208.1 671.5 208.1 672.2 208.2 672.9 208.2 673.6 208.1 674.3 208.2 675.0 208.1 675.7 208.2 676.4 208.3 677.1 208.2 677.8 208.3 678.5 208.2 679.2 208.3M438.4 204.9V212.8M452.3 206.5V210.0M490.0 207.4V208.7M504.7 204.5V213.2M511.3 189.0V219.1M513.3 203.0V214.0M519.6 205.5V212.0M526.6 206.0V213.5M535.1 202.9V209.2M538.1 202.5V209.7M544.6 203.0V209.7M556.2 205.7V208.7M559.3 206.7V208.7M583.8 207.9V209.7M595.0 207.2V208.5M600.2 204.4V208.7M603.2 206.2V209.0M606.3 206.4V208.8M609.4 206.7V209.0M614.5 204.9V208.8M626.7 207.2V208.5M639.0 206.7V208.7M642.1 207.0V208.7M669.7 207.6V208.8" fill="none" stroke="#2a3cff" stroke-width="0.75"/>
</g>
<g clip-path="url(#clipD)">
<polyline points="413.7,460.0 414.3,460.3 414.9,460.0 415.2,460.6 415.3,459.8 415.6,460.9 415.8,460.3 416.1,459.7 416.4,460.5 417.0,460.7 417.6,460.7 418.2,460.9 418.3,461.5 418.5,460.7 418.8,459.7 418.9,461.0 419.1,462.0 419.2,460.5 419.5,461.6 419.8,460.6 420.0,461.5 420.1,460.6 420.3,461.4 420.9,461.2 421.3,462.0 421.8,460.6 421.9,461.4 422.4,462.0 422.5,461.4 423.1,461.5 423.3,462.6 423.4,461.8 424.0,461.8 424.2,462.4 424.8,462.0 425.4,462.1 426.0,462.4 426.6,462.3 426.9,461.6 427.0,462.4 427.6,461.6 427.9,462.7 428.5,462.0 429.1,461.8 429.6,462.4 429.7,461.7 430.0,460.8 430.6,459.4 430.8,458.6 430.9,456.3 431.1,453.5 431.2,450.1 431.4,445.3 431.5,439.4 431.7,434.4 431.8,429.5 432.3,433.7 432.4,438.9 432.6,444.8 432.7,449.9 432.9,453.4 433.0,455.9 433.2,458.3 433.5,459.6 433.8,460.6 434.1,460.0 434.4,459.2 434.8,457.4 435.0,456.4 435.1,452.7 435.3,447.7 435.4,439.9 435.6,431.9 435.7,419.7 435.9,408.3 436.0,397.6 436.2,390.4 436.3,386.3 436.5,393.6 436.6,403.7 436.8,416.0 436.9,428.1 437.1,437.5 437.2,444.6 437.4,450.8 437.5,454.4 437.7,456.4 437.8,458.7 438.1,459.6 438.3,460.4 438.9,460.2 439.0,460.9 439.5,459.8 439.6,460.5 439.8,460.0 440.1,459.3 440.5,456.3 440.7,453.5 440.8,449.4 441.0,443.1 441.1,433.9 441.3,423.1 441.4,411.6 441.6,400.7 441.7,392.5 442.0,394.8 442.2,400.9 442.3,410.8 442.5,424.5 442.6,434.5 442.8,442.5 442.9,449.0 443.1,454.0 443.2,456.4 443.4,457.9 443.5,459.4 443.7,460.3 444.0,461.4 444.1,460.4 444.3,461.0 444.6,460.4 444.7,461.4 445.0,460.8 445.2,461.5 445.6,460.7 445.8,461.3 446.2,460.6 446.7,460.0 446.8,458.4 447.0,456.8 447.1,454.1 447.3,451.3 447.4,447.1 447.6,440.8 447.7,437.7 447.9,431.6 448.2,430.6 448.3,433.5 448.5,439.0 448.6,442.3 448.8,447.8 448.9,451.6 449.1,455.8 449.2,457.1 449.4,459.8 449.7,460.8 450.0,461.5 450.1,462.2 450.6,461.2 450.7,461.9 451.2,461.3 451.6,459.2 451.9,460.0 452.1,459.3 452.2,460.3 452.5,460.8 452.7,461.6 452.8,462.3 453.4,462.9 453.6,462.1 454.0,462.9 454.6,462.6 455.2,462.5 455.4,462.0 455.7,462.7 456.0,461.9 456.1,462.9 456.3,461.7 456.4,462.8 456.6,462.2 457.0,461.4 457.2,462.3 457.3,461.4 457.8,460.1 458.1,459.3 458.4,458.3 458.7,459.3 458.8,459.8 459.1,460.6 459.3,461.6 459.7,462.2 460.3,461.9 460.5,462.5 460.8,461.8 461.1,461.3 461.2,462.0 461.4,461.4 461.7,460.2 462.3,460.8 462.7,461.8 463.3,461.7 463.5,461.1 463.6,461.9 464.2,461.9 464.4,460.7 464.7,459.8 464.8,459.0 465.0,457.5 465.1,455.9 465.3,451.9 465.4,447.2 465.6,443.3 465.7,437.2 465.9,429.2 466.0,424.5 466.2,421.0 466.5,423.7 466.6,428.1 466.8,434.6 466.9,440.6 467.1,445.4 467.2,450.8 467.4,454.8 467.5,456.3 467.7,457.2 467.8,458.4 468.0,459.0 468.3,459.9 468.4,459.2 468.7,457.9 468.9,456.5 469.0,454.4 469.2,451.1 469.3,446.1 469.5,439.0 469.6,430.8 469.8,420.1 469.9,408.4 470.1,398.0 470.2,393.0 470.4,387.8 470.5,393.2 470.7,399.7 470.8,408.8 471.0,420.0 471.1,431.2 471.3,438.2 471.4,446.0 471.6,450.9 471.7,455.4 471.9,456.3 472.0,458.3 472.2,459.1 472.5,460.3 473.1,460.9 473.7,460.2 473.8,460.8 474.0,459.9 474.1,458.3 474.4,457.0 474.6,456.1 474.9,455.1 475.3,456.0 475.5,457.2 475.8,458.6 475.9,459.9 476.2,461.0 476.5,461.9 476.7,461.1 477.0,461.8 477.6,461.2 478.0,461.8 478.3,461.2 478.9,460.4 479.5,460.1 480.1,459.2 480.3,458.4 480.4,457.6 480.6,456.3 480.7,454.6 480.9,451.2 481.0,446.9 481.2,440.4 481.3,432.1 481.5,421.5 481.6,409.8 481.8,398.9 481.9,389.3 482.1,384.0 482.2,381.8 482.4,385.0 482.5,392.6 482.7,405.1 482.8,413.8 483.0,423.9 483.1,429.3 483.3,433.0 483.6,428.5 483.7,420.5 483.9,406.0 484.0,390.5 484.2,372.5 484.3,357.8 484.5,345.9 484.6,335.2 484.8,338.2 484.9,350.4 485.1,361.6 485.2,380.1 485.4,400.6 485.5,413.2 485.7,423.6 485.8,435.7 486.0,441.6 486.1,447.2 486.3,449.4 486.4,450.5 486.7,448.1 486.9,445.1 487.0,441.3 487.2,433.8 487.3,421.3 487.5,408.3 487.6,389.4 487.8,368.4 487.9,346.1 488.1,321.3 488.2,310.8 488.4,306.7 488.5,313.3 488.7,323.0 488.8,350.6 489.0,370.8 489.1,392.2 489.3,409.2 489.4,424.2 489.6,436.1 489.7,443.2 489.9,449.2 490.0,452.3 490.2,454.5 490.3,455.9 490.6,457.0 490.9,458.4 491.4,459.6 491.7,458.7 492.0,459.9 492.1,459.3 492.3,458.4 492.6,457.8 492.9,457.0 493.0,455.4 493.2,453.9 493.3,450.9 493.5,446.4 493.6,440.1 493.8,432.2 493.9,422.7 494.1,414.7 494.2,404.9 494.4,396.1 494.5,391.6 494.8,398.4 495.0,407.5 495.1,415.2 495.3,423.6 495.4,431.2 495.6,436.3 495.7,439.0 495.9,440.0 496.0,438.9 496.2,438.0 496.3,434.5 496.5,433.5 496.6,435.0 496.8,436.2 496.9,439.1 497.1,442.8 497.2,447.2 497.4,450.9 497.5,452.9 497.7,455.6 497.8,457.8 498.0,458.6 498.1,459.5 498.4,461.2 499.0,461.5 499.6,462.0 500.2,461.8 500.8,461.5 501.0,462.2 501.6,461.8 501.7,461.2 502.3,461.1 502.5,459.6 503.1,459.3 503.2,460.1 503.7,461.0 503.8,461.9 504.0,460.8 504.1,461.6 504.6,462.2 505.2,462.1 505.8,462.1 505.9,461.5 506.1,462.9 506.2,462.2 506.4,461.6 506.7,462.5 507.0,461.5 507.1,462.1 507.3,461.4 507.6,462.0 507.7,461.2 508.3,461.1 508.5,460.4 508.8,459.6 508.9,458.7 509.1,457.1 509.2,455.2 509.4,450.4 509.5,447.4 509.7,442.4 509.8,437.1 510.0,431.1 510.1,424.5 510.3,420.8 510.4,417.8 510.6,417.1 510.7,420.7 510.9,427.1 511.0,431.9 511.2,438.1 511.3,442.9 511.5,446.6 511.6,450.2 511.8,451.7 511.9,453.0 512.2,452.0 512.5,451.1 513.0,452.0 513.1,453.5 513.3,454.8 513.4,456.6 513.6,457.5 513.9,459.9 514.5,460.8 514.6,460.0 515.1,459.5 515.2,458.5 515.5,457.1 515.7,455.8 515.8,454.8 516.0,451.7 516.1,450.8 516.3,449.0 516.4,447.8 516.6,448.8 516.9,451.4 517.0,452.7 517.2,454.5 517.3,455.5 517.5,457.1 517.6,457.9 517.8,458.5 518.1,459.2 518.2,458.1 518.5,455.9 518.7,454.2 518.8,453.2 519.0,451.8 519.1,448.7 519.3,446.4 519.4,443.8 519.6,441.2 519.7,439.2 519.9,436.8 520.2,433.5 520.3,430.0 520.5,423.6 520.6,417.7 520.8,409.3 520.9,396.3 521.1,387.6 521.2,378.1 521.4,371.7 521.5,374.9 521.7,377.0 521.8,383.6 522.0,395.5 522.1,407.6 522.3,419.3 522.4,427.4 522.6,435.5 522.7,441.4 522.9,444.3 523.0,445.8 523.3,442.6 523.5,437.0 523.6,430.1 523.8,422.3 523.9,411.8 524.1,402.4 524.2,390.8 524.4,384.7 524.5,378.9 524.7,380.7 524.8,384.2 525.0,393.5 525.1,404.2 525.3,413.9 525.4,424.4 525.6,432.7 525.7,439.2 525.9,443.5 526.0,446.0 526.2,449.3 526.5,447.6 526.6,444.5 526.8,440.6 526.9,434.0 527.1,425.0 527.2,410.8 527.4,392.4 527.5,370.7 527.7,351.5 527.8,329.3 528.0,309.3 528.1,292.9 528.3,290.9 528.4,294.3 528.6,306.9 528.7,328.2 528.9,351.6 529.0,372.4 529.2,393.9 529.3,411.3 529.5,423.8 529.6,435.1 529.8,441.2 529.9,446.8 530.1,449.2 530.2,450.8 530.4,451.6 530.7,452.3 531.3,453.1 531.4,455.0 531.7,456.9 532.0,458.3 532.3,459.3 532.8,459.8 533.4,459.9 533.5,459.4 533.7,458.5 534.0,456.8 534.1,456.2 534.3,453.7 534.4,450.5 534.6,448.0 534.7,443.5 534.9,438.7 535.0,433.4 535.2,427.8 535.3,424.9 535.5,420.7 535.6,420.1 535.8,422.2 535.9,426.8 536.1,430.5 536.2,436.0 536.4,440.2 536.5,445.4 536.7,446.5 536.8,447.3 537.0,448.8 537.1,447.5 537.3,446.6 537.4,444.5 537.6,443.2 537.7,441.9 537.9,440.6 538.0,442.4 538.2,443.8 538.3,445.9 538.5,448.3 538.6,450.9 538.8,453.1 538.9,455.4 539.1,457.0 539.2,457.7 539.4,459.6 540.0,460.4 540.6,460.2 540.7,461.4 540.9,460.0 541.2,459.1 541.3,457.7 541.5,456.2 541.6,454.3 541.8,451.5 541.9,449.2 542.1,446.7 542.2,442.3 542.4,440.6 542.5,439.3 542.7,436.9 542.8,438.2 543.0,439.5 543.1,442.8 543.3,445.5 543.4,449.3 543.6,450.9 543.7,452.6 543.9,454.5 544.2,455.6 544.3,454.6 544.5,452.5 544.6,450.1 544.8,446.6 544.9,442.5 545.1,438.4 545.2,435.3 545.4,429.5 545.5,427.4 545.7,426.6 545.8,427.3 546.0,429.8 546.1,434.6 546.3,438.9 546.4,443.4 546.6,447.0 546.7,451.1 546.9,453.1 547.0,455.9 547.2,457.1 547.3,458.8 547.9,458.6 548.4,457.4 549.0,456.1 549.3,457.0 549.6,457.8 549.7,458.7 550.0,460.4 550.6,460.5 551.1,460.0 551.2,459.0 551.4,458.2 551.7,457.4 551.8,455.5 552.0,453.4 552.1,449.5 552.3,446.0 552.4,440.2 552.6,435.4 552.7,426.8 552.9,421.4 553.0,414.1 553.2,409.5 553.6,410.4 553.8,417.6 553.9,424.4 554.1,430.9 554.2,437.4 554.4,442.2 554.5,446.7 554.7,451.1 554.8,452.5 555.0,455.0 555.1,455.6 555.7,455.0 555.9,454.0 556.2,452.0 556.3,451.0 556.6,450.1 556.8,448.7 556.9,447.4 557.4,448.2 557.5,449.2 557.7,450.6 557.8,452.5 558.0,455.4 558.1,456.2 558.3,457.8 558.6,458.5 558.7,459.6 558.9,458.7 559.3,457.8 559.5,456.5 559.9,455.7 560.1,455.1 560.5,456.2 560.7,457.3 560.8,458.2 561.3,459.2 561.6,458.1 561.9,455.2 562.0,453.6 562.2,450.4 562.3,447.6 562.5,443.5 562.6,440.4 562.8,436.4 562.9,433.1 563.1,431.0 563.2,430.0 563.4,433.8 563.7,439.2 563.8,441.4 564.0,445.6 564.1,449.7 564.3,452.5 564.4,453.8 564.6,455.8 564.7,457.1 564.9,458.5 565.5,458.8 565.6,458.1 565.8,457.2 566.1,456.0 566.2,455.3 566.5,454.5 567.1,455.2 567.3,454.3 567.7,453.7 568.0,454.5 568.5,456.4 568.6,457.1 569.1,458.6 569.5,457.4 569.7,456.1 570.0,454.6 570.3,453.3 570.6,452.2 570.9,452.9 571.0,453.4 571.3,456.2 571.5,457.2 571.8,458.0 571.9,458.9 572.1,459.5 572.4,460.2 572.7,460.9 572.8,460.3 573.4,460.0 573.6,458.2 573.7,456.7 573.9,455.6 574.0,453.2 574.2,451.0 574.3,447.7 574.5,446.6 574.6,444.1 574.8,441.9 574.9,440.3 575.2,442.4 575.4,444.1 575.5,446.8 575.7,448.5 575.8,451.9 576.0,453.4 576.1,455.5 576.3,456.6 576.4,458.5 576.6,459.8 576.7,459.0 576.9,460.2 577.2,462.0 577.3,460.1 577.5,461.3 578.1,461.3 578.2,460.2 578.7,458.8 579.1,456.6 579.4,455.8 579.6,453.5 579.7,451.2 580.0,449.6 580.3,446.9 580.6,447.6 581.2,447.7 581.4,447.0 581.7,443.4 581.8,442.0 582.0,438.6 582.1,437.7 582.3,434.1 582.6,432.9 582.9,435.0 583.0,436.7 583.2,438.9 583.3,443.6 583.5,445.1 583.6,447.7 583.8,449.1 583.9,451.2 584.1,452.8 584.2,454.8 584.4,455.5 584.5,456.2 584.7,457.6 585.0,458.2 585.3,457.1 585.7,456.0 586.3,455.1 586.5,456.0 586.6,457.3 586.8,455.2 586.9,456.3 587.1,455.4 587.7,454.8 587.8,453.9 588.1,452.5 588.3,450.9 588.4,447.6 588.6,443.3 588.7,439.5 588.9,433.1 589.0,424.0 589.2,415.9 589.3,404.7 589.5,396.0 589.6,387.5 589.8,379.5 589.9,375.5 590.1,377.0 590.2,382.6 590.4,388.1 590.5,396.8 590.7,406.2 590.8,415.4 591.0,425.1 591.1,433.2 591.3,438.6 591.4,443.8 591.6,447.5 591.7,451.0 591.9,452.7 592.0,454.3 592.3,455.6 592.6,455.0 592.9,454.2 593.1,453.4 593.2,452.8 593.8,453.2 594.0,454.3 594.1,455.2 594.3,456.1 594.4,457.2 594.7,458.9 595.0,458.2 595.2,458.8 595.5,458.0 595.6,456.8 595.9,455.2 596.2,454.6 596.4,454.0 596.5,453.2 597.0,452.4 597.3,454.2 597.7,454.9 597.9,455.8 598.0,456.7 598.5,457.7 598.8,458.9 599.1,459.6 599.2,458.5 599.8,457.5 600.0,456.2 600.1,455.1 600.4,453.5 600.6,452.5 600.9,451.5 601.3,452.5 601.5,450.8 601.8,451.8 602.1,451.2 602.2,450.5 602.5,448.9 602.8,447.5 603.0,445.6 603.1,443.2 603.3,439.7 603.4,435.7 603.6,429.5 603.7,423.8 603.9,417.9 604.0,411.6 604.2,406.6 604.3,403.6 604.5,401.7 604.6,403.0 604.8,405.1 604.9,411.4 605.1,417.7 605.2,423.8 605.4,430.9 605.5,434.9 605.7,440.1 605.8,443.9 606.0,446.4 606.1,448.7 606.3,450.3 606.4,451.0 606.6,452.7 606.9,453.3 607.0,454.0 607.6,454.8 607.8,453.8 608.4,454.7 608.5,455.9 609.0,456.7 609.4,457.6 609.6,458.1 609.7,457.1 609.9,458.1 610.0,456.6 610.2,457.5 610.5,456.3 610.8,455.6 610.9,456.1 611.2,456.8 611.7,457.9 612.1,458.9 612.6,458.3 613.0,457.3 613.2,458.0 613.3,456.6 613.5,455.5 613.6,454.7 613.8,453.3 613.9,451.9 614.1,448.9 614.2,445.7 614.4,442.2 614.5,437.7 614.7,433.1 614.8,427.5 615.0,421.8 615.1,415.8 615.3,409.9 615.4,408.1 615.6,406.5 615.9,410.2 616.0,414.2 616.2,419.7 616.3,425.0 616.5,429.9 616.6,433.8 616.8,438.6 616.9,441.1 617.1,443.1 617.4,444.2 617.5,445.0 617.7,443.3 617.8,441.2 618.0,439.2 618.1,437.4 618.3,433.5 618.4,429.3 618.6,425.2 618.7,423.4 618.9,421.7 619.0,420.1 619.2,422.1 619.3,425.1 619.5,429.2 619.6,433.0 619.8,438.7 619.9,442.0 620.1,446.1 620.2,448.7 620.4,450.8 620.5,452.5 620.7,454.6 621.0,455.6 621.1,456.3 621.3,455.7 621.9,455.6 622.0,453.9 622.3,451.3 622.5,450.1 622.6,447.1 622.8,443.6 622.9,440.5 623.1,438.1 623.2,434.2 623.4,430.5 623.5,429.4 623.7,428.3 623.8,429.4 624.1,432.6 624.3,435.2 624.4,438.8 624.6,440.5 624.7,443.7 624.9,445.8 625.0,447.8 625.2,449.8 625.8,448.6 626.1,446.5 626.2,444.9 626.8,447.0 627.0,448.2 627.1,448.9 627.3,450.8 627.4,451.4 627.6,452.1 627.7,453.5 628.3,452.3 628.5,453.2 628.6,451.5 628.8,452.8 628.9,451.7 629.1,452.3 629.4,454.0 629.7,456.0 630.0,456.8 630.1,457.6 630.7,456.7 631.0,455.3 631.2,453.0 631.3,451.7 631.5,450.1 631.6,447.5 631.8,446.9 631.9,443.3 632.2,441.4 632.5,440.6 632.7,441.8 632.8,444.0 633.0,445.7 633.1,447.1 633.3,448.9 633.4,451.1 633.6,452.7 633.7,454.0 633.9,455.2 634.2,456.0 634.3,455.2 634.6,453.9 634.8,453.0 635.1,451.9 635.2,449.9 635.8,451.1 636.0,452.1 636.3,453.5 636.4,454.1 636.7,454.7 636.9,454.0 637.2,452.1 637.3,450.0 637.5,448.2 637.6,444.1 637.8,439.1 637.9,432.0 638.1,424.7 638.2,416.6 638.4,404.6 638.5,393.0 638.7,383.8 638.8,372.8 639.0,364.6 639.1,358.0 639.4,358.7 639.6,363.2 639.7,374.3 639.9,382.7 640.0,396.5 640.2,406.9 640.3,416.2 640.5,425.0 640.6,433.1 640.8,439.1 640.9,445.4 641.1,448.3 641.2,451.0 641.4,451.7 642.0,450.4 642.1,449.8 642.3,446.8 642.6,445.4 642.7,444.3 643.0,443.4 643.2,444.5 643.3,446.1 643.5,447.4 643.6,449.0 643.8,451.1 643.9,451.9 644.5,450.8 644.7,449.7 644.8,447.6 645.0,443.9 645.1,441.9 645.3,436.8 645.4,433.9 645.6,430.7 645.7,428.8 645.9,426.3 646.2,427.9 646.3,427.3 646.5,431.7 646.6,435.4 646.8,439.2 646.9,441.7 647.1,446.2 647.2,447.9 647.4,450.5 647.5,452.9 647.7,453.8 647.8,454.7 648.0,455.6 648.3,455.0 648.4,453.3 648.6,452.2 648.7,450.0 648.9,447.9 649.0,446.6 649.2,443.3 649.3,442.1 649.5,440.4 649.8,439.5 649.9,439.0 650.1,440.8 650.2,443.3 650.4,444.0 650.5,446.4 650.7,448.3 650.8,449.1 651.0,450.1 651.3,448.9 651.4,447.7 651.6,446.6 651.7,443.3 651.9,441.1 652.0,436.7 652.2,433.3 652.3,429.7 652.5,426.5 652.6,422.6 652.9,423.5 653.2,427.6 653.4,430.3 653.5,433.2 653.7,434.6 653.8,436.3 654.0,438.1 654.4,436.8 654.7,434.0 655.0,436.6 655.5,438.8 655.6,441.5 655.8,443.7 655.9,446.4 656.1,447.8 656.2,449.4 656.4,451.3 656.7,452.0 656.8,452.6 657.0,451.9 657.3,449.3 657.4,448.1 657.6,445.7 657.7,442.8 657.9,439.7 658.0,438.1 658.2,435.4 658.3,433.6 658.8,435.0 658.9,437.6 659.1,441.0 659.4,444.2 659.5,445.9 659.7,448.6 659.8,449.3 660.1,450.7 660.6,450.1 660.7,448.8 660.9,449.4 661.5,450.2 662.1,450.2 662.2,449.0 662.4,447.8 662.5,446.3 662.7,445.7 662.8,444.2 663.0,442.4 663.1,441.7 663.3,440.9 663.6,442.3 663.9,444.0 664.0,445.3 664.2,447.4 664.3,448.6 664.5,449.9 664.6,450.9 664.9,451.6 665.2,450.2 665.4,449.0 665.5,448.3 665.7,447.1 666.0,445.7 666.4,446.8 666.6,446.1 667.0,445.1 667.2,443.0 667.5,440.6 667.6,438.5 667.8,436.0 667.9,434.1 668.4,435.0 668.5,436.2 668.7,438.1 668.8,441.3 669.0,443.9 669.1,446.3 669.3,447.4 669.4,449.7 669.7,451.3 669.9,452.2 670.0,450.8 670.2,449.6 670.3,448.4 670.5,446.2 670.6,444.2 670.8,442.3 670.9,439.4 671.1,438.1 671.2,438.7 671.4,436.7 671.5,437.4 671.8,439.1 672.0,440.6 672.1,443.1 672.3,444.6 672.4,447.2 672.6,447.9 672.7,449.2 672.9,450.2 673.3,451.1 673.5,451.9 673.6,451.3 673.8,450.3 674.1,449.3 674.2,450.3 674.5,449.5 674.7,450.6 675.0,451.7 675.1,452.3 675.3,453.5 675.6,455.1 675.7,454.1 676.0,453.2 676.2,453.9 676.3,453.1 676.6,452.2 677.1,453.0 677.4,453.8 677.7,454.9 678.0,456.2 678.1,457.0 678.3,457.8 678.4,459.3 678.6,459.9" fill="none" stroke="none" marker-start="url(#mc)" marker-mid="url(#mc)" marker-end="url(#mc)"/>
<polyline points="413.7,460.1 414.0,460.1 414.3,460.2 414.6,460.2 414.9,460.2 415.2,460.3 415.5,460.3 415.8,460.3 416.1,460.4 416.4,460.4 416.7,460.5 417.0,460.6 417.3,460.6 417.6,460.7 417.9,460.7 418.2,460.8 418.5,460.9 418.8,461.0 419.1,461.0 419.4,461.1 419.7,461.2 420.0,461.3 420.3,461.3 420.6,461.4 420.9,461.5 421.2,461.5 421.5,461.6 421.8,461.6 422.1,461.7 422.4,461.7 422.7,461.8 423.0,461.9 423.3,461.9 423.6,461.9 423.9,462.0 424.2,462.0 424.5,462.1 424.8,462.1 425.1,462.1 425.4,462.2 425.7,462.2 426.0,462.2 426.3,462.2 426.6,462.2 426.9,462.2 427.2,462.2 427.5,462.2 427.8,462.2 428.1,462.1 428.4,462.1 428.7,462.1 429.0,462.0 429.3,461.9 429.6,461.8 429.9,461.6 430.2,461.3 430.3,461.0 430.5,460.5 430.6,459.6 430.8,458.2 430.9,456.1 431.1,453.0 431.2,448.9 431.4,443.8 431.5,438.4 431.7,433.3 431.8,429.7 432.0,428.7 432.1,430.7 432.3,435.1 432.4,440.6 432.6,446.0 432.7,450.6 432.9,454.2 433.0,456.7 433.2,458.3 433.3,459.3 433.5,459.9 433.6,460.1 433.9,460.3 434.2,460.0 434.4,459.8 434.5,459.4 434.7,458.7 434.8,457.5 435.0,455.5 435.1,452.2 435.3,447.2 435.4,440.0 435.6,430.6 435.7,419.4 435.9,407.6 436.0,397.1 436.2,390.3 436.3,389.6 436.5,395.2 436.6,405.2 436.8,417.1 436.9,428.5 437.1,438.4 437.2,446.0 437.4,451.4 437.5,454.9 437.7,457.1 437.8,458.5 438.0,459.3 438.1,459.8 438.3,460.1 438.6,460.4 438.9,460.6 439.2,460.6 439.5,460.5 439.8,460.2 440.1,459.6 440.2,459.1 440.4,458.1 440.5,456.5 440.7,453.8 440.8,449.7 441.0,443.6 441.1,435.5 441.3,425.5 441.4,414.3 441.6,403.6 441.7,395.4 441.9,392.2 442.0,395.1 442.2,403.0 442.3,413.6 442.5,424.8 442.6,434.9 442.8,443.2 442.9,449.5 443.1,453.7 443.2,456.5 443.4,458.2 443.5,459.3 443.7,459.9 443.8,460.3 444.0,460.6 444.3,461.0 444.6,461.2 444.9,461.3 445.2,461.4 445.5,461.4 445.8,461.4 446.1,461.2 446.4,460.9 446.5,460.6 446.7,460.1 446.8,459.3 447.0,458.0 447.1,455.9 447.3,452.9 447.4,448.8 447.6,443.7 447.7,438.3 447.9,433.3 448.0,430.0 448.2,429.3 448.3,431.3 448.5,435.3 448.6,440.3 448.8,445.5 448.9,450.1 449.1,453.9 449.2,456.7 449.4,458.6 449.5,459.9 449.7,460.7 449.8,461.1 450.0,461.4 450.3,461.7 450.6,461.7 450.9,461.6 451.2,461.1 451.3,460.8 451.5,460.4 451.6,460.1 451.8,459.8 452.1,459.9 452.2,460.2 452.4,460.6 452.5,461.0 452.7,461.4 452.8,461.7 453.1,462.1 453.4,462.3 453.7,462.4 454.0,462.4 454.3,462.4 454.6,462.4 454.9,462.4 455.2,462.5 455.5,462.4 455.8,462.4 456.1,462.4 456.4,462.4 456.7,462.3 457.0,462.1 457.3,461.6 457.5,461.1 457.6,460.6 457.8,460.0 457.9,459.4 458.1,458.9 458.2,458.6 458.5,458.8 458.7,459.3 458.8,460.0 459.0,460.6 459.1,461.1 459.3,461.5 459.4,461.8 459.7,462.1 460.0,462.2 460.3,462.2 460.6,462.1 460.9,461.8 461.2,461.3 461.4,461.0 461.5,460.7 461.7,460.4 462.0,460.2 462.3,460.5 462.4,460.8 462.6,461.1 462.9,461.5 463.2,461.7 463.5,461.7 463.8,461.5 464.1,461.3 464.4,460.8 464.5,460.4 464.7,459.8 464.8,458.7 465.0,457.0 465.1,454.4 465.3,450.8 465.4,446.1 465.6,440.4 465.7,434.0 465.9,427.7 466.0,422.4 466.2,419.5 466.5,423.1 466.6,428.7 466.8,435.3 466.9,441.6 467.1,447.1 467.2,451.4 467.4,454.5 467.5,456.6 467.7,457.9 467.8,458.7 468.0,459.1 468.3,459.3 468.6,458.7 468.7,458.0 468.9,456.9 469.0,455.1 469.2,452.2 469.3,447.8 469.5,441.5 469.6,433.1 469.8,422.8 469.9,411.3 470.1,400.1 470.2,391.2 470.4,386.9 470.5,388.2 470.7,394.7 470.8,404.5 471.0,415.6 471.1,426.5 471.3,436.1 471.4,443.8 471.6,449.6 471.7,453.6 471.9,456.3 472.0,458.0 472.2,459.0 472.3,459.6 472.5,460.1 472.6,460.3 472.9,460.7 473.2,460.8 473.5,460.7 473.8,460.2 474.0,459.8 474.1,459.1 474.3,458.3 474.4,457.3 474.6,456.2 474.7,455.3 474.9,454.6 475.2,454.8 475.3,455.6 475.5,456.6 475.6,457.7 475.8,458.7 475.9,459.5 476.1,460.2 476.2,460.6 476.4,460.9 476.7,461.3 477.0,461.3 477.3,461.4 477.6,461.3 477.9,461.2 478.2,461.1 478.5,461.0 478.8,460.8 479.1,460.6 479.4,460.3 479.7,459.9 479.8,459.6 480.0,459.3 480.1,458.8 480.3,458.2 480.4,457.2 480.6,455.7 480.7,453.3 480.9,449.8 481.0,444.6 481.2,437.5 481.3,428.4 481.5,417.7 481.6,405.9 481.8,394.5 481.9,385.0 482.1,379.7 482.4,385.5 482.5,395.2 482.7,406.4 482.8,417.1 483.0,426.1 483.1,432.2 483.3,435.0 483.4,434.2 483.6,429.5 483.7,420.9 483.9,408.7 484.0,393.7 484.2,377.0 484.3,360.8 484.5,347.9 484.6,341.2 484.8,342.9 484.9,352.5 485.1,367.3 485.2,384.3 485.4,401.0 485.5,415.9 485.7,427.9 485.8,437.0 486.0,443.3 486.1,447.4 486.3,449.7 486.4,450.7 486.7,449.3 486.9,446.7 487.0,442.1 487.2,434.9 487.3,424.5 487.5,410.5 487.6,392.9 487.8,372.4 487.9,350.9 488.1,330.9 488.2,316.3 488.4,310.6 488.5,315.5 488.7,329.5 488.8,349.1 489.0,370.7 489.1,391.6 489.3,409.8 489.4,424.5 489.6,435.6 489.7,443.5 489.9,448.8 490.0,452.3 490.2,454.5 490.3,455.9 490.5,456.8 490.6,457.4 490.8,457.9 490.9,458.2 491.1,458.5 491.4,458.9 491.7,459.1 492.0,459.1 492.3,459.0 492.6,458.6 492.7,458.2 492.9,457.5 493.0,456.4 493.2,454.7 493.3,452.1 493.5,448.2 493.6,442.8 493.8,435.7 493.9,427.0 494.1,417.2 494.2,407.4 494.4,399.0 494.5,393.9 494.7,393.1 494.8,396.7 495.0,403.5 495.1,411.8 495.3,420.1 495.4,427.2 495.6,432.5 495.7,435.8 495.9,437.0 496.0,436.7 496.2,435.7 496.3,434.6 496.5,434.3 496.6,435.4 496.8,437.9 496.9,441.4 497.1,445.3 497.2,449.1 497.4,452.3 497.5,455.0 497.7,456.9 497.8,458.3 498.0,459.3 498.1,459.9 498.3,460.4 498.4,460.7 498.7,461.1 499.0,461.3 499.3,461.5 499.6,461.6 499.9,461.8 500.2,461.8 500.5,461.9 500.8,461.9 501.1,461.9 501.4,461.9 501.7,461.6 502.0,461.1 502.2,460.8 502.3,460.4 502.5,460.0 502.6,459.6 502.9,459.3 503.2,459.7 503.4,460.1 503.5,460.6 503.7,461.0 503.8,461.3 504.0,461.6 504.3,462.0 504.6,462.1 504.9,462.2 505.2,462.2 505.5,462.2 505.8,462.2 506.1,462.1 506.4,462.1 506.7,462.0 507.0,461.9 507.3,461.8 507.6,461.7 507.9,461.5 508.2,461.2 508.5,460.8 508.6,460.5 508.8,460.0 508.9,459.2 509.1,458.1 509.2,456.4 509.4,453.9 509.5,450.5 509.7,446.0 509.8,440.6 510.0,434.4 510.1,428.2 510.3,422.8 510.4,419.3 510.6,418.5 510.7,420.3 510.9,424.4 511.0,429.6 511.2,435.3 511.3,440.7 511.5,445.3 511.6,448.8 511.8,451.1 511.9,452.3 512.1,452.6 512.2,452.2 512.4,451.6 512.5,450.9 512.8,451.0 513.0,451.9 513.1,453.1 513.3,454.5 513.4,455.8 513.6,457.1 513.7,458.2 513.9,459.1 514.0,459.7 514.2,460.1 514.3,460.4 514.6,460.5 514.9,460.0 515.1,459.6 515.2,458.8 515.4,457.8 515.5,456.6 515.7,455.0 515.8,453.3 516.0,451.5 516.1,449.9 516.3,448.8 516.4,448.2 516.6,448.5 516.7,449.5 516.9,451.1 517.0,452.8 517.2,454.4 517.3,455.9 517.5,457.1 517.6,457.9 517.8,458.4 517.9,458.7 518.2,458.4 518.4,457.8 518.5,456.9 518.7,455.7 518.8,454.0 519.0,452.0 519.1,449.6 519.3,447.0 519.4,444.3 519.6,441.9 519.7,439.9 519.9,438.3 520.0,436.8 520.2,434.8 520.3,431.6 520.5,426.6 520.6,419.5 520.8,410.5 520.9,399.9 521.1,389.0 521.2,379.3 521.4,372.8 521.5,371.0 521.7,374.6 521.8,382.5 522.0,393.1 522.1,404.6 522.3,415.8 522.4,425.7 522.6,433.7 522.7,439.5 522.9,443.0 523.0,444.3 523.2,443.3 523.3,440.2 523.5,435.0 523.6,427.6 523.8,418.5 523.9,408.2 524.1,397.6 524.2,387.8 524.4,380.5 524.5,377.3 524.7,378.9 524.8,385.0 525.0,394.4 525.1,405.1 525.3,415.9 525.4,425.6 525.6,433.7 525.7,440.0 525.9,444.6 526.0,447.5 526.2,449.0 526.3,449.3 526.5,448.3 526.6,445.9 526.8,441.7 526.9,435.2 527.1,425.8 527.2,413.1 527.4,396.9 527.5,377.5 527.7,356.0 527.8,334.1 528.0,314.4 528.1,300.3 528.3,294.8 528.4,299.2 528.6,312.5 528.7,331.5 528.9,353.2 529.0,374.9 529.2,394.7 529.3,411.5 529.5,424.8 529.6,434.7 529.8,441.6 529.9,446.2 530.1,448.9 530.2,450.4 530.4,451.2 530.5,451.5 530.8,451.8 531.0,452.3 531.1,453.0 531.3,453.9 531.4,455.0 531.6,456.0 531.7,456.9 531.9,457.7 532.0,458.4 532.2,458.8 532.3,459.2 532.6,459.6 532.9,459.7 533.2,459.7 533.5,459.4 533.7,459.0 533.8,458.5 534.0,457.7 534.1,456.4 534.3,454.5 534.4,452.0 534.6,448.7 534.7,444.6 534.9,439.9 535.0,434.8 535.2,429.8 535.3,425.6 535.5,422.9 535.6,422.2 535.8,423.8 535.9,427.1 536.1,431.4 536.2,436.0 536.4,440.1 536.5,443.6 536.7,445.9 536.8,447.0 537.1,446.2 537.3,444.8 537.4,443.1 537.6,441.8 537.7,441.0 538.0,442.5 538.2,444.6 538.3,447.3 538.5,450.0 538.6,452.5 538.8,454.7 538.9,456.5 539.1,457.8 539.2,458.8 539.4,459.5 539.5,459.9 539.7,460.3 540.0,460.5 540.3,460.6 540.6,460.4 540.9,459.8 541.0,459.2 541.2,458.4 541.3,457.1 541.5,455.5 541.6,453.3 541.8,450.7 541.9,447.8 542.1,444.6 542.2,441.6 542.4,439.1 542.5,437.5 542.7,437.1 542.8,438.1 543.0,440.2 543.1,443.0 543.3,446.1 543.4,449.1 543.6,451.7 543.7,453.6 543.9,454.8 544.0,455.4 544.2,455.1 544.3,454.0 544.5,452.1 544.6,449.4 544.8,445.8 544.9,441.7 545.1,437.2 545.2,432.8 545.4,428.9 545.5,426.3 545.7,425.6 545.8,426.8 546.0,429.8 546.1,433.9 546.3,438.6 546.4,443.2 546.6,447.4 546.7,450.9 546.9,453.8 547.0,455.9 547.2,457.4 547.3,458.4 547.5,458.9 547.8,459.1 548.1,458.5 548.2,457.9 548.4,457.4 548.5,456.8 548.7,456.4 548.8,456.1 549.1,456.4 549.3,456.9 549.4,457.5 549.6,458.2 549.7,458.8 549.9,459.3 550.0,459.8 550.2,460.1 550.5,460.4 550.8,460.4 551.1,460.0 551.2,459.6 551.4,459.0 551.5,458.1 551.7,456.7 551.8,454.8 552.0,452.0 552.1,448.3 552.3,443.5 552.4,437.7 552.6,431.2 552.7,424.2 552.9,417.3 553.0,411.4 553.2,407.2 553.3,405.7 553.5,407.3 553.6,411.6 553.8,417.9 553.9,425.0 554.1,432.1 554.2,438.6 554.4,444.1 554.5,448.4 554.7,451.5 554.8,453.6 555.0,454.9 555.1,455.5 555.4,455.5 555.6,455.1 555.7,454.6 555.9,454.0 556.0,453.5 556.2,453.0 556.3,452.4 556.5,451.6 556.6,450.8 556.8,449.8 556.9,449.0 557.1,448.4 557.4,448.7 557.5,449.7 557.7,451.0 557.8,452.6 558.0,454.1 558.1,455.5 558.3,456.8 558.4,457.8 558.6,458.4 558.7,458.8 559.0,458.7 559.2,458.3 559.3,457.7 559.5,457.0 559.6,456.3 559.8,455.6 559.9,455.2 560.2,455.1 560.4,455.5 560.5,456.1 560.7,456.7 560.8,457.4 561.0,458.0 561.1,458.3 561.4,458.2 561.6,457.6 561.7,456.5 561.9,454.8 562.0,452.6 562.2,449.7 562.3,446.3 562.5,442.6 562.6,438.8 562.8,435.2 562.9,432.4 563.1,430.7 563.4,432.1 563.5,434.9 563.7,438.6 563.8,442.5 564.0,446.3 564.1,449.7 564.3,452.6 564.4,454.9 564.6,456.6 564.7,457.8 564.9,458.6 565.0,459.0 565.3,459.0 565.5,458.6 565.6,458.1 565.8,457.5 565.9,456.8 566.1,456.1 566.2,455.4 566.4,454.9 566.5,454.6 566.8,454.5 567.1,454.6 567.4,454.4 567.7,454.3 568.0,454.8 568.2,455.3 568.3,456.1 568.5,456.9 568.6,457.5 568.8,458.1 568.9,458.4 569.2,458.3 569.4,457.9 569.5,457.3 569.7,456.6 569.8,455.7 570.0,454.9 570.1,454.1 570.3,453.5 570.4,453.1 570.7,453.1 570.9,453.4 571.0,454.0 571.2,454.7 571.3,455.6 571.5,456.5 571.6,457.4 571.8,458.2 571.9,458.9 572.1,459.5 572.2,460.0 572.4,460.3 572.7,460.6 573.0,460.5 573.1,460.2 573.3,459.8 573.4,459.1 573.6,458.2 573.7,457.0 573.9,455.4 574.0,453.5 574.2,451.2 574.3,448.8 574.5,446.3 574.6,444.1 574.8,442.4 574.9,441.6 575.2,442.8 575.4,444.7 575.5,447.0 575.7,449.4 575.8,451.8 576.0,454.0 576.1,455.8 576.3,457.3 576.4,458.4 576.6,459.3 576.7,459.8 576.9,460.2 577.0,460.5 577.3,460.8 577.6,460.8 577.9,460.7 578.2,460.4 578.4,460.1 578.5,459.7 578.7,459.2 578.8,458.6 579.0,457.7 579.1,456.7 579.3,455.6 579.4,454.3 579.6,452.9 579.7,451.5 579.9,450.1 580.0,448.9 580.2,448.0 580.3,447.3 580.5,446.9 580.8,447.0 581.1,447.3 581.2,447.1 581.4,446.3 581.5,444.9 581.7,443.0 581.8,440.7 582.0,438.1 582.1,435.7 582.3,433.7 582.4,432.6 582.7,433.5 582.9,435.2 583.0,437.4 583.2,439.9 583.3,442.5 583.5,445.0 583.6,447.4 583.8,449.7 583.9,451.8 584.1,453.6 584.2,455.1 584.4,456.2 584.5,457.0 584.7,457.6 584.8,457.9 585.1,457.8 585.3,457.5 585.4,457.2 585.6,456.8 585.7,456.4 585.9,456.2 586.2,456.0 586.5,456.2 586.8,456.3 587.1,456.0 587.4,455.5 587.5,455.1 587.7,454.7 587.8,454.2 588.0,453.4 588.1,452.2 588.3,450.3 588.4,447.5 588.6,443.6 588.7,438.4 588.9,431.7 589.0,423.6 589.2,414.5 589.3,404.8 589.5,395.1 589.6,386.5 589.8,380.1 589.9,376.9 590.1,377.6 590.2,382.0 590.4,389.2 590.5,398.0 590.7,407.5 590.8,416.7 591.0,425.3 591.1,432.8 591.3,439.1 591.4,444.1 591.6,448.0 591.7,450.9 591.9,453.0 592.0,454.4 592.2,455.2 592.3,455.6 592.6,455.3 592.8,454.7 592.9,454.0 593.1,453.3 593.2,452.6 593.4,452.1 593.7,452.2 593.8,452.7 594.0,453.5 594.1,454.5 594.3,455.4 594.4,456.3 594.6,457.2 594.7,457.8 594.9,458.3 595.0,458.5 595.3,458.4 595.5,458.0 595.6,457.4 595.8,456.7 595.9,455.9 596.1,455.0 596.2,454.2 596.4,453.5 596.5,453.0 596.8,452.7 597.1,453.3 597.3,453.7 597.4,454.1 597.6,454.6 597.7,455.1 597.9,455.6 598.0,456.2 598.2,456.9 598.3,457.5 598.5,458.1 598.6,458.6 598.8,459.0 598.9,459.3 599.2,459.4 599.5,459.0 599.7,458.6 599.8,457.9 600.0,457.1 600.1,456.2 600.3,455.1 600.4,454.0 600.6,452.9 600.7,451.9 600.9,451.2 601.0,450.8 601.3,450.8 601.6,451.0 601.9,451.0 602.2,450.4 602.4,449.9 602.5,449.2 602.7,448.2 602.8,446.7 603.0,444.6 603.1,441.5 603.3,437.5 603.4,432.5 603.6,426.7 603.7,420.3 603.9,413.9 604.0,407.9 604.2,403.2 604.3,400.5 604.6,402.7 604.8,407.5 604.9,413.7 605.1,420.7 605.2,427.5 605.4,433.6 605.5,438.8 605.7,443.0 605.8,446.1 606.0,448.4 606.1,449.9 606.3,450.9 606.4,451.6 606.6,452.2 606.7,452.6 606.9,453.0 607.0,453.3 607.3,453.6 607.6,453.7 607.9,453.9 608.1,454.2 608.2,454.5 608.4,455.0 608.5,455.5 608.7,455.9 608.8,456.3 609.0,456.6 609.1,456.9 609.4,457.3 609.7,457.3 610.0,456.9 610.2,456.6 610.3,456.2 610.5,455.9 610.6,455.6 610.9,455.3 611.2,455.9 611.4,456.4 611.5,456.9 611.7,457.5 611.8,458.0 612.0,458.5 612.1,458.8 612.4,459.1 612.7,459.0 613.0,458.4 613.2,457.9 613.3,457.2 613.5,456.4 613.6,455.3 613.8,454.0 613.9,452.3 614.1,450.2 614.2,447.6 614.4,444.3 614.5,440.2 614.7,435.4 614.8,429.9 615.0,423.9 615.1,417.9 615.3,412.4 615.4,408.1 615.6,405.7 615.9,407.4 616.0,411.0 616.2,415.6 616.3,420.6 616.5,425.7 616.6,430.5 616.8,434.7 616.9,438.3 617.1,441.1 617.2,443.3 617.4,444.7 617.5,445.2 617.8,443.9 618.0,441.8 618.1,438.9 618.3,435.3 618.4,431.3 618.6,427.2 618.7,423.6 618.9,421.1 619.0,420.0 619.2,420.6 619.3,422.7 619.5,426.0 619.6,430.2 619.8,434.5 619.9,438.9 620.1,442.9 620.2,446.4 620.4,449.4 620.5,451.7 620.7,453.4 620.8,454.5 621.0,455.3 621.1,455.7 621.4,456.0 621.7,455.8 621.9,455.5 622.0,454.9 622.2,453.9 622.3,452.6 622.5,450.7 622.6,448.3 622.8,445.4 622.9,442.2 623.1,438.7 623.2,435.2 623.4,432.1 623.5,429.7 623.7,428.5 624.0,429.8 624.1,431.9 624.3,434.7 624.4,437.6 624.6,440.6 624.7,443.5 624.9,445.9 625.0,447.9 625.2,449.4 625.3,450.3 625.5,450.5 625.8,449.6 625.9,448.6 626.1,447.6 626.2,446.5 626.4,445.8 626.5,445.6 626.8,446.5 627.0,447.6 627.1,448.8 627.3,450.0 627.4,451.2 627.6,452.1 627.7,452.8 627.9,453.3 628.2,453.3 628.3,453.0 628.5,452.6 628.6,452.1 628.8,451.7 629.1,451.6 629.2,451.9 629.4,452.6 629.5,453.3 629.7,454.2 629.8,455.1 630.0,455.9 630.1,456.5 630.3,456.9 630.6,457.0 630.7,456.6 630.9,455.9 631.0,454.8 631.2,453.4 631.3,451.7 631.5,449.8 631.6,447.8 631.8,445.8 631.9,443.9 632.1,442.4 632.2,441.4 632.4,440.9 632.5,441.3 632.7,442.3 632.8,443.9 633.0,445.9 633.1,448.0 633.3,450.0 633.4,451.9 633.6,453.4 633.7,454.6 633.9,455.5 634.0,456.0 634.3,455.8 634.5,455.3 634.6,454.5 634.8,453.6 634.9,452.7 635.1,451.8 635.2,451.0 635.4,450.6 635.7,450.7 635.8,451.3 636.0,452.0 636.1,452.7 636.3,453.5 636.4,454.1 636.6,454.6 636.9,454.7 637.0,454.3 637.2,453.3 637.3,451.7 637.5,449.4 637.6,446.1 637.8,441.7 637.9,436.0 638.1,429.0 638.2,420.6 638.4,410.9 638.5,400.2 638.7,389.1 638.8,378.5 639.0,369.2 639.1,362.5 639.3,359.4 639.4,360.4 639.6,365.3 639.7,373.1 639.9,383.0 640.0,393.7 640.2,404.6 640.3,414.9 640.5,424.1 640.6,432.0 640.8,438.5 640.9,443.5 641.1,447.1 641.2,449.6 641.4,451.1 641.5,451.8 641.8,451.3 642.0,450.3 642.1,449.2 642.3,447.9 642.4,446.6 642.6,445.5 642.7,444.8 642.9,444.5 643.0,444.8 643.2,445.5 643.3,446.7 643.5,448.0 643.6,449.4 643.8,450.7 643.9,451.7 644.1,452.5 644.2,452.7 644.5,451.6 644.7,450.2 644.8,448.1 645.0,445.3 645.1,442.1 645.3,438.4 645.4,434.6 645.6,431.0 645.7,427.9 645.9,425.7 646.0,424.8 646.2,425.3 646.3,427.1 646.5,429.8 646.6,433.1 646.8,436.8 646.9,440.5 647.1,444.0 647.2,447.2 647.4,449.9 647.5,452.1 647.7,453.7 647.8,454.8 648.0,455.3 648.3,455.0 648.4,454.2 648.6,453.0 648.7,451.5 648.9,449.6 649.0,447.6 649.2,445.4 649.3,443.4 649.5,441.7 649.6,440.5 649.8,440.0 650.1,441.2 650.2,442.6 650.4,444.3 650.5,446.0 650.7,447.6 650.8,448.9 651.0,449.6 651.3,449.3 651.4,448.1 651.6,446.1 651.7,443.5 651.9,440.4 652.0,436.9 652.2,433.2 652.3,429.7 652.5,426.8 652.6,424.7 652.8,423.8 652.9,424.1 653.1,425.5 653.2,427.7 653.4,430.2 653.5,432.6 653.7,434.8 653.8,436.3 654.0,437.2 654.1,437.5 654.4,436.8 654.6,436.0 654.7,435.5 655.0,435.7 655.2,436.8 655.3,438.5 655.5,440.6 655.6,442.8 655.8,445.0 655.9,447.1 656.1,449.0 656.2,450.7 656.4,451.9 656.5,452.8 656.7,453.2 657.0,452.7 657.1,451.6 657.3,450.1 657.4,448.2 657.6,445.9 657.7,443.3 657.9,440.7 658.0,438.2 658.2,436.1 658.3,434.6 658.5,434.0 658.8,435.2 658.9,436.9 659.1,438.9 659.2,441.2 659.4,443.5 659.5,445.6 659.7,447.4 659.8,448.8 660.0,449.7 660.1,450.3 660.4,450.3 660.6,449.9 660.7,449.6 660.9,449.3 661.2,449.3 661.3,449.6 661.5,449.9 661.6,450.2 661.9,450.4 662.1,450.2 662.2,449.6 662.4,448.8 662.5,447.8 662.7,446.6 662.8,445.3 663.0,444.1 663.1,443.1 663.3,442.3 663.4,442.1 663.6,442.3 663.7,443.1 663.9,444.3 664.0,445.7 664.2,447.1 664.3,448.5 664.5,449.7 664.6,450.5 664.8,451.0 665.1,450.8 665.2,450.2 665.4,449.4 665.5,448.5 665.7,447.5 665.8,446.7 666.0,446.2 666.1,445.8 666.4,445.6 666.7,445.0 666.9,444.3 667.0,443.2 667.2,441.7 667.3,440.0 667.5,438.1 667.6,436.3 667.8,434.8 667.9,433.9 668.2,434.4 668.4,436.0 668.5,438.2 668.7,440.8 668.8,443.5 669.0,446.1 669.1,448.3 669.3,450.1 669.4,451.4 669.6,452.0 669.9,451.7 670.0,450.8 670.2,449.5 670.3,447.8 670.5,445.9 670.6,443.9 670.8,442.0 670.9,440.1 671.1,438.6 671.2,437.5 671.4,437.0 671.7,438.2 671.8,439.7 672.0,441.5 672.1,443.5 672.3,445.4 672.4,447.2 672.6,448.6 672.7,449.8 672.9,450.6 673.0,451.1 673.2,451.4 673.5,451.4 673.8,450.8 673.9,450.4 674.1,450.0 674.2,449.7 674.5,449.8 674.7,450.2 674.8,450.8 675.0,451.5 675.1,452.3 675.3,453.0 675.4,453.6 675.6,453.9 675.9,454.1 676.2,453.6 676.3,453.2 676.5,452.8 676.6,452.5 676.9,452.3 677.2,452.8 677.4,453.3 677.5,453.9 677.7,454.6 677.8,455.5 678.0,456.3 678.1,457.2 678.3,458.0 678.4,458.8 678.6,459.5" fill="none" stroke="#000" stroke-width="0.6" />
<path d="M432.0 466.2V469.7M439.3 466.2V469.7M441.6 466.2V469.7M449.4 466.2V469.7M459.0 466.2V469.7M460.4 466.2V469.7M466.0 466.2V469.7M470.0 466.2V469.7M471.2 466.2V469.7M474.8 466.2V469.7M480.6 466.2V469.7M482.0 466.2V469.7M485.9 466.2V469.7M489.9 466.2V469.7M492.5 466.2V469.7M495.1 466.2V469.7M496.5 466.2V469.7M496.9 466.2V469.7M498.8 466.2V469.7M501.7 466.2V469.7M506.0 466.2V469.7M507.4 466.2V469.7M508.7 466.2V469.7M513.7 466.2V469.7M517.0 466.2V469.7M520.8 466.2V469.7M525.7 466.2V469.7M527.9 466.2V469.7M528.8 466.2V469.7M532.7 466.2V469.7M534.4 466.2V469.7M535.3 466.2V469.7M539.5 466.2V469.7M543.1 466.2V469.7M545.1 466.2V469.7M547.4 466.2V469.7M548.9 466.2V469.7M551.0 466.2V469.7M552.0 466.2V469.7M552.5 466.2V469.7M555.7 466.2V469.7M556.9 466.2V469.7M559.8 466.2V469.7M560.9 466.2V469.7M564.3 466.2V469.7M570.2 466.2V469.7M572.8 466.2V469.7M575.0 466.2V469.7M577.5 466.2V469.7M578.2 466.2V469.7M580.0 466.2V469.7M582.7 466.2V469.7M583.7 466.2V469.7M586.6 466.2V469.7M589.5 466.2V469.7M590.9 466.2V469.7M592.3 466.2V469.7M593.9 466.2V469.7M595.3 466.2V469.7M599.6 466.2V469.7M600.1 466.2V469.7M600.7 466.2V469.7M605.7 466.2V469.7M607.3 466.2V469.7M608.9 466.2V469.7M610.6 466.2V469.7M613.6 466.2V469.7M615.4 466.2V469.7M617.1 466.2V469.7M618.8 466.2V469.7M619.6 466.2V469.7M620.4 466.2V469.7M623.9 466.2V469.7M625.1 466.2V469.7M627.7 466.2V469.7M628.3 466.2V469.7M628.9 466.2V469.7M630.9 466.2V469.7M632.9 466.2V469.7M634.0 466.2V469.7M635.7 466.2V469.7M637.4 466.2V469.7M639.5 466.2V469.7M641.6 466.2V469.7M642.8 466.2V469.7M644.9 466.2V469.7M647.0 466.2V469.7M648.4 466.2V469.7M650.3 466.2V469.7M651.5 466.2V469.7M652.6 466.2V469.7M653.4 466.2V469.7M655.2 466.2V469.7M655.8 466.2V469.7M656.3 466.2V469.7M658.0 466.2V469.7M659.6 466.2V469.7M660.7 466.2V469.7M662.3 466.2V469.7M663.6 466.2V469.7M664.4 466.2V469.7M665.4 466.2V469.7M666.1 466.2V469.7M667.4 466.2V469.7M669.1 466.2V469.7M670.8 466.2V469.7M672.2 466.2V469.7M673.9 466.2V469.7M675.5 466.2V469.7M676.6 466.2V469.7" stroke="#6e6eff" stroke-width="1.15" opacity="0.9"/>
<path d="M432.0 470.8V474.0M439.3 470.8V474.0M441.6 470.8V474.0M449.4 470.8V474.0M459.0 470.8V474.0M466.0 470.8V474.0M470.0 470.8V474.0M480.6 470.8V474.0M482.0 470.8V474.0M486.0 470.8V474.0M489.8 470.8V474.0M495.0 470.8V474.0M496.6 470.8V474.0M496.8 470.8V474.0M498.9 470.8V474.0M501.6 470.8V474.0M505.9 470.8V474.0M508.8 470.8V474.0M509.3 470.8V474.0M513.6 470.8V474.0M520.7 470.8V474.0M523.4 470.8V474.0M524.0 470.8V474.0M525.5 470.8V474.0M528.9 470.8V474.0M534.2 470.8V474.0M535.2 470.8V474.0M538.7 470.8V474.0M539.3 470.8V474.0M543.0 470.8V474.0M545.1 470.8V474.0M548.8 470.8V474.0M552.3 470.8V474.0M555.7 470.8V474.0M556.8 470.8V474.0M570.2 470.8V474.0M573.0 470.8V474.0M575.1 470.8V474.0M577.3 470.8V474.0M580.0 470.8V474.0M582.9 470.8V474.0M583.6 470.8V474.0M586.6 470.8V474.0M589.6 470.8V474.0M590.8 470.8V474.0M592.4 470.8V474.0M593.8 470.8V474.0M595.1 470.8V474.0M598.3 470.8V474.0M599.5 470.8V474.0M600.3 470.8V474.0M600.7 470.8V474.0M603.0 470.8V474.0M605.6 470.8V474.0M608.7 470.8V474.0M610.6 470.8V474.0M612.6 470.8V474.0M613.6 470.8V474.0M615.6 470.8V474.0M619.5 470.8V474.0M624.1 470.8V474.0M626.9 470.8V474.0M628.8 470.8V474.0M631.0 470.8V474.0M633.9 470.8V474.0M637.5 470.8V474.0M639.7 470.8V474.0M641.8 470.8V474.0M642.9 470.8V474.0M644.8 470.8V474.0M646.9 470.8V474.0M648.6 470.8V474.0M650.2 470.8V474.0M651.5 470.8V474.0M652.4 470.8V474.0M653.2 470.8V474.0M655.3 470.8V474.0M656.0 470.8V474.0M656.2 470.8V474.0M658.0 470.8V474.0M659.7 470.8V474.0M662.3 470.8V474.0M662.8 470.8V474.0M663.5 470.8V474.0M664.4 470.8V474.0M665.5 470.8V474.0M666.2 470.8V474.0M666.6 470.8V474.0M669.0 470.8V474.0M670.9 470.8V474.0M672.2 470.8V474.0M673.8 470.8V474.0M675.7 470.8V474.0M676.4 470.8V474.0M678.0 470.8V474.0" stroke="#ff7878" stroke-width="1.15" opacity="0.9"/>
<path d="M433.2 475.1V478.6M435.4 475.1V478.6M438.1 475.1V478.6M440.7 475.1V478.6M444.7 475.1V478.6M448.9 475.1V478.6M450.6 475.1V478.6M455.5 475.1V478.6M457.3 475.1V478.6M464.2 475.1V478.6M465.6 475.1V478.6M467.7 475.1V478.6M470.0 475.1V478.6M470.9 475.1V478.6M472.4 475.1V478.6M473.4 475.1V478.6M475.0 475.1V478.6M476.9 475.1V478.6M477.6 475.1V478.6M478.6 475.1V478.6M480.6 475.1V478.6M481.6 475.1V478.6M483.1 475.1V478.6M484.9 475.1V478.6M485.8 475.1V478.6M487.5 475.1V478.6M487.9 475.1V478.6M488.9 475.1V478.6M489.6 475.1V478.6M490.6 475.1V478.6M491.3 475.1V478.6M491.8 475.1V478.6M493.5 475.1V478.6M494.2 475.1V478.6M495.6 475.1V478.6M496.9 475.1V478.6M498.6 475.1V478.6M500.4 475.1V478.6M501.8 475.1V478.6M502.5 475.1V478.6M504.1 475.1V478.6M504.7 475.1V478.6M506.5 475.1V478.6M507.4 475.1V478.6M508.2 475.1V478.6M508.9 475.1V478.6M509.9 475.1V478.6M511.6 475.1V478.6M513.3 475.1V478.6M514.8 475.1V478.6M516.3 475.1V478.6M517.1 475.1V478.6M517.9 475.1V478.6M518.8 475.1V478.6M519.8 475.1V478.6M521.5 475.1V478.6M523.4 475.1V478.6M523.9 475.1V478.6M525.7 475.1V478.6M527.4 475.1V478.6M528.5 475.1V478.6M529.9 475.1V478.6M531.4 475.1V478.6M532.0 475.1V478.6M533.3 475.1V478.6M535.0 475.1V478.6M536.6 475.1V478.6M538.3 475.1V478.6M538.8 475.1V478.6M540.2 475.1V478.6M541.2 475.1V478.6M542.8 475.1V478.6M543.4 475.1V478.6M544.6 475.1V478.6M545.1 475.1V478.6M546.6 475.1V478.6M547.9 475.1V478.6M548.3 475.1V478.6M549.1 475.1V478.6M549.7 475.1V478.6M550.9 475.1V478.6M552.1 475.1V478.6M552.6 475.1V478.6M554.2 475.1V478.6M555.8 475.1V478.6M556.7 475.1V478.6M557.8 475.1V478.6M558.7 475.1V478.6M559.8 475.1V478.6M560.7 475.1V478.6M561.6 475.1V478.6M562.9 475.1V478.6M563.5 475.1V478.6M564.3 475.1V478.6M565.6 475.1V478.6M566.2 475.1V478.6M566.7 475.1V478.6M568.2 475.1V478.6M568.8 475.1V478.6M569.6 475.1V478.6M570.4 475.1V478.6M571.1 475.1V478.6M571.9 475.1V478.6M572.9 475.1V478.6M573.4 475.1V478.6M574.4 475.1V478.6M574.9 475.1V478.6M575.3 475.1V478.6M576.0 475.1V478.6M576.6 475.1V478.6M577.4 475.1V478.6M578.1 475.1V478.6M579.4 475.1V478.6M580.5 475.1V478.6M581.4 475.1V478.6M582.6 475.1V478.6M583.8 475.1V478.6M584.5 475.1V478.6M585.5 475.1V478.6M586.7 475.1V478.6M587.6 475.1V478.6M588.8 475.1V478.6M589.8 475.1V478.6M591.2 475.1V478.6M591.8 475.1V478.6M592.9 475.1V478.6M594.2 475.1V478.6M595.1 475.1V478.6M596.4 475.1V478.6M596.9 475.1V478.6M598.0 475.1V478.6M598.6 475.1V478.6M599.8 475.1V478.6M600.5 475.1V478.6M601.4 475.1V478.6M602.1 475.1V478.6M602.7 475.1V478.6M603.9 475.1V478.6M604.9 475.1V478.6M605.8 475.1V478.6M606.3 475.1V478.6M607.0 475.1V478.6M608.3 475.1V478.6M608.8 475.1V478.6M609.7 475.1V478.6M610.7 475.1V478.6M611.5 475.1V478.6M612.4 475.1V478.6M613.6 475.1V478.6M614.7 475.1V478.6M615.3 475.1V478.6M616.0 475.1V478.6M616.8 475.1V478.6M617.7 475.1V478.6M618.7 475.1V478.6M619.3 475.1V478.6M620.3 475.1V478.6M621.0 475.1V478.6M621.4 475.1V478.6M622.0 475.1V478.6M622.7 475.1V478.6M623.3 475.1V478.6M624.2 475.1V478.6M625.4 475.1V478.6M626.5 475.1V478.6M627.3 475.1V478.6M628.4 475.1V478.6M629.1 475.1V478.6M630.0 475.1V478.6M631.0 475.1V478.6M631.5 475.1V478.6M632.1 475.1V478.6M632.8 475.1V478.6M633.4 475.1V478.6M634.1 475.1V478.6M634.6 475.1V478.6M635.4 475.1V478.6M636.5 475.1V478.6M637.1 475.1V478.6M637.6 475.1V478.6M638.2 475.1V478.6M639.1 475.1V478.6M639.7 475.1V478.6M640.6 475.1V478.6M641.1 475.1V478.6M641.9 475.1V478.6M642.8 475.1V478.6M643.6 475.1V478.6M644.0 475.1V478.6M645.1 475.1V478.6M646.0 475.1V478.6M646.7 475.1V478.6M647.6 475.1V478.6M648.4 475.1V478.6M648.9 475.1V478.6M649.5 475.1V478.6M650.4 475.1V478.6M651.1 475.1V478.6M651.5 475.1V478.6M652.0 475.1V478.6M652.5 475.1V478.6M653.2 475.1V478.6M654.0 475.1V478.6M654.7 475.1V478.6M655.3 475.1V478.6M656.2 475.1V478.6M656.8 475.1V478.6M657.6 475.1V478.6M658.1 475.1V478.6M658.7 475.1V478.6M659.2 475.1V478.6M659.7 475.1V478.6M660.3 475.1V478.6M660.7 475.1V478.6M661.3 475.1V478.6M662.1 475.1V478.6M662.8 475.1V478.6M663.6 475.1V478.6M664.2 475.1V478.6M664.6 475.1V478.6M665.4 475.1V478.6M666.0 475.1V478.6M666.7 475.1V478.6M667.6 475.1V478.6M668.3 475.1V478.6M668.8 475.1V478.6M669.3 475.1V478.6M670.0 475.1V478.6M670.5 475.1V478.6M671.0 475.1V478.6M671.5 475.1V478.6M672.2 475.1V478.6M673.0 475.1V478.6M673.7 475.1V478.6M674.5 475.1V478.6M675.2 475.1V478.6M675.8 475.1V478.6M676.5 475.1V478.6M676.9 475.1V478.6M677.6 475.1V478.6" stroke="#3ada3a" stroke-width="1.15" opacity="0.9"/>
<path d="M418.3 479.7V482.9M432.1 479.7V482.9M439.6 479.7V482.9M441.9 479.7V482.9M446.1 479.7V482.9M449.1 479.7V482.9M459.5 479.7V482.9M466.0 479.7V482.9M470.0 479.7V482.9M471.2 479.7V482.9M474.8 479.7V482.9M480.6 479.7V482.9M482.1 479.7V482.9M486.1 479.7V482.9M490.0 479.7V482.9M495.0 479.7V482.9M496.3 479.7V482.9M498.9 479.7V482.9M501.6 479.7V482.9M502.4 479.7V482.9M505.9 479.7V482.9M507.3 479.7V482.9M508.7 479.7V482.9M509.1 479.7V482.9M513.7 479.7V482.9M516.8 479.7V482.9M523.3 479.7V482.9M524.1 479.7V482.9M525.7 479.7V482.9M528.8 479.7V482.9M532.6 479.7V482.9M534.5 479.7V482.9M535.3 479.7V482.9M538.5 479.7V482.9M539.3 479.7V482.9M543.1 479.7V482.9M545.1 479.7V482.9M547.2 479.7V482.9M548.8 479.7V482.9M550.9 479.7V482.9M551.9 479.7V482.9M552.4 479.7V482.9M555.8 479.7V482.9M559.7 479.7V482.9M560.7 479.7V482.9M564.4 479.7V482.9M567.6 479.7V482.9M570.0 479.7V482.9M572.9 479.7V482.9M574.8 479.7V482.9M577.6 479.7V482.9M578.3 479.7V482.9M579.9 479.7V482.9M582.9 479.7V482.9M583.8 479.7V482.9M586.6 479.7V482.9M591.0 479.7V482.9M592.5 479.7V482.9M594.1 479.7V482.9M595.4 479.7V482.9M598.1 479.7V482.9M599.7 479.7V482.9M600.1 479.7V482.9M602.8 479.7V482.9M605.7 479.7V482.9M607.4 479.7V482.9M608.8 479.7V482.9M610.7 479.7V482.9M612.6 479.7V482.9M613.8 479.7V482.9M615.5 479.7V482.9M617.1 479.7V482.9M618.8 479.7V482.9M619.6 479.7V482.9M620.3 479.7V482.9M621.7 479.7V482.9M623.8 479.7V482.9M625.0 479.7V482.9M627.8 479.7V482.9M628.4 479.7V482.9M629.0 479.7V482.9M630.9 479.7V482.9M632.9 479.7V482.9M635.7 479.7V482.9M637.6 479.7V482.9M641.7 479.7V482.9M642.8 479.7V482.9M648.6 479.7V482.9M650.3 479.7V482.9M652.5 479.7V482.9M653.3 479.7V482.9M655.3 479.7V482.9M655.9 479.7V482.9M656.5 479.7V482.9M662.4 479.7V482.9M663.0 479.7V482.9M663.6 479.7V482.9M664.3 479.7V482.9M665.4 479.7V482.9M665.9 479.7V482.9M666.5 479.7V482.9M667.2 479.7V482.9M668.9 479.7V482.9M670.7 479.7V482.9M672.3 479.7V482.9M673.1 479.7V482.9M673.8 479.7V482.9M675.6 479.7V482.9" stroke="#ff55ff" stroke-width="1.15" opacity="0.9"/>
<polyline points="413.7,489.9 414.1,490.4 414.6,490.6 415.0,489.8 415.5,490.8 415.9,489.7 416.4,490.4 416.8,490.3 417.3,490.9 417.7,489.2 418.2,490.8 418.6,489.6 419.1,490.9 419.5,489.6 420.0,489.8 420.4,490.8 420.9,490.4 421.3,490.2 421.8,489.6 422.2,489.8 422.7,490.0 423.1,490.6 423.6,490.1 424.0,490.9 424.5,490.7 424.9,490.6 425.4,489.9 425.8,490.0 426.3,489.9 426.7,489.5 427.2,490.4 427.6,489.5 428.1,491.2 428.5,489.7 429.0,489.1 429.4,490.8 429.9,489.9 430.3,490.6 430.8,491.0 431.2,492.0 431.7,490.9 432.1,488.2 432.6,489.3 433.0,490.3 433.5,490.1 433.9,489.8 434.4,490.0 434.8,491.1 435.3,490.2 435.7,491.0 436.2,487.3 436.6,489.0 437.1,489.0 437.5,489.8 438.0,491.1 438.4,490.3 438.9,490.0 439.3,490.2 439.8,490.3 440.2,490.5 440.7,490.3 441.1,488.0 441.6,487.9 442.0,488.3 442.5,490.6 442.9,489.4 443.4,490.3 443.8,491.0 444.3,489.2 444.7,489.9 445.2,490.8 445.6,488.7 446.1,489.8 446.5,489.2 447.0,490.0 447.4,488.4 447.9,489.3 448.3,493.0 448.8,491.4 449.2,491.2 449.7,490.6 450.1,490.7 450.6,490.9 451.0,490.9 451.5,489.1 451.9,489.7 452.4,490.6 452.8,490.0 453.3,490.6 453.7,490.3 454.2,490.5 454.6,490.5 455.1,489.5 455.5,490.3 456.0,489.4 456.4,491.0 456.9,489.2 457.3,490.1 457.8,490.2 458.2,490.8 458.7,490.3 459.1,489.0 459.6,491.1 460.0,489.9 460.5,491.4 460.9,490.9 461.4,490.3 461.8,490.5 462.3,490.2 462.7,490.6 463.2,489.9 463.6,492.5 464.1,490.3 464.5,491.6 465.0,491.2 465.4,492.2 465.9,491.5 466.3,491.7 466.8,488.9 467.2,489.4 467.7,490.0 468.1,490.9 468.6,490.5 469.0,488.4 469.5,489.1 469.9,488.7 470.4,493.6 470.8,493.6 471.3,492.2 471.7,491.4 472.2,490.9 472.6,490.5 473.1,490.1 473.5,490.0 474.0,488.5 474.4,490.9 474.9,490.0 475.3,491.3 475.8,491.5 476.2,490.9 476.7,491.1 477.1,491.4 477.6,490.6 478.0,490.1 478.5,490.2 478.9,489.4 479.4,490.7 479.8,490.1 480.3,490.8 480.7,492.7 481.2,492.9 481.6,493.6 482.1,492.9 482.5,487.7 483.0,488.6 483.4,489.9 483.9,487.0 484.3,485.3 484.8,487.1 485.2,486.0 485.7,486.8 486.1,489.6 486.6,489.1 487.0,488.2 487.5,487.0 487.9,485.0 488.4,486.6 488.8,491.8 489.3,489.6 489.7,489.7 490.2,490.5 490.6,490.5 491.1,491.1 491.5,490.8 492.0,491.1 492.4,488.8 492.9,488.4 493.3,488.1 493.8,487.1 494.2,488.4 494.7,493.4 495.1,493.2 495.6,492.6 496.0,492.3 496.5,489.4 496.9,488.1 497.4,488.2 497.8,489.5 498.3,489.1 498.7,490.2 499.2,489.7 499.6,490.8 500.1,490.0 500.5,490.2 501.0,491.8 501.4,490.0 501.9,490.2 502.3,492.1 502.8,491.1 503.2,490.7 503.7,490.0 504.1,489.8 504.6,489.1 505.0,488.6 505.5,489.5 505.9,490.5 506.4,491.3 506.8,490.1 507.3,489.0 507.7,490.0 508.2,489.2 508.6,490.5 509.1,487.0 509.5,488.0 510.0,487.5 510.4,488.8 510.9,493.0 511.3,491.8 511.8,489.3 512.2,490.9 512.7,490.1 513.1,490.6 513.6,491.0 514.0,490.6 514.5,490.0 514.9,489.4 515.4,490.4 515.8,490.7 516.3,489.8 516.7,489.4 517.2,490.4 517.6,489.8 518.1,491.2 518.5,490.2 519.0,489.8 519.4,489.6 519.9,489.8 520.3,487.5 520.8,487.5 521.2,493.9 521.7,492.4 522.1,492.7 522.6,491.5 523.0,491.7 523.5,493.9 523.9,495.0 524.4,494.2 524.8,489.6 525.3,489.0 525.7,488.6 526.2,489.0 526.6,489.6 527.1,487.3 527.5,484.4 528.0,483.9 528.4,486.3 528.9,487.6 529.3,490.2 529.8,491.4 530.2,489.9 530.7,490.6 531.1,490.1 531.6,489.7 532.0,490.0 532.5,489.5 532.9,489.8 533.4,490.1 533.8,490.0 534.3,489.0 534.7,488.9 535.2,488.6 535.6,488.6 536.1,489.3 536.5,490.9 537.0,491.7 537.4,491.8 537.9,489.7 538.3,489.7 538.8,489.3 539.2,489.8 539.7,490.5 540.1,488.7 540.6,491.5 541.0,491.4 541.5,490.3 541.9,490.7 542.4,491.1 542.8,489.6 543.3,489.9 543.7,488.6 544.2,490.5 544.6,490.2 545.1,492.3 545.5,490.9 546.0,490.8 546.4,489.6 546.9,489.5 547.3,491.0 547.8,489.4 548.2,490.8 548.7,490.5 549.1,489.6 549.6,489.3 550.0,491.4 550.5,491.0 550.9,489.6 551.4,490.8 551.8,491.4 552.3,494.2 552.7,492.7 553.2,492.5 553.6,488.9 554.1,490.1 554.5,489.6 555.0,489.9 555.4,491.0 555.9,489.5 556.3,489.2 556.8,488.5 557.2,490.4 557.7,491.5 558.1,490.6 558.6,491.1 559.0,491.1 559.5,490.0 559.9,490.5 560.4,491.1 560.8,491.3 561.3,492.0 561.7,491.0 562.2,491.4 562.6,491.5 563.1,491.3 563.5,489.5 564.0,488.9 564.4,489.0 564.9,489.4 565.3,490.2 565.8,490.4 566.2,490.1 566.7,489.7 567.1,491.0 567.6,489.2 568.0,488.0 568.5,490.8 568.9,489.5 569.4,490.4 569.8,489.4 570.3,489.4 570.7,489.7 571.2,489.7 571.6,490.1 572.1,491.4 572.5,489.3 573.0,490.8 573.4,492.1 573.9,490.5 574.3,488.5 574.8,489.7 575.2,490.1 575.7,490.4 576.1,490.8 576.6,489.7 577.0,491.9 577.5,490.7 577.9,490.3 578.4,489.5 578.8,490.3 579.3,490.5 579.7,491.7 580.2,490.7 580.6,490.2 581.1,490.8 581.5,490.9 582.0,492.4 582.4,492.2 582.9,489.7 583.3,491.0 583.8,489.5 584.2,490.0 584.7,490.5 585.1,490.5 585.6,489.7 586.0,489.7 586.5,488.7 586.9,489.9 587.4,491.4 587.8,491.1 588.3,490.2 588.7,490.5 589.2,492.4 589.6,489.2 590.1,489.3 590.5,489.5 591.0,489.8 591.4,490.2 591.9,490.1 592.3,489.6 592.8,489.6 593.2,490.4 593.7,489.1 594.1,491.4 594.6,490.7 595.0,489.9 595.5,490.1 595.9,490.1 596.4,490.5 596.8,489.4 597.3,489.7 597.7,490.1 598.2,489.5 598.6,489.0 599.1,489.4 599.5,490.1 600.0,489.3 600.4,491.1 600.9,490.7 601.3,491.9 601.8,492.9 602.2,491.7 602.7,491.1 603.1,492.9 603.6,493.2 604.0,493.2 604.5,488.4 604.9,486.7 605.4,486.6 605.8,489.1 606.3,490.8 606.7,491.0 607.2,490.3 607.6,490.4 608.1,490.9 608.5,491.7 609.0,491.2 609.4,490.9 609.9,490.7 610.3,491.6 610.8,490.8 611.2,490.4 611.7,489.3 612.1,490.0 612.6,489.6 613.0,489.0 613.5,490.4 613.9,488.4 614.4,489.1 614.8,488.6 615.3,488.3 615.7,493.1 616.2,492.9 616.6,494.0 617.1,491.5 617.5,488.0 618.0,488.6 618.4,488.9 618.9,490.9 619.3,493.1 619.8,492.9 620.2,492.0 620.7,490.8 621.1,490.7 621.6,490.4 622.0,489.3 622.5,488.4 622.9,489.6 623.4,489.4 623.8,490.4 624.3,490.9 624.7,490.2 625.2,491.2 625.6,489.6 626.1,489.9 626.5,489.9 627.0,491.4 627.4,490.9 627.9,488.9 628.3,489.7 628.8,491.3 629.2,491.0 629.7,492.6 630.1,491.2 630.6,490.9 631.0,489.4 631.5,491.7 631.9,490.4 632.4,489.0 632.8,488.9 633.3,490.0 633.7,489.1 634.2,489.9 634.6,489.6 635.1,490.2 635.5,489.9 636.0,490.4 636.4,490.0 636.9,488.3 637.3,488.7 637.8,487.8 638.2,484.7 638.7,486.1 639.1,486.9 639.6,489.1 640.0,492.7 640.5,491.7 640.9,491.1 641.4,489.7 641.8,491.3 642.3,489.1 642.7,489.2 643.2,490.4 643.6,490.3 644.1,490.5 644.5,489.6 645.0,487.9 645.4,491.0 645.9,492.3 646.3,492.1 646.8,492.0 647.2,492.3 647.7,491.3 648.1,490.1 648.6,488.7 649.0,488.6 649.5,489.6 649.9,490.2 650.4,489.9 650.8,491.4 651.3,491.3 651.7,491.1 652.2,490.3 652.6,488.4 653.1,488.7 653.5,491.4 654.0,491.5 654.4,489.9 654.9,491.4 655.3,488.7 655.8,489.8 656.2,490.1 656.7,490.4 657.1,490.0 657.6,488.7 658.0,490.1 658.5,489.0 658.9,492.8 659.4,490.8 659.8,490.1 660.3,491.3 660.7,490.1 661.2,490.6 661.6,490.7 662.1,489.4 662.5,489.6 663.0,489.3 663.4,489.6 663.9,490.3 664.3,490.9 664.8,489.6 665.2,489.8 665.7,490.1 666.1,490.7 666.6,492.1 667.0,491.9 667.5,491.6 667.9,490.2 668.4,487.8 668.8,488.3 669.3,488.0 669.7,489.4 670.2,490.8 670.6,490.3 671.1,490.8 671.5,489.5 672.0,489.4 672.4,489.6 672.9,489.1 673.3,490.9 673.8,489.5 674.2,490.5 674.7,490.3 675.1,490.2 675.6,491.5 676.0,489.6 676.5,489.2 676.9,491.3 677.4,491.6 677.8,489.7 678.3,491.2" fill="none" stroke="#0a14ff" stroke-width="1.0" />
</g>
<line x1="60.5" y1="10.5" x2="60.5" y2="223.5" stroke="#2a2a2a" stroke-width="1" />
<line x1="60.5" y1="223.5" x2="224.5" y2="223.5" stroke="#2a2a2a" stroke-width="1" />
<line x1="60.5" y1="10.5" x2="224.5" y2="10.5" stroke="#555" stroke-width="1" />
<line x1="224.5" y1="10.5" x2="224.5" y2="223.5" stroke="#777" stroke-width="1" />
<line x1="225.5" y1="10.5" x2="225.5" y2="223.5" stroke="#bbb" stroke-width="1" />
<line x1="56.2" y1="220.8" x2="60.5" y2="220.8" stroke="#444" stroke-width="1" />
<line x1="56.2" y1="180.8" x2="60.5" y2="180.8" stroke="#444" stroke-width="1" />
<line x1="56.2" y1="140.7" x2="60.5" y2="140.7" stroke="#444" stroke-width="1" />
<line x1="56.2" y1="100.7" x2="60.5" y2="100.7" stroke="#444" stroke-width="1" />
<line x1="56.2" y1="60.6" x2="60.5" y2="60.6" stroke="#444" stroke-width="1" />
<line x1="56.2" y1="20.6" x2="60.5" y2="20.6" stroke="#444" stroke-width="1" />
<line x1="58" y1="200.8" x2="60.5" y2="200.8" stroke="#444" stroke-width="1" />
<line x1="58" y1="160.7" x2="60.5" y2="160.7" stroke="#444" stroke-width="1" />
<line x1="58" y1="120.7" x2="60.5" y2="120.7" stroke="#444" stroke-width="1" />
<line x1="58" y1="80.6" x2="60.5" y2="80.6" stroke="#444" stroke-width="1" />
<line x1="58" y1="40.6" x2="60.5" y2="40.6" stroke="#444" stroke-width="1" />
<line x1="60.4" y1="223.5" x2="60.4" y2="227.8" stroke="#444" stroke-width="1" />
<line x1="108.1" y1="223.5" x2="108.1" y2="227.8" stroke="#444" stroke-width="1" />
<line x1="155.8" y1="223.5" x2="155.8" y2="227.8" stroke="#444" stroke-width="1" />
<line x1="203.5" y1="223.5" x2="203.5" y2="227.8" stroke="#444" stroke-width="1" />
<line x1="84.2" y1="223.5" x2="84.2" y2="225.8" stroke="#444" stroke-width="1" />
<line x1="131.9" y1="223.5" x2="131.9" y2="225.8" stroke="#444" stroke-width="1" />
<line x1="179.6" y1="223.5" x2="179.6" y2="225.8" stroke="#444" stroke-width="1" />
<text x="52.2" y="225" font-size="11" text-anchor="end" fill="#161616" stroke="#161616" stroke-width="0.18" >0</text>
<text x="52.2" y="184.9" font-size="11" text-anchor="end" fill="#161616" stroke="#161616" stroke-width="0.18" >15000</text>
<text x="52.2" y="144.9" font-size="11" text-anchor="end" fill="#161616" stroke="#161616" stroke-width="0.18" >30,000</text>
<text x="52.2" y="104.9" font-size="11" text-anchor="end" fill="#161616" stroke="#161616" stroke-width="0.18" >45,000</text>
<text x="52.2" y="64.8" font-size="11" text-anchor="end" fill="#161616" stroke="#161616" stroke-width="0.18" >60,000</text>
<text x="52.2" y="24.8" font-size="11" text-anchor="end" fill="#161616" stroke="#161616" stroke-width="0.18" >75,000</text>
<text x="60.4" y="241.2" font-size="11" text-anchor="middle" fill="#161616" stroke="#161616" stroke-width="0.18" >3.60</text>
<text x="108.1" y="241.2" font-size="11" text-anchor="middle" fill="#161616" stroke="#161616" stroke-width="0.18" >3.62</text>
<text x="155.8" y="241.2" font-size="11" text-anchor="middle" fill="#161616" stroke="#161616" stroke-width="0.18" >3.64</text>
<text x="203.5" y="241.2" font-size="11" text-anchor="middle" fill="#161616" stroke="#161616" stroke-width="0.18" >3.66</text>
<text x="142.6" y="255.7" font-size="11" text-anchor="middle" fill="#161616" stroke="#161616" stroke-width="0.18" >2<tspan font-family="Liberation Sans, sans-serif" font-style="italic" stroke-width="0" fill="#3a3a3a">&#952;</tspan> (degrees)</text>
<text transform="translate(9,121.2) rotate(-90)" font-size="11" text-anchor="middle" fill="#161616" stroke="#161616" stroke-width="0.18" >Intensity (counts)</text>
<line x1="226.5" y1="10.5" x2="226.5" y2="223.5" stroke="#1a1a1a" stroke-width="1.2" />
<line x1="226.5" y1="223.5" x2="296.5" y2="223.5" stroke="#2a2a2a" stroke-width="1" />
<line x1="226.5" y1="10.5" x2="296.5" y2="10.5" stroke="#555" stroke-width="1" />
<line x1="296.5" y1="10.5" x2="296.5" y2="223.5" stroke="#2a2a2a" stroke-width="1" />
<line x1="226.5" y1="223.5" x2="226.5" y2="227.8" stroke="#444" stroke-width="1" />
<line x1="261.3" y1="223.5" x2="261.3" y2="227.8" stroke="#444" stroke-width="1" />
<line x1="296" y1="223.5" x2="296" y2="227.8" stroke="#444" stroke-width="1" />
<line x1="243.9" y1="223.5" x2="243.9" y2="225.8" stroke="#444" stroke-width="1" />
<line x1="278.6" y1="223.5" x2="278.6" y2="225.8" stroke="#444" stroke-width="1" />
<line x1="296.5" y1="222.4" x2="300.8" y2="222.4" stroke="#444" stroke-width="1" />
<line x1="296.5" y1="185.8" x2="300.8" y2="185.8" stroke="#444" stroke-width="1" />
<line x1="296.5" y1="149.2" x2="300.8" y2="149.2" stroke="#444" stroke-width="1" />
<line x1="296.5" y1="112.6" x2="300.8" y2="112.6" stroke="#444" stroke-width="1" />
<line x1="296.5" y1="76" x2="300.8" y2="76" stroke="#444" stroke-width="1" />
<line x1="296.5" y1="39.4" x2="300.8" y2="39.4" stroke="#444" stroke-width="1" />
<line x1="296.5" y1="204.1" x2="299" y2="204.1" stroke="#444" stroke-width="1" />
<line x1="296.5" y1="167.5" x2="299" y2="167.5" stroke="#444" stroke-width="1" />
<line x1="296.5" y1="130.9" x2="299" y2="130.9" stroke="#444" stroke-width="1" />
<line x1="296.5" y1="94.3" x2="299" y2="94.3" stroke="#444" stroke-width="1" />
<line x1="296.5" y1="57.7" x2="299" y2="57.7" stroke="#444" stroke-width="1" />
<line x1="296.5" y1="21.1" x2="299" y2="21.1" stroke="#444" stroke-width="1" />
<text x="226.5" y="241.2" font-size="11" text-anchor="middle" fill="#161616" stroke="#161616" stroke-width="0.18" >0</text>
<text x="261.3" y="241.2" font-size="11" text-anchor="middle" fill="#161616" stroke="#161616" stroke-width="0.18" >150</text>
<text x="296" y="241.2" font-size="11" text-anchor="middle" fill="#161616" stroke="#161616" stroke-width="0.18" >300</text>
<text x="304.3" y="226.4" font-size="11" text-anchor="start" fill="#161616" stroke="#161616" stroke-width="0.18" >0.0</text>
<text x="304.3" y="189.8" font-size="11" text-anchor="start" fill="#161616" stroke="#161616" stroke-width="0.18" >0.1</text>
<text x="304.3" y="153.2" font-size="11" text-anchor="start" fill="#161616" stroke="#161616" stroke-width="0.18" >0.2</text>
<text x="304.3" y="116.6" font-size="11" text-anchor="start" fill="#161616" stroke="#161616" stroke-width="0.18" >0.3</text>
<text x="304.3" y="80" font-size="11" text-anchor="start" fill="#161616" stroke="#161616" stroke-width="0.18" >0.4</text>
<text x="304.3" y="43.4" font-size="11" text-anchor="start" fill="#161616" stroke="#161616" stroke-width="0.18" >0.5</text>
<text transform="translate(334.8,120.4) rotate(-90)" font-size="11" text-anchor="middle" fill="#161616" stroke="#161616" stroke-width="0.18" >Phase fraction</text>
<text x="261.8" y="255.7" font-size="11" text-anchor="middle" fill="#161616" stroke="#161616" stroke-width="0.18" ><tspan font-style="italic">T</tspan> (K)</text>
<polyline points="245.3,134.8 249.9,156.2 261.3,137.6 273.1,108.6 284.4,86.5 295.6,222.0" fill="none" stroke="#555" stroke-width="0.7" />
<polyline points="227.3,56.6 238.3,60.5 249.8,69.8 261.5,65.4 272.9,41.5 284.6,32.4 290.4,26.8 295.5,222.2" fill="none" stroke="#222" stroke-width="0.7" />
<line x1="227.3" y1="53.1" x2="227.3" y2="60.1" stroke="#999" stroke-width="0.6" />
<line x1="225.5" y1="53.1" x2="229.1" y2="53.1" stroke="#999" stroke-width="0.6" />
<line x1="225.5" y1="60.1" x2="229.1" y2="60.1" stroke="#999" stroke-width="0.6" />
<line x1="238.3" y1="56.4" x2="238.3" y2="64.6" stroke="#999" stroke-width="0.6" />
<line x1="236.5" y1="56.4" x2="240.1" y2="56.4" stroke="#999" stroke-width="0.6" />
<line x1="236.5" y1="64.6" x2="240.1" y2="64.6" stroke="#999" stroke-width="0.6" />
<line x1="249.8" y1="65.5" x2="249.8" y2="74.1" stroke="#999" stroke-width="0.6" />
<line x1="248" y1="65.5" x2="251.6" y2="65.5" stroke="#999" stroke-width="0.6" />
<line x1="248" y1="74.1" x2="251.6" y2="74.1" stroke="#999" stroke-width="0.6" />
<line x1="261.5" y1="61.1" x2="261.5" y2="69.7" stroke="#999" stroke-width="0.6" />
<line x1="259.7" y1="61.1" x2="263.3" y2="61.1" stroke="#999" stroke-width="0.6" />
<line x1="259.7" y1="69.7" x2="263.3" y2="69.7" stroke="#999" stroke-width="0.6" />
<line x1="272.9" y1="37" x2="272.9" y2="46" stroke="#999" stroke-width="0.6" />
<line x1="271.1" y1="37" x2="274.7" y2="37" stroke="#999" stroke-width="0.6" />
<line x1="271.1" y1="46" x2="274.7" y2="46" stroke="#999" stroke-width="0.6" />
<line x1="284.6" y1="26.7" x2="284.6" y2="38.1" stroke="#999" stroke-width="0.6" />
<line x1="282.8" y1="26.7" x2="286.4" y2="26.7" stroke="#999" stroke-width="0.6" />
<line x1="282.8" y1="38.1" x2="286.4" y2="38.1" stroke="#999" stroke-width="0.6" />
<line x1="290.4" y1="20.3" x2="290.4" y2="33.3" stroke="#999" stroke-width="0.6" />
<line x1="288.6" y1="20.3" x2="292.2" y2="20.3" stroke="#999" stroke-width="0.6" />
<line x1="288.6" y1="33.3" x2="292.2" y2="33.3" stroke="#999" stroke-width="0.6" />
<rect x="243.1" y="132.6" width="4.4" height="4.4" fill="#fff" stroke="#888" stroke-width="0.8"/>
<line x1="245.3" y1="132.6" x2="245.3" y2="137" stroke="#aaa" stroke-width="0.5" />
<line x1="243.1" y1="134.8" x2="247.5" y2="134.8" stroke="#aaa" stroke-width="0.5" />
<rect x="247.7" y="154" width="4.4" height="4.4" fill="#fff" stroke="#888" stroke-width="0.8"/>
<line x1="249.9" y1="154" x2="249.9" y2="158.4" stroke="#aaa" stroke-width="0.5" />
<line x1="247.7" y1="156.2" x2="252.1" y2="156.2" stroke="#aaa" stroke-width="0.5" />
<rect x="259.1" y="135.4" width="4.4" height="4.4" fill="#fff" stroke="#888" stroke-width="0.8"/>
<line x1="261.3" y1="135.4" x2="261.3" y2="139.8" stroke="#aaa" stroke-width="0.5" />
<line x1="259.1" y1="137.6" x2="263.5" y2="137.6" stroke="#aaa" stroke-width="0.5" />
<rect x="270.9" y="106.4" width="4.4" height="4.4" fill="#fff" stroke="#888" stroke-width="0.8"/>
<line x1="273.1" y1="106.4" x2="273.1" y2="110.8" stroke="#aaa" stroke-width="0.5" />
<line x1="270.9" y1="108.6" x2="275.3" y2="108.6" stroke="#aaa" stroke-width="0.5" />
<rect x="282.2" y="84.3" width="4.4" height="4.4" fill="#fff" stroke="#888" stroke-width="0.8"/>
<line x1="284.4" y1="84.3" x2="284.4" y2="88.7" stroke="#aaa" stroke-width="0.5" />
<line x1="282.2" y1="86.5" x2="286.6" y2="86.5" stroke="#aaa" stroke-width="0.5" />
<rect x="225.2" y="54.5" width="4.3" height="4.3" fill="#000" stroke="#000" stroke-width="0.3"/>
<rect x="236.2" y="58.4" width="4.3" height="4.3" fill="#000" stroke="#000" stroke-width="0.3"/>
<rect x="247.7" y="67.6" width="4.3" height="4.3" fill="#000" stroke="#000" stroke-width="0.3"/>
<rect x="259.4" y="63.3" width="4.3" height="4.3" fill="#000" stroke="#000" stroke-width="0.3"/>
<rect x="270.8" y="39.4" width="4.3" height="4.3" fill="#000" stroke="#000" stroke-width="0.3"/>
<rect x="282.5" y="30.2" width="4.3" height="4.3" fill="#000" stroke="#000" stroke-width="0.3"/>
<rect x="288.2" y="24.7" width="4.3" height="4.3" fill="#000" stroke="#000" stroke-width="0.3"/>
<rect x="293.9" y="220.6" width="3.2" height="3.2" fill="#000" stroke="#000" stroke-width="0.3"/>
<rect x="228.3" y="198.6" width="30" height="22.8" fill="#fff" stroke="#bbb" stroke-width="0.8"/>
<line x1="229.2" y1="204.8" x2="248.4" y2="204.8" stroke="#888" stroke-width="0.8" />
<rect x="236.7" y="202.5" width="4.6" height="4.6" fill="#fff" stroke="#888" stroke-width="0.8"/>
<line x1="229.2" y1="215" x2="248.4" y2="215" stroke="#222" stroke-width="0.8" />
<rect x="236.9" y="212.9" width="4.2" height="4.2" fill="#000" stroke="#000" stroke-width="0.3"/>
<text x="250.6" y="207.4" font-size="7.2" text-anchor="start" fill="#333" stroke="#333" stroke-width="0.18" >X</text>
<text x="250.6" y="217.6" font-size="7.2" text-anchor="start" fill="#333" stroke="#333" stroke-width="0.18" >N</text>
<line x1="414.5" y1="10.5" x2="414.5" y2="223.5" stroke="#2a2a2a" stroke-width="1" />
<line x1="414.5" y1="223.5" x2="679.5" y2="223.5" stroke="#2a2a2a" stroke-width="1" />
<line x1="679.5" y1="10.5" x2="679.5" y2="223.5" stroke="#444" stroke-width="1" />
<line x1="414.5" y1="10.5" x2="679.5" y2="10.5" stroke="#444" stroke-width="1" />
<line x1="410.2" y1="212" x2="414.5" y2="212" stroke="#444" stroke-width="1" />
<line x1="410.2" y1="173.2" x2="414.5" y2="173.2" stroke="#444" stroke-width="1" />
<line x1="410.2" y1="134.3" x2="414.5" y2="134.3" stroke="#444" stroke-width="1" />
<line x1="410.2" y1="95.5" x2="414.5" y2="95.5" stroke="#444" stroke-width="1" />
<line x1="410.2" y1="56.6" x2="414.5" y2="56.6" stroke="#444" stroke-width="1" />
<line x1="410.2" y1="17.8" x2="414.5" y2="17.8" stroke="#444" stroke-width="1" />
<line x1="412.2" y1="192.6" x2="414.5" y2="192.6" stroke="#444" stroke-width="1" />
<line x1="412.2" y1="153.8" x2="414.5" y2="153.8" stroke="#444" stroke-width="1" />
<line x1="412.2" y1="114.9" x2="414.5" y2="114.9" stroke="#444" stroke-width="1" />
<line x1="412.2" y1="76.1" x2="414.5" y2="76.1" stroke="#444" stroke-width="1" />
<line x1="412.2" y1="37.2" x2="414.5" y2="37.2" stroke="#444" stroke-width="1" />
<line x1="443.8" y1="223.5" x2="443.8" y2="227.8" stroke="#444" stroke-width="1" />
<line x1="502.7" y1="223.5" x2="502.7" y2="227.8" stroke="#444" stroke-width="1" />
<line x1="561.6" y1="223.5" x2="561.6" y2="227.8" stroke="#444" stroke-width="1" />
<line x1="620.5" y1="223.5" x2="620.5" y2="227.8" stroke="#444" stroke-width="1" />
<line x1="473.2" y1="223.5" x2="473.2" y2="225.8" stroke="#444" stroke-width="1" />
<line x1="532.1" y1="223.5" x2="532.1" y2="225.8" stroke="#444" stroke-width="1" />
<line x1="591.1" y1="223.5" x2="591.1" y2="225.8" stroke="#444" stroke-width="1" />
<line x1="650" y1="223.5" x2="650" y2="225.8" stroke="#444" stroke-width="1" />
<text x="405.6" y="177.4" font-size="11" text-anchor="end" fill="#161616" stroke="#161616" stroke-width="0.18" >0</text>
<text x="405.6" y="138.5" font-size="11" text-anchor="end" fill="#161616" stroke="#161616" stroke-width="0.18" >10,000</text>
<text x="405.6" y="99.7" font-size="11" text-anchor="end" fill="#161616" stroke="#161616" stroke-width="0.18" >20,000</text>
<text x="405.6" y="60.8" font-size="11" text-anchor="end" fill="#161616" stroke="#161616" stroke-width="0.18" >30,000</text>
<text x="405.6" y="22" font-size="11" text-anchor="end" fill="#161616" stroke="#161616" stroke-width="0.18" >40,000</text>
<text x="443.8" y="241.2" font-size="11" text-anchor="middle" fill="#161616" stroke="#161616" stroke-width="0.18" >4</text>
<text x="502.7" y="241.2" font-size="11" text-anchor="middle" fill="#161616" stroke="#161616" stroke-width="0.18" >8</text>
<text x="561.6" y="241.2" font-size="11" text-anchor="middle" fill="#161616" stroke="#161616" stroke-width="0.18" >12</text>
<text x="620.5" y="241.2" font-size="11" text-anchor="middle" fill="#161616" stroke="#161616" stroke-width="0.18" >16</text>
<text x="679.4" y="241.2" font-size="11" text-anchor="middle" fill="#161616" stroke="#161616" stroke-width="0.18" >20</text>
<text x="546.5" y="255.9" font-size="11" text-anchor="middle" fill="#161616" stroke="#161616" stroke-width="0.18" >2<tspan font-family="Liberation Sans, sans-serif" font-style="italic" stroke-width="0" fill="#3a3a3a">&#952;</tspan> (degrees)</text>
<text transform="translate(362.9,116.5) rotate(-90)" font-size="11" text-anchor="middle" fill="#161616" stroke="#161616" stroke-width="0.18" >Intensity (counts)</text>
<line x1="60.5" y1="284.5" x2="60.5" y2="498.5" stroke="#2a2a2a" stroke-width="1" />
<line x1="60.5" y1="498.5" x2="224.5" y2="498.5" stroke="#2a2a2a" stroke-width="1" />
<line x1="60.5" y1="284.5" x2="224.5" y2="284.5" stroke="#555" stroke-width="1" />
<line x1="224.5" y1="284.5" x2="224.5" y2="498.5" stroke="#777" stroke-width="1" />
<line x1="225.5" y1="284.5" x2="225.5" y2="498.5" stroke="#bbb" stroke-width="1" />
<line x1="56.2" y1="486.8" x2="60.5" y2="486.8" stroke="#444" stroke-width="1" />
<line x1="56.2" y1="454.9" x2="60.5" y2="454.9" stroke="#444" stroke-width="1" />
<line x1="56.2" y1="422.9" x2="60.5" y2="422.9" stroke="#444" stroke-width="1" />
<line x1="56.2" y1="391" x2="60.5" y2="391" stroke="#444" stroke-width="1" />
<line x1="56.2" y1="359.1" x2="60.5" y2="359.1" stroke="#444" stroke-width="1" />
<line x1="56.2" y1="327.1" x2="60.5" y2="327.1" stroke="#444" stroke-width="1" />
<line x1="56.2" y1="295.2" x2="60.5" y2="295.2" stroke="#444" stroke-width="1" />
<line x1="58" y1="470.8" x2="60.5" y2="470.8" stroke="#444" stroke-width="1" />
<line x1="58" y1="438.9" x2="60.5" y2="438.9" stroke="#444" stroke-width="1" />
<line x1="58" y1="407" x2="60.5" y2="407" stroke="#444" stroke-width="1" />
<line x1="58" y1="375" x2="60.5" y2="375" stroke="#444" stroke-width="1" />
<line x1="58" y1="343.1" x2="60.5" y2="343.1" stroke="#444" stroke-width="1" />
<line x1="58" y1="311.2" x2="60.5" y2="311.2" stroke="#444" stroke-width="1" />
<line x1="60.2" y1="498.5" x2="60.2" y2="502.8" stroke="#444" stroke-width="1" />
<line x1="116.7" y1="498.5" x2="116.7" y2="502.8" stroke="#444" stroke-width="1" />
<line x1="173.2" y1="498.5" x2="173.2" y2="502.8" stroke="#444" stroke-width="1" />
<line x1="88.4" y1="498.5" x2="88.4" y2="500.8" stroke="#444" stroke-width="1" />
<line x1="144.9" y1="498.5" x2="144.9" y2="500.8" stroke="#444" stroke-width="1" />
<line x1="201.4" y1="498.5" x2="201.4" y2="500.8" stroke="#444" stroke-width="1" />
<text x="51.8" y="491" font-size="11" text-anchor="end" fill="#161616" stroke="#161616" stroke-width="0.18" >300</text>
<text x="51.8" y="459.1" font-size="11" text-anchor="end" fill="#161616" stroke="#161616" stroke-width="0.18" >600</text>
<text x="51.8" y="427.1" font-size="11" text-anchor="end" fill="#161616" stroke="#161616" stroke-width="0.18" >900</text>
<text x="51.8" y="395.2" font-size="11" text-anchor="end" fill="#161616" stroke="#161616" stroke-width="0.18" >1200</text>
<text x="51.8" y="363.3" font-size="11" text-anchor="end" fill="#161616" stroke="#161616" stroke-width="0.18" >1500</text>
<text x="51.8" y="331.3" font-size="11" text-anchor="end" fill="#161616" stroke="#161616" stroke-width="0.18" >1800</text>
<text x="51.8" y="299.4" font-size="11" text-anchor="end" fill="#161616" stroke="#161616" stroke-width="0.18" >2100</text>
<text x="60.2" y="515.2" font-size="11" text-anchor="middle" fill="#161616" stroke="#161616" stroke-width="0.18" >15</text>
<text x="116.7" y="515.2" font-size="11" text-anchor="middle" fill="#161616" stroke="#161616" stroke-width="0.18" >18</text>
<text x="173.2" y="515.2" font-size="11" text-anchor="middle" fill="#161616" stroke="#161616" stroke-width="0.18" >21</text>
<text x="143.8" y="530" font-size="11" text-anchor="middle" fill="#161616" stroke="#161616" stroke-width="0.18" >2<tspan font-family="Liberation Sans, sans-serif" font-style="italic" stroke-width="0" fill="#3a3a3a">&#952;</tspan> (degrees)</text>
<text transform="translate(17.8,390.4) rotate(-90)" font-size="11" text-anchor="middle" fill="#161616" stroke="#161616" stroke-width="0.18" >Intensity (counts)</text>
<text x="68.6" y="301.2" font-size="9.3" text-anchor="start" fill="#161616" stroke="#161616" stroke-width="0.18" >CO (1/200)</text>
<text x="132.6" y="301.2" font-size="9.3" text-anchor="start" fill="#161616" stroke="#161616" stroke-width="0.18" >CA (000)</text>
<line x1="226.5" y1="284.5" x2="226.5" y2="498.5" stroke="#1a1a1a" stroke-width="1.2" />
<line x1="226.5" y1="284.5" x2="295.5" y2="284.5" stroke="#555" stroke-width="1" />
<line x1="295.5" y1="284.5" x2="295.5" y2="497.5" stroke="#2a2a2a" stroke-width="1" />
<line x1="226.5" y1="497.5" x2="295.5" y2="497.5" stroke="#333" stroke-width="1" />
<line x1="226.2" y1="497.5" x2="226.2" y2="501.8" stroke="#444" stroke-width="1" />
<line x1="261" y1="497.5" x2="261" y2="501.8" stroke="#444" stroke-width="1" />
<line x1="295.7" y1="497.5" x2="295.7" y2="501.8" stroke="#444" stroke-width="1" />
<line x1="243.6" y1="497.5" x2="243.6" y2="499.8" stroke="#444" stroke-width="1" />
<line x1="278.3" y1="497.5" x2="278.3" y2="499.8" stroke="#444" stroke-width="1" />
<line x1="295.5" y1="497.5" x2="299.8" y2="497.5" stroke="#444" stroke-width="1" />
<line x1="295.5" y1="447" x2="299.8" y2="447" stroke="#444" stroke-width="1" />
<line x1="295.5" y1="396.5" x2="299.8" y2="396.5" stroke="#444" stroke-width="1" />
<line x1="295.5" y1="346" x2="299.8" y2="346" stroke="#444" stroke-width="1" />
<line x1="295.5" y1="295.5" x2="299.8" y2="295.5" stroke="#444" stroke-width="1" />
<line x1="295.5" y1="472.2" x2="298" y2="472.2" stroke="#444" stroke-width="1" />
<line x1="295.5" y1="421.8" x2="298" y2="421.8" stroke="#444" stroke-width="1" />
<line x1="295.5" y1="371.2" x2="298" y2="371.2" stroke="#444" stroke-width="1" />
<line x1="295.5" y1="320.8" x2="298" y2="320.8" stroke="#444" stroke-width="1" />
<text x="226.2" y="515.2" font-size="11" text-anchor="middle" fill="#161616" stroke="#161616" stroke-width="0.18" >0</text>
<text x="261" y="515.2" font-size="11" text-anchor="middle" fill="#161616" stroke="#161616" stroke-width="0.18" >150</text>
<text x="295.7" y="515.2" font-size="11" text-anchor="middle" fill="#161616" stroke="#161616" stroke-width="0.18" >300</text>
<text x="304.8" y="501.5" font-size="11" text-anchor="start" fill="#161616" stroke="#161616" stroke-width="0.18" >0</text>
<text x="304.8" y="451" font-size="11" text-anchor="start" fill="#161616" stroke="#161616" stroke-width="0.18" >1</text>
<text x="304.8" y="400.5" font-size="11" text-anchor="start" fill="#161616" stroke="#161616" stroke-width="0.18" >2</text>
<text x="304.8" y="350" font-size="11" text-anchor="start" fill="#161616" stroke="#161616" stroke-width="0.18" >3</text>
<text x="304.8" y="299.5" font-size="11" text-anchor="start" fill="#161616" stroke="#161616" stroke-width="0.18" >4</text>
<text transform="translate(326.4,395.3) rotate(-90)" font-size="11.3" text-anchor="middle" fill="#161616" stroke="#161616" stroke-width="0.18">Magnetic moment (<tspan font-style="italic">&#956;</tspan><tspan font-size="8" dy="2.2">B</tspan><tspan dy="-2.2">)</tspan></text>
<text x="261.3" y="530.2" font-size="11" text-anchor="middle" fill="#161616" stroke="#161616" stroke-width="0.18" ><tspan font-style="italic">T</tspan> (K)</text>
<polyline points="227.2,313.3 238.2,311.1 249.6,314.5 260.9,325.0 272.8,330.6 284.5,344.0 290.1,362.3 295.5,497.0" fill="none" stroke="#555" stroke-width="0.7" />
<polyline points="227.2,293.3 238.2,295.7 249.6,302.3 260.9,309.9 272.8,325.5 284.5,352.6 290.1,380.6 295.5,497.0" fill="none" stroke="#222" stroke-width="0.8" />
<rect x="225" y="311.1" width="4.4" height="4.4" fill="#fff" stroke="#666" stroke-width="0.8"/>
<rect x="236" y="308.9" width="4.4" height="4.4" fill="#fff" stroke="#666" stroke-width="0.8"/>
<rect x="247.4" y="312.3" width="4.4" height="4.4" fill="#fff" stroke="#666" stroke-width="0.8"/>
<rect x="258.7" y="322.8" width="4.4" height="4.4" fill="#fff" stroke="#666" stroke-width="0.8"/>
<rect x="270.6" y="328.4" width="4.4" height="4.4" fill="#fff" stroke="#666" stroke-width="0.8"/>
<rect x="282.3" y="341.8" width="4.4" height="4.4" fill="#fff" stroke="#666" stroke-width="0.8"/>
<rect x="287.9" y="360.1" width="4.4" height="4.4" fill="#fff" stroke="#666" stroke-width="0.8"/>
<rect x="225" y="291.2" width="4.3" height="4.3" fill="#000" stroke="#000" stroke-width="0.3"/>
<rect x="236" y="293.6" width="4.3" height="4.3" fill="#000" stroke="#000" stroke-width="0.3"/>
<rect x="247.4" y="300.2" width="4.3" height="4.3" fill="#000" stroke="#000" stroke-width="0.3"/>
<rect x="258.8" y="307.8" width="4.3" height="4.3" fill="#000" stroke="#000" stroke-width="0.3"/>
<rect x="270.7" y="323.4" width="4.3" height="4.3" fill="#000" stroke="#000" stroke-width="0.3"/>
<rect x="282.4" y="350.5" width="4.3" height="4.3" fill="#000" stroke="#000" stroke-width="0.3"/>
<rect x="288" y="378.5" width="4.3" height="4.3" fill="#000" stroke="#000" stroke-width="0.3"/>
<rect x="227.6" y="474.2" width="59.3" height="20" fill="#fff" stroke="#aaa" stroke-width="0.8"/>
<line x1="228.6" y1="479.7" x2="246.2" y2="479.7" stroke="#333" stroke-width="0.8" />
<rect x="235.4" y="477.7" width="4" height="4" fill="#000" stroke="#000" stroke-width="0.3"/>
<line x1="228.6" y1="489" x2="246.2" y2="489" stroke="#888" stroke-width="0.8" />
<rect x="235.2" y="486.9" width="4.3" height="4.3" fill="#fff" stroke="#777" stroke-width="0.8"/>
<text x="248.3" y="482.3" font-size="7.2" text-anchor="start" fill="#333" stroke="#333" stroke-width="0.18" >CO (1/200)</text>
<text x="248.3" y="491.6" font-size="7.2" text-anchor="start" fill="#333" stroke="#333" stroke-width="0.18" >CA (000)</text>
<line x1="413.5" y1="284.5" x2="413.5" y2="497.5" stroke="#2a2a2a" stroke-width="1" />
<line x1="413.5" y1="497.5" x2="678.5" y2="497.5" stroke="#2a2a2a" stroke-width="1" />
<line x1="678.5" y1="284.5" x2="678.5" y2="497.5" stroke="#444" stroke-width="1" />
<line x1="413.5" y1="284.5" x2="678.5" y2="284.5" stroke="#444" stroke-width="1" />
<line x1="409.2" y1="471.4" x2="413.5" y2="471.4" stroke="#444" stroke-width="1" />
<line x1="409.2" y1="416.2" x2="413.5" y2="416.2" stroke="#444" stroke-width="1" />
<line x1="409.2" y1="361.1" x2="413.5" y2="361.1" stroke="#444" stroke-width="1" />
<line x1="409.2" y1="305.9" x2="413.5" y2="305.9" stroke="#444" stroke-width="1" />
<line x1="411.2" y1="443.8" x2="413.5" y2="443.8" stroke="#444" stroke-width="1" />
<line x1="411.2" y1="388.7" x2="413.5" y2="388.7" stroke="#444" stroke-width="1" />
<line x1="411.2" y1="333.5" x2="413.5" y2="333.5" stroke="#444" stroke-width="1" />
<line x1="451.7" y1="497.5" x2="451.7" y2="501.8" stroke="#444" stroke-width="1" />
<line x1="498.9" y1="497.5" x2="498.9" y2="501.8" stroke="#444" stroke-width="1" />
<line x1="546.2" y1="497.5" x2="546.2" y2="501.8" stroke="#444" stroke-width="1" />
<line x1="593.4" y1="497.5" x2="593.4" y2="501.8" stroke="#444" stroke-width="1" />
<line x1="640.6" y1="497.5" x2="640.6" y2="501.8" stroke="#444" stroke-width="1" />
<line x1="428.1" y1="497.5" x2="428.1" y2="499.8" stroke="#444" stroke-width="1" />
<line x1="475.3" y1="497.5" x2="475.3" y2="499.8" stroke="#444" stroke-width="1" />
<line x1="522.6" y1="497.5" x2="522.6" y2="499.8" stroke="#444" stroke-width="1" />
<line x1="569.8" y1="497.5" x2="569.8" y2="499.8" stroke="#444" stroke-width="1" />
<line x1="617" y1="497.5" x2="617" y2="499.8" stroke="#444" stroke-width="1" />
<line x1="664.2" y1="497.5" x2="664.2" y2="499.8" stroke="#444" stroke-width="1" />
<text x="405" y="475.6" font-size="11" text-anchor="end" fill="#161616" stroke="#161616" stroke-width="0.18" >0</text>
<text x="405" y="420.4" font-size="11" text-anchor="end" fill="#161616" stroke="#161616" stroke-width="0.18" >500</text>
<text x="405" y="365.3" font-size="11" text-anchor="end" fill="#161616" stroke="#161616" stroke-width="0.18" >1000</text>
<text x="405" y="310.1" font-size="11" text-anchor="end" fill="#161616" stroke="#161616" stroke-width="0.18" >1500</text>
<text x="451.7" y="515.1" font-size="11" text-anchor="middle" fill="#161616" stroke="#161616" stroke-width="0.18" >25</text>
<text x="498.9" y="515.1" font-size="11" text-anchor="middle" fill="#161616" stroke="#161616" stroke-width="0.18" >50</text>
<text x="546.2" y="515.1" font-size="11" text-anchor="middle" fill="#161616" stroke="#161616" stroke-width="0.18" >75</text>
<text x="593.4" y="515.1" font-size="11" text-anchor="middle" fill="#161616" stroke="#161616" stroke-width="0.18" >100</text>
<text x="640.6" y="515.1" font-size="11" text-anchor="middle" fill="#161616" stroke="#161616" stroke-width="0.18" >125</text>
<text x="546.4" y="530.3" font-size="11" text-anchor="middle" fill="#161616" stroke="#161616" stroke-width="0.18" >2<tspan font-family="Liberation Sans, sans-serif" font-style="italic" stroke-width="0" fill="#3a3a3a">&#952;</tspan> (degrees)</text>
<text transform="translate(362.9,390) rotate(-90)" font-size="11" text-anchor="middle" fill="#161616" stroke="#161616" stroke-width="0.18" >Intensity (counts)</text>
<text x="0.8" y="11.8" font-size="15.5" font-weight="bold" fill="#111">a</text>
<text x="356.5" y="11.8" font-size="15.5" font-weight="bold" fill="#111">b</text>
<text x="1.0" y="288.9" font-size="15.5" font-weight="bold" fill="#111">c</text>
<text x="356.3" y="289.1" font-size="15.5" font-weight="bold" fill="#111">d</text>
</svg>
</body></html>
